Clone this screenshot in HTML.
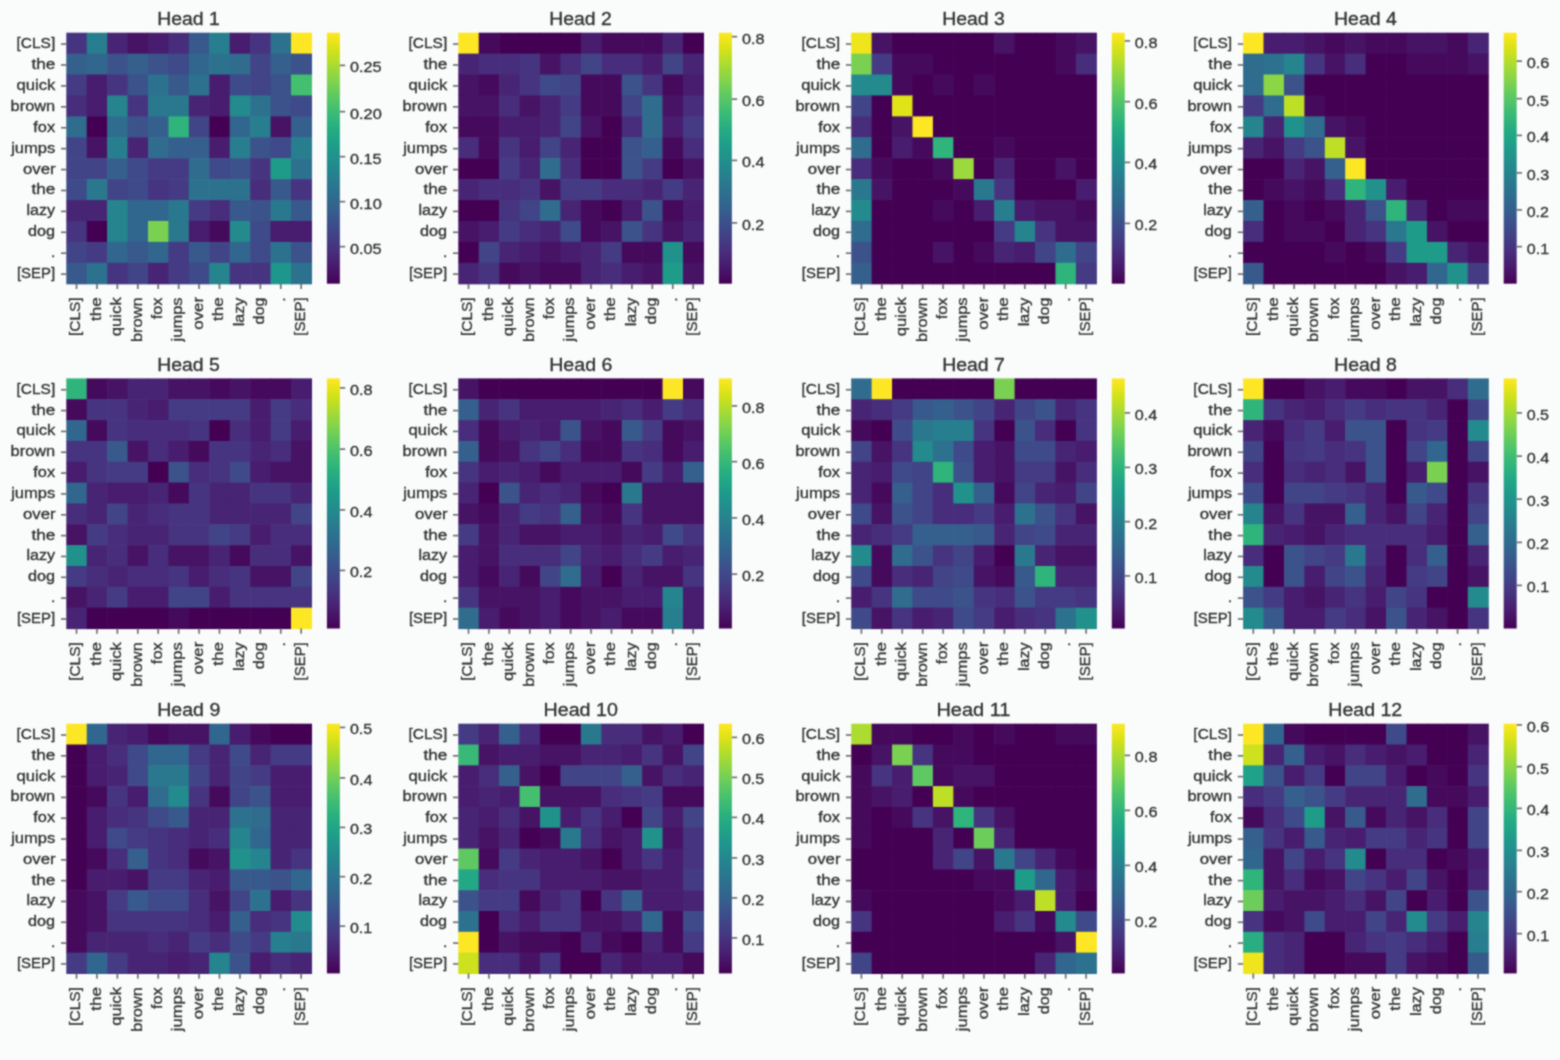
<!DOCTYPE html><html><head><meta charset="utf-8"><style>html,body{margin:0;padding:0;background:#fafbfb;width:1560px;height:1060px;overflow:hidden}svg{display:block}text{font-family:"Liberation Sans",sans-serif;fill:#303030;stroke:#303030;stroke-width:0.30px}</style></head><body>
<svg width="1560" height="1060" viewBox="0 0 1560 1060">
<defs><linearGradient id="vir" x1="0" y1="0" x2="0" y2="1"><stop offset="0.000" stop-color="#fde725"/><stop offset="0.031" stop-color="#ece51b"/><stop offset="0.062" stop-color="#d8e219"/><stop offset="0.094" stop-color="#c2df23"/><stop offset="0.125" stop-color="#addc30"/><stop offset="0.156" stop-color="#98d83e"/><stop offset="0.188" stop-color="#84d44b"/><stop offset="0.219" stop-color="#70cf57"/><stop offset="0.250" stop-color="#5ec962"/><stop offset="0.281" stop-color="#4ec36b"/><stop offset="0.312" stop-color="#3fbc73"/><stop offset="0.344" stop-color="#32b67a"/><stop offset="0.375" stop-color="#28ae80"/><stop offset="0.406" stop-color="#22a785"/><stop offset="0.438" stop-color="#1fa088"/><stop offset="0.469" stop-color="#1f988b"/><stop offset="0.500" stop-color="#21918c"/><stop offset="0.531" stop-color="#23898e"/><stop offset="0.562" stop-color="#26828e"/><stop offset="0.594" stop-color="#297a8e"/><stop offset="0.625" stop-color="#2c728e"/><stop offset="0.656" stop-color="#2f6b8e"/><stop offset="0.688" stop-color="#33638d"/><stop offset="0.719" stop-color="#375b8d"/><stop offset="0.750" stop-color="#3b528b"/><stop offset="0.781" stop-color="#3e4989"/><stop offset="0.812" stop-color="#424086"/><stop offset="0.844" stop-color="#453781"/><stop offset="0.875" stop-color="#472d7b"/><stop offset="0.906" stop-color="#482374"/><stop offset="0.938" stop-color="#48186a"/><stop offset="0.969" stop-color="#470d60"/><stop offset="1.000" stop-color="#440154"/></linearGradient><filter id="bl" x="-1%" y="-1%" width="102%" height="102%" color-interpolation-filters="sRGB"><feConvolveMatrix order="3" kernelMatrix="1 2 1 2 6 2 1 2 1" edgeMode="duplicate"/></filter></defs><g filter="url(#bl)"><rect x="0" y="0" width="1560" height="1060" fill="#fafbfb"/>
<g><rect x="66.30" y="32.70" width="21.03" height="21.52" fill="#463480"/><rect x="86.72" y="32.70" width="21.03" height="21.52" fill="#277e8e"/><rect x="107.15" y="32.70" width="21.03" height="21.52" fill="#482475"/><rect x="127.58" y="32.70" width="21.03" height="21.52" fill="#471365"/><rect x="148.00" y="32.70" width="21.03" height="21.52" fill="#481c6e"/><rect x="168.43" y="32.70" width="21.03" height="21.52" fill="#472d7b"/><rect x="188.85" y="32.70" width="21.03" height="21.52" fill="#38598c"/><rect x="209.27" y="32.70" width="21.03" height="21.52" fill="#277e8e"/><rect x="229.70" y="32.70" width="21.03" height="21.52" fill="#481c6e"/><rect x="250.12" y="32.70" width="21.03" height="21.52" fill="#463480"/><rect x="270.55" y="32.70" width="21.03" height="21.52" fill="#2c728e"/><rect x="290.98" y="32.70" width="21.03" height="21.52" fill="#fde725"/><rect x="66.30" y="53.62" width="21.03" height="21.52" fill="#355f8d"/><rect x="86.72" y="53.62" width="21.03" height="21.52" fill="#31668e"/><rect x="107.15" y="53.62" width="21.03" height="21.52" fill="#3b528b"/><rect x="127.58" y="53.62" width="21.03" height="21.52" fill="#355f8d"/><rect x="148.00" y="53.62" width="21.03" height="21.52" fill="#3b528b"/><rect x="168.43" y="53.62" width="21.03" height="21.52" fill="#3e4a89"/><rect x="188.85" y="53.62" width="21.03" height="21.52" fill="#31668e"/><rect x="209.27" y="53.62" width="21.03" height="21.52" fill="#2c728e"/><rect x="229.70" y="53.62" width="21.03" height="21.52" fill="#2f6c8e"/><rect x="250.12" y="53.62" width="21.03" height="21.52" fill="#414487"/><rect x="270.55" y="53.62" width="21.03" height="21.52" fill="#355f8d"/><rect x="290.98" y="53.62" width="21.03" height="21.52" fill="#3b528b"/><rect x="66.30" y="74.53" width="21.03" height="21.52" fill="#443b84"/><rect x="86.72" y="74.53" width="21.03" height="21.52" fill="#481c6e"/><rect x="107.15" y="74.53" width="21.03" height="21.52" fill="#463480"/><rect x="127.58" y="74.53" width="21.03" height="21.52" fill="#3b528b"/><rect x="148.00" y="74.53" width="21.03" height="21.52" fill="#2c728e"/><rect x="168.43" y="74.53" width="21.03" height="21.52" fill="#38598c"/><rect x="188.85" y="74.53" width="21.03" height="21.52" fill="#2c728e"/><rect x="209.27" y="74.53" width="21.03" height="21.52" fill="#481c6e"/><rect x="229.70" y="74.53" width="21.03" height="21.52" fill="#3e4a89"/><rect x="250.12" y="74.53" width="21.03" height="21.52" fill="#414487"/><rect x="270.55" y="74.53" width="21.03" height="21.52" fill="#3b528b"/><rect x="290.98" y="74.53" width="21.03" height="21.52" fill="#44bf70"/><rect x="66.30" y="95.45" width="21.03" height="21.52" fill="#472d7b"/><rect x="86.72" y="95.45" width="21.03" height="21.52" fill="#481c6e"/><rect x="107.15" y="95.45" width="21.03" height="21.52" fill="#25848e"/><rect x="127.58" y="95.45" width="21.03" height="21.52" fill="#463480"/><rect x="148.00" y="95.45" width="21.03" height="21.52" fill="#2a788e"/><rect x="168.43" y="95.45" width="21.03" height="21.52" fill="#2a788e"/><rect x="188.85" y="95.45" width="21.03" height="21.52" fill="#482475"/><rect x="209.27" y="95.45" width="21.03" height="21.52" fill="#481c6e"/><rect x="229.70" y="95.45" width="21.03" height="21.52" fill="#238a8d"/><rect x="250.12" y="95.45" width="21.03" height="21.52" fill="#2c728e"/><rect x="270.55" y="95.45" width="21.03" height="21.52" fill="#3b528b"/><rect x="290.98" y="95.45" width="21.03" height="21.52" fill="#3e4a89"/><rect x="66.30" y="116.37" width="21.03" height="21.52" fill="#2f6c8e"/><rect x="86.72" y="116.37" width="21.03" height="21.52" fill="#440154"/><rect x="107.15" y="116.37" width="21.03" height="21.52" fill="#2f6c8e"/><rect x="127.58" y="116.37" width="21.03" height="21.52" fill="#3b528b"/><rect x="148.00" y="116.37" width="21.03" height="21.52" fill="#355f8d"/><rect x="168.43" y="116.37" width="21.03" height="21.52" fill="#2fb47c"/><rect x="188.85" y="116.37" width="21.03" height="21.52" fill="#414487"/><rect x="209.27" y="116.37" width="21.03" height="21.52" fill="#440154"/><rect x="229.70" y="116.37" width="21.03" height="21.52" fill="#31668e"/><rect x="250.12" y="116.37" width="21.03" height="21.52" fill="#277e8e"/><rect x="270.55" y="116.37" width="21.03" height="21.52" fill="#471365"/><rect x="290.98" y="116.37" width="21.03" height="21.52" fill="#355f8d"/><rect x="66.30" y="137.28" width="21.03" height="21.52" fill="#414487"/><rect x="86.72" y="137.28" width="21.03" height="21.52" fill="#471365"/><rect x="107.15" y="137.28" width="21.03" height="21.52" fill="#277e8e"/><rect x="127.58" y="137.28" width="21.03" height="21.52" fill="#482475"/><rect x="148.00" y="137.28" width="21.03" height="21.52" fill="#2f6c8e"/><rect x="168.43" y="137.28" width="21.03" height="21.52" fill="#355f8d"/><rect x="188.85" y="137.28" width="21.03" height="21.52" fill="#355f8d"/><rect x="209.27" y="137.28" width="21.03" height="21.52" fill="#481c6e"/><rect x="229.70" y="137.28" width="21.03" height="21.52" fill="#277e8e"/><rect x="250.12" y="137.28" width="21.03" height="21.52" fill="#3b528b"/><rect x="270.55" y="137.28" width="21.03" height="21.52" fill="#3e4a89"/><rect x="290.98" y="137.28" width="21.03" height="21.52" fill="#277e8e"/><rect x="66.30" y="158.20" width="21.03" height="21.52" fill="#414487"/><rect x="86.72" y="158.20" width="21.03" height="21.52" fill="#414487"/><rect x="107.15" y="158.20" width="21.03" height="21.52" fill="#355f8d"/><rect x="127.58" y="158.20" width="21.03" height="21.52" fill="#3e4a89"/><rect x="148.00" y="158.20" width="21.03" height="21.52" fill="#443b84"/><rect x="168.43" y="158.20" width="21.03" height="21.52" fill="#443b84"/><rect x="188.85" y="158.20" width="21.03" height="21.52" fill="#2f6c8e"/><rect x="209.27" y="158.20" width="21.03" height="21.52" fill="#3e4a89"/><rect x="229.70" y="158.20" width="21.03" height="21.52" fill="#3b528b"/><rect x="250.12" y="158.20" width="21.03" height="21.52" fill="#463480"/><rect x="270.55" y="158.20" width="21.03" height="21.52" fill="#1e9c89"/><rect x="290.98" y="158.20" width="21.03" height="21.52" fill="#2c728e"/><rect x="66.30" y="179.12" width="21.03" height="21.52" fill="#3e4a89"/><rect x="86.72" y="179.12" width="21.03" height="21.52" fill="#2a788e"/><rect x="107.15" y="179.12" width="21.03" height="21.52" fill="#414487"/><rect x="127.58" y="179.12" width="21.03" height="21.52" fill="#3e4a89"/><rect x="148.00" y="179.12" width="21.03" height="21.52" fill="#463480"/><rect x="168.43" y="179.12" width="21.03" height="21.52" fill="#443b84"/><rect x="188.85" y="179.12" width="21.03" height="21.52" fill="#2c728e"/><rect x="209.27" y="179.12" width="21.03" height="21.52" fill="#2c728e"/><rect x="229.70" y="179.12" width="21.03" height="21.52" fill="#2c728e"/><rect x="250.12" y="179.12" width="21.03" height="21.52" fill="#472d7b"/><rect x="270.55" y="179.12" width="21.03" height="21.52" fill="#38598c"/><rect x="290.98" y="179.12" width="21.03" height="21.52" fill="#463480"/><rect x="66.30" y="200.03" width="21.03" height="21.52" fill="#482475"/><rect x="86.72" y="200.03" width="21.03" height="21.52" fill="#482475"/><rect x="107.15" y="200.03" width="21.03" height="21.52" fill="#25848e"/><rect x="127.58" y="200.03" width="21.03" height="21.52" fill="#31668e"/><rect x="148.00" y="200.03" width="21.03" height="21.52" fill="#31668e"/><rect x="168.43" y="200.03" width="21.03" height="21.52" fill="#2a788e"/><rect x="188.85" y="200.03" width="21.03" height="21.52" fill="#443b84"/><rect x="209.27" y="200.03" width="21.03" height="21.52" fill="#472d7b"/><rect x="229.70" y="200.03" width="21.03" height="21.52" fill="#38598c"/><rect x="250.12" y="200.03" width="21.03" height="21.52" fill="#3b528b"/><rect x="270.55" y="200.03" width="21.03" height="21.52" fill="#2a788e"/><rect x="290.98" y="200.03" width="21.03" height="21.52" fill="#38598c"/><rect x="66.30" y="220.95" width="21.03" height="21.52" fill="#463480"/><rect x="86.72" y="220.95" width="21.03" height="21.52" fill="#440154"/><rect x="107.15" y="220.95" width="21.03" height="21.52" fill="#25848e"/><rect x="127.58" y="220.95" width="21.03" height="21.52" fill="#31668e"/><rect x="148.00" y="220.95" width="21.03" height="21.52" fill="#7ad151"/><rect x="168.43" y="220.95" width="21.03" height="21.52" fill="#2a788e"/><rect x="188.85" y="220.95" width="21.03" height="21.52" fill="#481c6e"/><rect x="209.27" y="220.95" width="21.03" height="21.52" fill="#460a5d"/><rect x="229.70" y="220.95" width="21.03" height="21.52" fill="#238a8d"/><rect x="250.12" y="220.95" width="21.03" height="21.52" fill="#3e4a89"/><rect x="270.55" y="220.95" width="21.03" height="21.52" fill="#481c6e"/><rect x="290.98" y="220.95" width="21.03" height="21.52" fill="#481c6e"/><rect x="66.30" y="241.87" width="21.03" height="21.52" fill="#414487"/><rect x="86.72" y="241.87" width="21.03" height="21.52" fill="#443b84"/><rect x="107.15" y="241.87" width="21.03" height="21.52" fill="#31668e"/><rect x="127.58" y="241.87" width="21.03" height="21.52" fill="#38598c"/><rect x="148.00" y="241.87" width="21.03" height="21.52" fill="#31668e"/><rect x="168.43" y="241.87" width="21.03" height="21.52" fill="#443b84"/><rect x="188.85" y="241.87" width="21.03" height="21.52" fill="#38598c"/><rect x="209.27" y="241.87" width="21.03" height="21.52" fill="#414487"/><rect x="229.70" y="241.87" width="21.03" height="21.52" fill="#31668e"/><rect x="250.12" y="241.87" width="21.03" height="21.52" fill="#3e4a89"/><rect x="270.55" y="241.87" width="21.03" height="21.52" fill="#2c728e"/><rect x="290.98" y="241.87" width="21.03" height="21.52" fill="#3b528b"/><rect x="66.30" y="262.78" width="21.03" height="21.52" fill="#38598c"/><rect x="86.72" y="262.78" width="21.03" height="21.52" fill="#2c728e"/><rect x="107.15" y="262.78" width="21.03" height="21.52" fill="#463480"/><rect x="127.58" y="262.78" width="21.03" height="21.52" fill="#414487"/><rect x="148.00" y="262.78" width="21.03" height="21.52" fill="#482475"/><rect x="168.43" y="262.78" width="21.03" height="21.52" fill="#443b84"/><rect x="188.85" y="262.78" width="21.03" height="21.52" fill="#3e4a89"/><rect x="209.27" y="262.78" width="21.03" height="21.52" fill="#25848e"/><rect x="229.70" y="262.78" width="21.03" height="21.52" fill="#463480"/><rect x="250.12" y="262.78" width="21.03" height="21.52" fill="#463480"/><rect x="270.55" y="262.78" width="21.03" height="21.52" fill="#1f968b"/><rect x="290.98" y="262.78" width="21.03" height="21.52" fill="#2c728e"/><text transform="translate(157.24 25.00) scale(1.0551 1)" font-size="18.42">Head 1</text><line x1="61.00" y1="44.06" x2="66.30" y2="44.06" stroke="#6a6a6a" stroke-width="1.60"/><text transform="translate(16.56 48.06) scale(1.0236 1)" font-size="15.11">[CLS]</text><line x1="61.00" y1="64.98" x2="66.30" y2="64.98" stroke="#6a6a6a" stroke-width="1.60"/><text transform="translate(31.57 68.98) scale(1.1336 1)" font-size="15.11">the</text><line x1="61.00" y1="85.89" x2="66.30" y2="85.89" stroke="#6a6a6a" stroke-width="1.60"/><text transform="translate(16.45 89.89) scale(1.1024 1)" font-size="15.11">quick</text><line x1="61.00" y1="106.81" x2="66.30" y2="106.81" stroke="#6a6a6a" stroke-width="1.60"/><text transform="translate(10.60 110.81) scale(1.0843 1)" font-size="15.11">brown</text><line x1="61.00" y1="127.73" x2="66.30" y2="127.73" stroke="#6a6a6a" stroke-width="1.60"/><text transform="translate(33.24 131.73) scale(1.0841 1)" font-size="15.11">fox</text><line x1="61.00" y1="148.64" x2="66.30" y2="148.64" stroke="#6a6a6a" stroke-width="1.60"/><text transform="translate(11.13 152.64) scale(1.0954 1)" font-size="15.11">jumps</text><line x1="61.00" y1="169.56" x2="66.30" y2="169.56" stroke="#6a6a6a" stroke-width="1.60"/><text transform="translate(22.94 173.56) scale(1.1137 1)" font-size="15.11">over</text><line x1="61.00" y1="190.47" x2="66.30" y2="190.47" stroke="#6a6a6a" stroke-width="1.60"/><text transform="translate(31.57 194.47) scale(1.1336 1)" font-size="15.11">the</text><line x1="61.00" y1="211.39" x2="66.30" y2="211.39" stroke="#6a6a6a" stroke-width="1.60"/><text transform="translate(26.38 215.39) scale(1.0647 1)" font-size="15.11">lazy</text><line x1="61.00" y1="232.31" x2="66.30" y2="232.31" stroke="#6a6a6a" stroke-width="1.60"/><text transform="translate(28.05 236.31) scale(1.0734 1)" font-size="15.11">dog</text><line x1="61.00" y1="253.22" x2="66.30" y2="253.22" stroke="#6a6a6a" stroke-width="1.60"/><text transform="translate(50.88 257.23) scale(1.0454 1)" font-size="15.11">.</text><line x1="61.00" y1="274.14" x2="66.30" y2="274.14" stroke="#6a6a6a" stroke-width="1.60"/><text transform="translate(16.90 278.14) scale(0.9918 1)" font-size="15.11">[SEP]</text><line x1="76.51" y1="283.70" x2="76.51" y2="289.00" stroke="#6a6a6a" stroke-width="1.60"/><text transform="translate(80.36 336.04) rotate(-90) scale(1.0236 1)" font-size="15.11">[CLS]</text><line x1="96.94" y1="283.70" x2="96.94" y2="289.00" stroke="#6a6a6a" stroke-width="1.60"/><text transform="translate(100.79 321.03) rotate(-90) scale(1.1336 1)" font-size="15.11">the</text><line x1="117.36" y1="283.70" x2="117.36" y2="289.00" stroke="#6a6a6a" stroke-width="1.60"/><text transform="translate(121.21 336.15) rotate(-90) scale(1.1024 1)" font-size="15.11">quick</text><line x1="137.79" y1="283.70" x2="137.79" y2="289.00" stroke="#6a6a6a" stroke-width="1.60"/><text transform="translate(141.64 342.00) rotate(-90) scale(1.0843 1)" font-size="15.11">brown</text><line x1="158.21" y1="283.70" x2="158.21" y2="289.00" stroke="#6a6a6a" stroke-width="1.60"/><text transform="translate(162.06 319.36) rotate(-90) scale(1.0841 1)" font-size="15.11">fox</text><line x1="178.64" y1="283.70" x2="178.64" y2="289.00" stroke="#6a6a6a" stroke-width="1.60"/><text transform="translate(182.49 341.47) rotate(-90) scale(1.0954 1)" font-size="15.11">jumps</text><line x1="199.06" y1="283.70" x2="199.06" y2="289.00" stroke="#6a6a6a" stroke-width="1.60"/><text transform="translate(202.91 329.66) rotate(-90) scale(1.1137 1)" font-size="15.11">over</text><line x1="219.49" y1="283.70" x2="219.49" y2="289.00" stroke="#6a6a6a" stroke-width="1.60"/><text transform="translate(223.34 321.03) rotate(-90) scale(1.1336 1)" font-size="15.11">the</text><line x1="239.91" y1="283.70" x2="239.91" y2="289.00" stroke="#6a6a6a" stroke-width="1.60"/><text transform="translate(243.76 326.22) rotate(-90) scale(1.0647 1)" font-size="15.11">lazy</text><line x1="260.34" y1="283.70" x2="260.34" y2="289.00" stroke="#6a6a6a" stroke-width="1.60"/><text transform="translate(264.19 324.55) rotate(-90) scale(1.0734 1)" font-size="15.11">dog</text><line x1="280.76" y1="283.70" x2="280.76" y2="289.00" stroke="#6a6a6a" stroke-width="1.60"/><text transform="translate(284.61 301.72) rotate(-90) scale(1.0454 1)" font-size="15.11">.</text><line x1="301.19" y1="283.70" x2="301.19" y2="289.00" stroke="#6a6a6a" stroke-width="1.60"/><text transform="translate(305.04 335.70) rotate(-90) scale(0.9918 1)" font-size="15.11">[SEP]</text><rect x="326.90" y="32.70" width="13.00" height="251.00" fill="url(#vir)"/><line x1="339.90" y1="65.40" x2="345.20" y2="65.40" stroke="#6a6a6a" stroke-width="1.60"/><text transform="translate(349.93 72.30) scale(1.0486 1)" font-size="15.48">0.25</text><line x1="339.90" y1="111.65" x2="345.20" y2="111.65" stroke="#6a6a6a" stroke-width="1.60"/><text transform="translate(349.92 118.55) scale(1.0576 1)" font-size="15.48">0.20</text><line x1="339.90" y1="156.65" x2="345.20" y2="156.65" stroke="#6a6a6a" stroke-width="1.60"/><text transform="translate(349.93 163.55) scale(1.0486 1)" font-size="15.48">0.15</text><line x1="339.90" y1="201.65" x2="345.20" y2="201.65" stroke="#6a6a6a" stroke-width="1.60"/><text transform="translate(349.92 208.55) scale(1.0576 1)" font-size="15.48">0.10</text><line x1="339.90" y1="246.65" x2="345.20" y2="246.65" stroke="#6a6a6a" stroke-width="1.60"/><text transform="translate(349.93 253.55) scale(1.0486 1)" font-size="15.48">0.05</text></g>
<g><rect x="458.30" y="32.70" width="21.03" height="21.52" fill="#fde725"/><rect x="478.73" y="32.70" width="21.03" height="21.52" fill="#460a5d"/><rect x="499.15" y="32.70" width="21.03" height="21.52" fill="#440154"/><rect x="519.58" y="32.70" width="21.03" height="21.52" fill="#440154"/><rect x="540.00" y="32.70" width="21.03" height="21.52" fill="#440154"/><rect x="560.42" y="32.70" width="21.03" height="21.52" fill="#440154"/><rect x="580.85" y="32.70" width="21.03" height="21.52" fill="#481c6e"/><rect x="601.27" y="32.70" width="21.03" height="21.52" fill="#460a5d"/><rect x="621.70" y="32.70" width="21.03" height="21.52" fill="#460a5d"/><rect x="642.12" y="32.70" width="21.03" height="21.52" fill="#460a5d"/><rect x="662.55" y="32.70" width="21.03" height="21.52" fill="#482475"/><rect x="682.98" y="32.70" width="21.03" height="21.52" fill="#440154"/><rect x="458.30" y="53.62" width="21.03" height="21.52" fill="#482475"/><rect x="478.73" y="53.62" width="21.03" height="21.52" fill="#472d7b"/><rect x="499.15" y="53.62" width="21.03" height="21.52" fill="#472d7b"/><rect x="519.58" y="53.62" width="21.03" height="21.52" fill="#463480"/><rect x="540.00" y="53.62" width="21.03" height="21.52" fill="#471365"/><rect x="560.42" y="53.62" width="21.03" height="21.52" fill="#472d7b"/><rect x="580.85" y="53.62" width="21.03" height="21.52" fill="#414487"/><rect x="601.27" y="53.62" width="21.03" height="21.52" fill="#472d7b"/><rect x="621.70" y="53.62" width="21.03" height="21.52" fill="#472d7b"/><rect x="642.12" y="53.62" width="21.03" height="21.52" fill="#481c6e"/><rect x="662.55" y="53.62" width="21.03" height="21.52" fill="#414487"/><rect x="682.98" y="53.62" width="21.03" height="21.52" fill="#482475"/><rect x="458.30" y="74.53" width="21.03" height="21.52" fill="#471365"/><rect x="478.73" y="74.53" width="21.03" height="21.52" fill="#460a5d"/><rect x="499.15" y="74.53" width="21.03" height="21.52" fill="#482475"/><rect x="519.58" y="74.53" width="21.03" height="21.52" fill="#463480"/><rect x="540.00" y="74.53" width="21.03" height="21.52" fill="#3e4a89"/><rect x="560.42" y="74.53" width="21.03" height="21.52" fill="#414487"/><rect x="580.85" y="74.53" width="21.03" height="21.52" fill="#460a5d"/><rect x="601.27" y="74.53" width="21.03" height="21.52" fill="#460a5d"/><rect x="621.70" y="74.53" width="21.03" height="21.52" fill="#3b528b"/><rect x="642.12" y="74.53" width="21.03" height="21.52" fill="#463480"/><rect x="662.55" y="74.53" width="21.03" height="21.52" fill="#460a5d"/><rect x="682.98" y="74.53" width="21.03" height="21.52" fill="#481c6e"/><rect x="458.30" y="95.45" width="21.03" height="21.52" fill="#471365"/><rect x="478.73" y="95.45" width="21.03" height="21.52" fill="#471365"/><rect x="499.15" y="95.45" width="21.03" height="21.52" fill="#472d7b"/><rect x="519.58" y="95.45" width="21.03" height="21.52" fill="#471365"/><rect x="540.00" y="95.45" width="21.03" height="21.52" fill="#482475"/><rect x="560.42" y="95.45" width="21.03" height="21.52" fill="#443b84"/><rect x="580.85" y="95.45" width="21.03" height="21.52" fill="#460a5d"/><rect x="601.27" y="95.45" width="21.03" height="21.52" fill="#460a5d"/><rect x="621.70" y="95.45" width="21.03" height="21.52" fill="#414487"/><rect x="642.12" y="95.45" width="21.03" height="21.52" fill="#2f6c8e"/><rect x="662.55" y="95.45" width="21.03" height="21.52" fill="#471365"/><rect x="682.98" y="95.45" width="21.03" height="21.52" fill="#472d7b"/><rect x="458.30" y="116.37" width="21.03" height="21.52" fill="#460a5d"/><rect x="478.73" y="116.37" width="21.03" height="21.52" fill="#460a5d"/><rect x="499.15" y="116.37" width="21.03" height="21.52" fill="#481c6e"/><rect x="519.58" y="116.37" width="21.03" height="21.52" fill="#481c6e"/><rect x="540.00" y="116.37" width="21.03" height="21.52" fill="#482475"/><rect x="560.42" y="116.37" width="21.03" height="21.52" fill="#414487"/><rect x="580.85" y="116.37" width="21.03" height="21.52" fill="#471365"/><rect x="601.27" y="116.37" width="21.03" height="21.52" fill="#440154"/><rect x="621.70" y="116.37" width="21.03" height="21.52" fill="#472d7b"/><rect x="642.12" y="116.37" width="21.03" height="21.52" fill="#2f6c8e"/><rect x="662.55" y="116.37" width="21.03" height="21.52" fill="#481c6e"/><rect x="682.98" y="116.37" width="21.03" height="21.52" fill="#443b84"/><rect x="458.30" y="137.28" width="21.03" height="21.52" fill="#472d7b"/><rect x="478.73" y="137.28" width="21.03" height="21.52" fill="#460a5d"/><rect x="499.15" y="137.28" width="21.03" height="21.52" fill="#463480"/><rect x="519.58" y="137.28" width="21.03" height="21.52" fill="#481c6e"/><rect x="540.00" y="137.28" width="21.03" height="21.52" fill="#414487"/><rect x="560.42" y="137.28" width="21.03" height="21.52" fill="#482475"/><rect x="580.85" y="137.28" width="21.03" height="21.52" fill="#440154"/><rect x="601.27" y="137.28" width="21.03" height="21.52" fill="#440154"/><rect x="621.70" y="137.28" width="21.03" height="21.52" fill="#3b528b"/><rect x="642.12" y="137.28" width="21.03" height="21.52" fill="#355f8d"/><rect x="662.55" y="137.28" width="21.03" height="21.52" fill="#460a5d"/><rect x="682.98" y="137.28" width="21.03" height="21.52" fill="#472d7b"/><rect x="458.30" y="158.20" width="21.03" height="21.52" fill="#440154"/><rect x="478.73" y="158.20" width="21.03" height="21.52" fill="#440154"/><rect x="499.15" y="158.20" width="21.03" height="21.52" fill="#443b84"/><rect x="519.58" y="158.20" width="21.03" height="21.52" fill="#482475"/><rect x="540.00" y="158.20" width="21.03" height="21.52" fill="#2f6c8e"/><rect x="560.42" y="158.20" width="21.03" height="21.52" fill="#472d7b"/><rect x="580.85" y="158.20" width="21.03" height="21.52" fill="#440154"/><rect x="601.27" y="158.20" width="21.03" height="21.52" fill="#440154"/><rect x="621.70" y="158.20" width="21.03" height="21.52" fill="#3b528b"/><rect x="642.12" y="158.20" width="21.03" height="21.52" fill="#443b84"/><rect x="662.55" y="158.20" width="21.03" height="21.52" fill="#440154"/><rect x="682.98" y="158.20" width="21.03" height="21.52" fill="#471365"/><rect x="458.30" y="179.12" width="21.03" height="21.52" fill="#482475"/><rect x="478.73" y="179.12" width="21.03" height="21.52" fill="#472d7b"/><rect x="499.15" y="179.12" width="21.03" height="21.52" fill="#472d7b"/><rect x="519.58" y="179.12" width="21.03" height="21.52" fill="#463480"/><rect x="540.00" y="179.12" width="21.03" height="21.52" fill="#471365"/><rect x="560.42" y="179.12" width="21.03" height="21.52" fill="#443b84"/><rect x="580.85" y="179.12" width="21.03" height="21.52" fill="#443b84"/><rect x="601.27" y="179.12" width="21.03" height="21.52" fill="#472d7b"/><rect x="621.70" y="179.12" width="21.03" height="21.52" fill="#472d7b"/><rect x="642.12" y="179.12" width="21.03" height="21.52" fill="#482475"/><rect x="662.55" y="179.12" width="21.03" height="21.52" fill="#443b84"/><rect x="682.98" y="179.12" width="21.03" height="21.52" fill="#482475"/><rect x="458.30" y="200.03" width="21.03" height="21.52" fill="#440154"/><rect x="478.73" y="200.03" width="21.03" height="21.52" fill="#440154"/><rect x="499.15" y="200.03" width="21.03" height="21.52" fill="#463480"/><rect x="519.58" y="200.03" width="21.03" height="21.52" fill="#414487"/><rect x="540.00" y="200.03" width="21.03" height="21.52" fill="#2f6c8e"/><rect x="560.42" y="200.03" width="21.03" height="21.52" fill="#482475"/><rect x="580.85" y="200.03" width="21.03" height="21.52" fill="#460a5d"/><rect x="601.27" y="200.03" width="21.03" height="21.52" fill="#440154"/><rect x="621.70" y="200.03" width="21.03" height="21.52" fill="#481c6e"/><rect x="642.12" y="200.03" width="21.03" height="21.52" fill="#3b528b"/><rect x="662.55" y="200.03" width="21.03" height="21.52" fill="#460a5d"/><rect x="682.98" y="200.03" width="21.03" height="21.52" fill="#481c6e"/><rect x="458.30" y="220.95" width="21.03" height="21.52" fill="#471365"/><rect x="478.73" y="220.95" width="21.03" height="21.52" fill="#481c6e"/><rect x="499.15" y="220.95" width="21.03" height="21.52" fill="#443b84"/><rect x="519.58" y="220.95" width="21.03" height="21.52" fill="#472d7b"/><rect x="540.00" y="220.95" width="21.03" height="21.52" fill="#482475"/><rect x="560.42" y="220.95" width="21.03" height="21.52" fill="#3e4a89"/><rect x="580.85" y="220.95" width="21.03" height="21.52" fill="#460a5d"/><rect x="601.27" y="220.95" width="21.03" height="21.52" fill="#471365"/><rect x="621.70" y="220.95" width="21.03" height="21.52" fill="#3b528b"/><rect x="642.12" y="220.95" width="21.03" height="21.52" fill="#463480"/><rect x="662.55" y="220.95" width="21.03" height="21.52" fill="#471365"/><rect x="682.98" y="220.95" width="21.03" height="21.52" fill="#482475"/><rect x="458.30" y="241.87" width="21.03" height="21.52" fill="#440154"/><rect x="478.73" y="241.87" width="21.03" height="21.52" fill="#414487"/><rect x="499.15" y="241.87" width="21.03" height="21.52" fill="#482475"/><rect x="519.58" y="241.87" width="21.03" height="21.52" fill="#481c6e"/><rect x="540.00" y="241.87" width="21.03" height="21.52" fill="#471365"/><rect x="560.42" y="241.87" width="21.03" height="21.52" fill="#481c6e"/><rect x="580.85" y="241.87" width="21.03" height="21.52" fill="#482475"/><rect x="601.27" y="241.87" width="21.03" height="21.52" fill="#443b84"/><rect x="621.70" y="241.87" width="21.03" height="21.52" fill="#460a5d"/><rect x="642.12" y="241.87" width="21.03" height="21.52" fill="#460a5d"/><rect x="662.55" y="241.87" width="21.03" height="21.52" fill="#21918c"/><rect x="682.98" y="241.87" width="21.03" height="21.52" fill="#460a5d"/><rect x="458.30" y="262.78" width="21.03" height="21.52" fill="#482475"/><rect x="478.73" y="262.78" width="21.03" height="21.52" fill="#463480"/><rect x="499.15" y="262.78" width="21.03" height="21.52" fill="#460a5d"/><rect x="519.58" y="262.78" width="21.03" height="21.52" fill="#471365"/><rect x="540.00" y="262.78" width="21.03" height="21.52" fill="#460a5d"/><rect x="560.42" y="262.78" width="21.03" height="21.52" fill="#460a5d"/><rect x="580.85" y="262.78" width="21.03" height="21.52" fill="#482475"/><rect x="601.27" y="262.78" width="21.03" height="21.52" fill="#472d7b"/><rect x="621.70" y="262.78" width="21.03" height="21.52" fill="#481c6e"/><rect x="642.12" y="262.78" width="21.03" height="21.52" fill="#471365"/><rect x="662.55" y="262.78" width="21.03" height="21.52" fill="#1e9c89"/><rect x="682.98" y="262.78" width="21.03" height="21.52" fill="#471365"/><text transform="translate(549.24 25.00) scale(1.0531 1)" font-size="18.42">Head 2</text><line x1="453.00" y1="44.06" x2="458.30" y2="44.06" stroke="#6a6a6a" stroke-width="1.60"/><text transform="translate(408.56 48.06) scale(1.0236 1)" font-size="15.11">[CLS]</text><line x1="453.00" y1="64.98" x2="458.30" y2="64.98" stroke="#6a6a6a" stroke-width="1.60"/><text transform="translate(423.57 68.98) scale(1.1336 1)" font-size="15.11">the</text><line x1="453.00" y1="85.89" x2="458.30" y2="85.89" stroke="#6a6a6a" stroke-width="1.60"/><text transform="translate(408.45 89.89) scale(1.1024 1)" font-size="15.11">quick</text><line x1="453.00" y1="106.81" x2="458.30" y2="106.81" stroke="#6a6a6a" stroke-width="1.60"/><text transform="translate(402.60 110.81) scale(1.0843 1)" font-size="15.11">brown</text><line x1="453.00" y1="127.73" x2="458.30" y2="127.73" stroke="#6a6a6a" stroke-width="1.60"/><text transform="translate(425.24 131.73) scale(1.0841 1)" font-size="15.11">fox</text><line x1="453.00" y1="148.64" x2="458.30" y2="148.64" stroke="#6a6a6a" stroke-width="1.60"/><text transform="translate(403.13 152.64) scale(1.0954 1)" font-size="15.11">jumps</text><line x1="453.00" y1="169.56" x2="458.30" y2="169.56" stroke="#6a6a6a" stroke-width="1.60"/><text transform="translate(414.94 173.56) scale(1.1137 1)" font-size="15.11">over</text><line x1="453.00" y1="190.47" x2="458.30" y2="190.47" stroke="#6a6a6a" stroke-width="1.60"/><text transform="translate(423.57 194.47) scale(1.1336 1)" font-size="15.11">the</text><line x1="453.00" y1="211.39" x2="458.30" y2="211.39" stroke="#6a6a6a" stroke-width="1.60"/><text transform="translate(418.38 215.39) scale(1.0647 1)" font-size="15.11">lazy</text><line x1="453.00" y1="232.31" x2="458.30" y2="232.31" stroke="#6a6a6a" stroke-width="1.60"/><text transform="translate(420.05 236.31) scale(1.0734 1)" font-size="15.11">dog</text><line x1="453.00" y1="253.22" x2="458.30" y2="253.22" stroke="#6a6a6a" stroke-width="1.60"/><text transform="translate(442.88 257.23) scale(1.0454 1)" font-size="15.11">.</text><line x1="453.00" y1="274.14" x2="458.30" y2="274.14" stroke="#6a6a6a" stroke-width="1.60"/><text transform="translate(408.90 278.14) scale(0.9918 1)" font-size="15.11">[SEP]</text><line x1="468.51" y1="283.70" x2="468.51" y2="289.00" stroke="#6a6a6a" stroke-width="1.60"/><text transform="translate(472.36 336.04) rotate(-90) scale(1.0236 1)" font-size="15.11">[CLS]</text><line x1="488.94" y1="283.70" x2="488.94" y2="289.00" stroke="#6a6a6a" stroke-width="1.60"/><text transform="translate(492.79 321.03) rotate(-90) scale(1.1336 1)" font-size="15.11">the</text><line x1="509.36" y1="283.70" x2="509.36" y2="289.00" stroke="#6a6a6a" stroke-width="1.60"/><text transform="translate(513.21 336.15) rotate(-90) scale(1.1024 1)" font-size="15.11">quick</text><line x1="529.79" y1="283.70" x2="529.79" y2="289.00" stroke="#6a6a6a" stroke-width="1.60"/><text transform="translate(533.64 342.00) rotate(-90) scale(1.0843 1)" font-size="15.11">brown</text><line x1="550.21" y1="283.70" x2="550.21" y2="289.00" stroke="#6a6a6a" stroke-width="1.60"/><text transform="translate(554.06 319.36) rotate(-90) scale(1.0841 1)" font-size="15.11">fox</text><line x1="570.64" y1="283.70" x2="570.64" y2="289.00" stroke="#6a6a6a" stroke-width="1.60"/><text transform="translate(574.49 341.47) rotate(-90) scale(1.0954 1)" font-size="15.11">jumps</text><line x1="591.06" y1="283.70" x2="591.06" y2="289.00" stroke="#6a6a6a" stroke-width="1.60"/><text transform="translate(594.91 329.66) rotate(-90) scale(1.1137 1)" font-size="15.11">over</text><line x1="611.49" y1="283.70" x2="611.49" y2="289.00" stroke="#6a6a6a" stroke-width="1.60"/><text transform="translate(615.34 321.03) rotate(-90) scale(1.1336 1)" font-size="15.11">the</text><line x1="631.91" y1="283.70" x2="631.91" y2="289.00" stroke="#6a6a6a" stroke-width="1.60"/><text transform="translate(635.76 326.22) rotate(-90) scale(1.0647 1)" font-size="15.11">lazy</text><line x1="652.34" y1="283.70" x2="652.34" y2="289.00" stroke="#6a6a6a" stroke-width="1.60"/><text transform="translate(656.19 324.55) rotate(-90) scale(1.0734 1)" font-size="15.11">dog</text><line x1="672.76" y1="283.70" x2="672.76" y2="289.00" stroke="#6a6a6a" stroke-width="1.60"/><text transform="translate(676.61 301.72) rotate(-90) scale(1.0454 1)" font-size="15.11">.</text><line x1="693.19" y1="283.70" x2="693.19" y2="289.00" stroke="#6a6a6a" stroke-width="1.60"/><text transform="translate(697.04 335.70) rotate(-90) scale(0.9918 1)" font-size="15.11">[SEP]</text><rect x="718.90" y="32.70" width="13.00" height="251.00" fill="url(#vir)"/><line x1="731.90" y1="36.65" x2="737.20" y2="36.65" stroke="#6a6a6a" stroke-width="1.60"/><text transform="translate(741.93 43.55) scale(1.0505 1)" font-size="15.48">0.8</text><line x1="731.90" y1="99.15" x2="737.20" y2="99.15" stroke="#6a6a6a" stroke-width="1.60"/><text transform="translate(741.93 106.05) scale(1.0548 1)" font-size="15.48">0.6</text><line x1="731.90" y1="160.40" x2="737.20" y2="160.40" stroke="#6a6a6a" stroke-width="1.60"/><text transform="translate(741.93 167.30) scale(1.0480 1)" font-size="15.48">0.4</text><line x1="731.90" y1="222.90" x2="737.20" y2="222.90" stroke="#6a6a6a" stroke-width="1.60"/><text transform="translate(741.94 229.80) scale(1.0329 1)" font-size="15.48">0.2</text></g>
<g><rect x="851.20" y="32.70" width="21.03" height="21.52" fill="#efe51c"/><rect x="871.62" y="32.70" width="21.03" height="21.52" fill="#471365"/><rect x="892.05" y="32.70" width="21.03" height="21.52" fill="#440154"/><rect x="912.48" y="32.70" width="21.03" height="21.52" fill="#440154"/><rect x="932.90" y="32.70" width="21.03" height="21.52" fill="#440154"/><rect x="953.33" y="32.70" width="21.03" height="21.52" fill="#440154"/><rect x="973.75" y="32.70" width="21.03" height="21.52" fill="#440154"/><rect x="994.18" y="32.70" width="21.03" height="21.52" fill="#471365"/><rect x="1014.60" y="32.70" width="21.03" height="21.52" fill="#440154"/><rect x="1035.03" y="32.70" width="21.03" height="21.52" fill="#440154"/><rect x="1055.45" y="32.70" width="21.03" height="21.52" fill="#460a5d"/><rect x="1075.88" y="32.70" width="21.03" height="21.52" fill="#471365"/><rect x="851.20" y="53.62" width="21.03" height="21.52" fill="#7ad151"/><rect x="871.62" y="53.62" width="21.03" height="21.52" fill="#443b84"/><rect x="892.05" y="53.62" width="21.03" height="21.52" fill="#460a5d"/><rect x="912.48" y="53.62" width="21.03" height="21.52" fill="#460a5d"/><rect x="932.90" y="53.62" width="21.03" height="21.52" fill="#440154"/><rect x="953.33" y="53.62" width="21.03" height="21.52" fill="#440154"/><rect x="973.75" y="53.62" width="21.03" height="21.52" fill="#440154"/><rect x="994.18" y="53.62" width="21.03" height="21.52" fill="#440154"/><rect x="1014.60" y="53.62" width="21.03" height="21.52" fill="#440154"/><rect x="1035.03" y="53.62" width="21.03" height="21.52" fill="#440154"/><rect x="1055.45" y="53.62" width="21.03" height="21.52" fill="#460a5d"/><rect x="1075.88" y="53.62" width="21.03" height="21.52" fill="#472d7b"/><rect x="851.20" y="74.53" width="21.03" height="21.52" fill="#238a8d"/><rect x="871.62" y="74.53" width="21.03" height="21.52" fill="#238a8d"/><rect x="892.05" y="74.53" width="21.03" height="21.52" fill="#460a5d"/><rect x="912.48" y="74.53" width="21.03" height="21.52" fill="#440154"/><rect x="932.90" y="74.53" width="21.03" height="21.52" fill="#460a5d"/><rect x="953.33" y="74.53" width="21.03" height="21.52" fill="#440154"/><rect x="973.75" y="74.53" width="21.03" height="21.52" fill="#460a5d"/><rect x="994.18" y="74.53" width="21.03" height="21.52" fill="#440154"/><rect x="1014.60" y="74.53" width="21.03" height="21.52" fill="#440154"/><rect x="1035.03" y="74.53" width="21.03" height="21.52" fill="#440154"/><rect x="1055.45" y="74.53" width="21.03" height="21.52" fill="#440154"/><rect x="1075.88" y="74.53" width="21.03" height="21.52" fill="#440154"/><rect x="851.20" y="95.45" width="21.03" height="21.52" fill="#414487"/><rect x="871.62" y="95.45" width="21.03" height="21.52" fill="#440154"/><rect x="892.05" y="95.45" width="21.03" height="21.52" fill="#dfe318"/><rect x="912.48" y="95.45" width="21.03" height="21.52" fill="#440154"/><rect x="932.90" y="95.45" width="21.03" height="21.52" fill="#440154"/><rect x="953.33" y="95.45" width="21.03" height="21.52" fill="#440154"/><rect x="973.75" y="95.45" width="21.03" height="21.52" fill="#440154"/><rect x="994.18" y="95.45" width="21.03" height="21.52" fill="#440154"/><rect x="1014.60" y="95.45" width="21.03" height="21.52" fill="#440154"/><rect x="1035.03" y="95.45" width="21.03" height="21.52" fill="#440154"/><rect x="1055.45" y="95.45" width="21.03" height="21.52" fill="#440154"/><rect x="1075.88" y="95.45" width="21.03" height="21.52" fill="#440154"/><rect x="851.20" y="116.37" width="21.03" height="21.52" fill="#472d7b"/><rect x="871.62" y="116.37" width="21.03" height="21.52" fill="#440154"/><rect x="892.05" y="116.37" width="21.03" height="21.52" fill="#471365"/><rect x="912.48" y="116.37" width="21.03" height="21.52" fill="#fde725"/><rect x="932.90" y="116.37" width="21.03" height="21.52" fill="#440154"/><rect x="953.33" y="116.37" width="21.03" height="21.52" fill="#440154"/><rect x="973.75" y="116.37" width="21.03" height="21.52" fill="#440154"/><rect x="994.18" y="116.37" width="21.03" height="21.52" fill="#440154"/><rect x="1014.60" y="116.37" width="21.03" height="21.52" fill="#440154"/><rect x="1035.03" y="116.37" width="21.03" height="21.52" fill="#440154"/><rect x="1055.45" y="116.37" width="21.03" height="21.52" fill="#440154"/><rect x="1075.88" y="116.37" width="21.03" height="21.52" fill="#440154"/><rect x="851.20" y="137.28" width="21.03" height="21.52" fill="#2f6c8e"/><rect x="871.62" y="137.28" width="21.03" height="21.52" fill="#440154"/><rect x="892.05" y="137.28" width="21.03" height="21.52" fill="#481c6e"/><rect x="912.48" y="137.28" width="21.03" height="21.52" fill="#460a5d"/><rect x="932.90" y="137.28" width="21.03" height="21.52" fill="#2fb47c"/><rect x="953.33" y="137.28" width="21.03" height="21.52" fill="#440154"/><rect x="973.75" y="137.28" width="21.03" height="21.52" fill="#440154"/><rect x="994.18" y="137.28" width="21.03" height="21.52" fill="#460a5d"/><rect x="1014.60" y="137.28" width="21.03" height="21.52" fill="#440154"/><rect x="1035.03" y="137.28" width="21.03" height="21.52" fill="#440154"/><rect x="1055.45" y="137.28" width="21.03" height="21.52" fill="#440154"/><rect x="1075.88" y="137.28" width="21.03" height="21.52" fill="#440154"/><rect x="851.20" y="158.20" width="21.03" height="21.52" fill="#472d7b"/><rect x="871.62" y="158.20" width="21.03" height="21.52" fill="#460a5d"/><rect x="892.05" y="158.20" width="21.03" height="21.52" fill="#440154"/><rect x="912.48" y="158.20" width="21.03" height="21.52" fill="#440154"/><rect x="932.90" y="158.20" width="21.03" height="21.52" fill="#460a5d"/><rect x="953.33" y="158.20" width="21.03" height="21.52" fill="#9bd93c"/><rect x="973.75" y="158.20" width="21.03" height="21.52" fill="#440154"/><rect x="994.18" y="158.20" width="21.03" height="21.52" fill="#482475"/><rect x="1014.60" y="158.20" width="21.03" height="21.52" fill="#440154"/><rect x="1035.03" y="158.20" width="21.03" height="21.52" fill="#440154"/><rect x="1055.45" y="158.20" width="21.03" height="21.52" fill="#471365"/><rect x="1075.88" y="158.20" width="21.03" height="21.52" fill="#440154"/><rect x="851.20" y="179.12" width="21.03" height="21.52" fill="#2a788e"/><rect x="871.62" y="179.12" width="21.03" height="21.52" fill="#471365"/><rect x="892.05" y="179.12" width="21.03" height="21.52" fill="#440154"/><rect x="912.48" y="179.12" width="21.03" height="21.52" fill="#440154"/><rect x="932.90" y="179.12" width="21.03" height="21.52" fill="#440154"/><rect x="953.33" y="179.12" width="21.03" height="21.52" fill="#460a5d"/><rect x="973.75" y="179.12" width="21.03" height="21.52" fill="#2a788e"/><rect x="994.18" y="179.12" width="21.03" height="21.52" fill="#463480"/><rect x="1014.60" y="179.12" width="21.03" height="21.52" fill="#440154"/><rect x="1035.03" y="179.12" width="21.03" height="21.52" fill="#440154"/><rect x="1055.45" y="179.12" width="21.03" height="21.52" fill="#440154"/><rect x="1075.88" y="179.12" width="21.03" height="21.52" fill="#481c6e"/><rect x="851.20" y="200.03" width="21.03" height="21.52" fill="#238a8d"/><rect x="871.62" y="200.03" width="21.03" height="21.52" fill="#440154"/><rect x="892.05" y="200.03" width="21.03" height="21.52" fill="#440154"/><rect x="912.48" y="200.03" width="21.03" height="21.52" fill="#440154"/><rect x="932.90" y="200.03" width="21.03" height="21.52" fill="#460a5d"/><rect x="953.33" y="200.03" width="21.03" height="21.52" fill="#440154"/><rect x="973.75" y="200.03" width="21.03" height="21.52" fill="#481c6e"/><rect x="994.18" y="200.03" width="21.03" height="21.52" fill="#277e8e"/><rect x="1014.60" y="200.03" width="21.03" height="21.52" fill="#481c6e"/><rect x="1035.03" y="200.03" width="21.03" height="21.52" fill="#471365"/><rect x="1055.45" y="200.03" width="21.03" height="21.52" fill="#471365"/><rect x="1075.88" y="200.03" width="21.03" height="21.52" fill="#460a5d"/><rect x="851.20" y="220.95" width="21.03" height="21.52" fill="#2f6c8e"/><rect x="871.62" y="220.95" width="21.03" height="21.52" fill="#440154"/><rect x="892.05" y="220.95" width="21.03" height="21.52" fill="#440154"/><rect x="912.48" y="220.95" width="21.03" height="21.52" fill="#440154"/><rect x="932.90" y="220.95" width="21.03" height="21.52" fill="#440154"/><rect x="953.33" y="220.95" width="21.03" height="21.52" fill="#440154"/><rect x="973.75" y="220.95" width="21.03" height="21.52" fill="#440154"/><rect x="994.18" y="220.95" width="21.03" height="21.52" fill="#443b84"/><rect x="1014.60" y="220.95" width="21.03" height="21.52" fill="#25848e"/><rect x="1035.03" y="220.95" width="21.03" height="21.52" fill="#463480"/><rect x="1055.45" y="220.95" width="21.03" height="21.52" fill="#471365"/><rect x="1075.88" y="220.95" width="21.03" height="21.52" fill="#471365"/><rect x="851.20" y="241.87" width="21.03" height="21.52" fill="#3b528b"/><rect x="871.62" y="241.87" width="21.03" height="21.52" fill="#440154"/><rect x="892.05" y="241.87" width="21.03" height="21.52" fill="#440154"/><rect x="912.48" y="241.87" width="21.03" height="21.52" fill="#440154"/><rect x="932.90" y="241.87" width="21.03" height="21.52" fill="#471365"/><rect x="953.33" y="241.87" width="21.03" height="21.52" fill="#440154"/><rect x="973.75" y="241.87" width="21.03" height="21.52" fill="#460a5d"/><rect x="994.18" y="241.87" width="21.03" height="21.52" fill="#482475"/><rect x="1014.60" y="241.87" width="21.03" height="21.52" fill="#481c6e"/><rect x="1035.03" y="241.87" width="21.03" height="21.52" fill="#414487"/><rect x="1055.45" y="241.87" width="21.03" height="21.52" fill="#2f6c8e"/><rect x="1075.88" y="241.87" width="21.03" height="21.52" fill="#414487"/><rect x="851.20" y="262.78" width="21.03" height="21.52" fill="#355f8d"/><rect x="871.62" y="262.78" width="21.03" height="21.52" fill="#440154"/><rect x="892.05" y="262.78" width="21.03" height="21.52" fill="#440154"/><rect x="912.48" y="262.78" width="21.03" height="21.52" fill="#440154"/><rect x="932.90" y="262.78" width="21.03" height="21.52" fill="#440154"/><rect x="953.33" y="262.78" width="21.03" height="21.52" fill="#440154"/><rect x="973.75" y="262.78" width="21.03" height="21.52" fill="#440154"/><rect x="994.18" y="262.78" width="21.03" height="21.52" fill="#440154"/><rect x="1014.60" y="262.78" width="21.03" height="21.52" fill="#440154"/><rect x="1035.03" y="262.78" width="21.03" height="21.52" fill="#440154"/><rect x="1055.45" y="262.78" width="21.03" height="21.52" fill="#2fb47c"/><rect x="1075.88" y="262.78" width="21.03" height="21.52" fill="#443b84"/><text transform="translate(942.13 25.00) scale(1.0572 1)" font-size="18.42">Head 3</text><line x1="845.90" y1="44.06" x2="851.20" y2="44.06" stroke="#6a6a6a" stroke-width="1.60"/><text transform="translate(801.46 48.06) scale(1.0236 1)" font-size="15.11">[CLS]</text><line x1="845.90" y1="64.98" x2="851.20" y2="64.98" stroke="#6a6a6a" stroke-width="1.60"/><text transform="translate(816.47 68.98) scale(1.1336 1)" font-size="15.11">the</text><line x1="845.90" y1="85.89" x2="851.20" y2="85.89" stroke="#6a6a6a" stroke-width="1.60"/><text transform="translate(801.35 89.89) scale(1.1024 1)" font-size="15.11">quick</text><line x1="845.90" y1="106.81" x2="851.20" y2="106.81" stroke="#6a6a6a" stroke-width="1.60"/><text transform="translate(795.50 110.81) scale(1.0843 1)" font-size="15.11">brown</text><line x1="845.90" y1="127.73" x2="851.20" y2="127.73" stroke="#6a6a6a" stroke-width="1.60"/><text transform="translate(818.14 131.73) scale(1.0841 1)" font-size="15.11">fox</text><line x1="845.90" y1="148.64" x2="851.20" y2="148.64" stroke="#6a6a6a" stroke-width="1.60"/><text transform="translate(796.03 152.64) scale(1.0954 1)" font-size="15.11">jumps</text><line x1="845.90" y1="169.56" x2="851.20" y2="169.56" stroke="#6a6a6a" stroke-width="1.60"/><text transform="translate(807.84 173.56) scale(1.1137 1)" font-size="15.11">over</text><line x1="845.90" y1="190.47" x2="851.20" y2="190.47" stroke="#6a6a6a" stroke-width="1.60"/><text transform="translate(816.47 194.47) scale(1.1336 1)" font-size="15.11">the</text><line x1="845.90" y1="211.39" x2="851.20" y2="211.39" stroke="#6a6a6a" stroke-width="1.60"/><text transform="translate(811.28 215.39) scale(1.0647 1)" font-size="15.11">lazy</text><line x1="845.90" y1="232.31" x2="851.20" y2="232.31" stroke="#6a6a6a" stroke-width="1.60"/><text transform="translate(812.95 236.31) scale(1.0734 1)" font-size="15.11">dog</text><line x1="845.90" y1="253.22" x2="851.20" y2="253.22" stroke="#6a6a6a" stroke-width="1.60"/><text transform="translate(835.78 257.23) scale(1.0454 1)" font-size="15.11">.</text><line x1="845.90" y1="274.14" x2="851.20" y2="274.14" stroke="#6a6a6a" stroke-width="1.60"/><text transform="translate(801.80 278.14) scale(0.9918 1)" font-size="15.11">[SEP]</text><line x1="861.41" y1="283.70" x2="861.41" y2="289.00" stroke="#6a6a6a" stroke-width="1.60"/><text transform="translate(865.26 336.04) rotate(-90) scale(1.0236 1)" font-size="15.11">[CLS]</text><line x1="881.84" y1="283.70" x2="881.84" y2="289.00" stroke="#6a6a6a" stroke-width="1.60"/><text transform="translate(885.69 321.03) rotate(-90) scale(1.1336 1)" font-size="15.11">the</text><line x1="902.26" y1="283.70" x2="902.26" y2="289.00" stroke="#6a6a6a" stroke-width="1.60"/><text transform="translate(906.11 336.15) rotate(-90) scale(1.1024 1)" font-size="15.11">quick</text><line x1="922.69" y1="283.70" x2="922.69" y2="289.00" stroke="#6a6a6a" stroke-width="1.60"/><text transform="translate(926.54 342.00) rotate(-90) scale(1.0843 1)" font-size="15.11">brown</text><line x1="943.11" y1="283.70" x2="943.11" y2="289.00" stroke="#6a6a6a" stroke-width="1.60"/><text transform="translate(946.96 319.36) rotate(-90) scale(1.0841 1)" font-size="15.11">fox</text><line x1="963.54" y1="283.70" x2="963.54" y2="289.00" stroke="#6a6a6a" stroke-width="1.60"/><text transform="translate(967.39 341.47) rotate(-90) scale(1.0954 1)" font-size="15.11">jumps</text><line x1="983.96" y1="283.70" x2="983.96" y2="289.00" stroke="#6a6a6a" stroke-width="1.60"/><text transform="translate(987.81 329.66) rotate(-90) scale(1.1137 1)" font-size="15.11">over</text><line x1="1004.39" y1="283.70" x2="1004.39" y2="289.00" stroke="#6a6a6a" stroke-width="1.60"/><text transform="translate(1008.24 321.03) rotate(-90) scale(1.1336 1)" font-size="15.11">the</text><line x1="1024.81" y1="283.70" x2="1024.81" y2="289.00" stroke="#6a6a6a" stroke-width="1.60"/><text transform="translate(1028.66 326.22) rotate(-90) scale(1.0647 1)" font-size="15.11">lazy</text><line x1="1045.24" y1="283.70" x2="1045.24" y2="289.00" stroke="#6a6a6a" stroke-width="1.60"/><text transform="translate(1049.09 324.55) rotate(-90) scale(1.0734 1)" font-size="15.11">dog</text><line x1="1065.66" y1="283.70" x2="1065.66" y2="289.00" stroke="#6a6a6a" stroke-width="1.60"/><text transform="translate(1069.51 301.72) rotate(-90) scale(1.0454 1)" font-size="15.11">.</text><line x1="1086.09" y1="283.70" x2="1086.09" y2="289.00" stroke="#6a6a6a" stroke-width="1.60"/><text transform="translate(1089.94 335.70) rotate(-90) scale(0.9918 1)" font-size="15.11">[SEP]</text><rect x="1111.80" y="32.70" width="13.00" height="251.00" fill="url(#vir)"/><line x1="1124.80" y1="40.90" x2="1130.10" y2="40.90" stroke="#6a6a6a" stroke-width="1.60"/><text transform="translate(1134.83 47.80) scale(1.0505 1)" font-size="15.48">0.8</text><line x1="1124.80" y1="101.65" x2="1130.10" y2="101.65" stroke="#6a6a6a" stroke-width="1.60"/><text transform="translate(1134.83 108.55) scale(1.0548 1)" font-size="15.48">0.6</text><line x1="1124.80" y1="162.40" x2="1130.10" y2="162.40" stroke="#6a6a6a" stroke-width="1.60"/><text transform="translate(1134.83 169.30) scale(1.0480 1)" font-size="15.48">0.4</text><line x1="1124.80" y1="223.40" x2="1130.10" y2="223.40" stroke="#6a6a6a" stroke-width="1.60"/><text transform="translate(1134.84 230.30) scale(1.0329 1)" font-size="15.48">0.2</text></g>
<g><rect x="1243.10" y="32.70" width="21.03" height="21.52" fill="#fde725"/><rect x="1263.52" y="32.70" width="21.03" height="21.52" fill="#481c6e"/><rect x="1283.95" y="32.70" width="21.03" height="21.52" fill="#481c6e"/><rect x="1304.38" y="32.70" width="21.03" height="21.52" fill="#471365"/><rect x="1324.80" y="32.70" width="21.03" height="21.52" fill="#460a5d"/><rect x="1345.22" y="32.70" width="21.03" height="21.52" fill="#471365"/><rect x="1365.65" y="32.70" width="21.03" height="21.52" fill="#460a5d"/><rect x="1386.07" y="32.70" width="21.03" height="21.52" fill="#460a5d"/><rect x="1406.50" y="32.70" width="21.03" height="21.52" fill="#471365"/><rect x="1426.92" y="32.70" width="21.03" height="21.52" fill="#471365"/><rect x="1447.35" y="32.70" width="21.03" height="21.52" fill="#460a5d"/><rect x="1467.77" y="32.70" width="21.03" height="21.52" fill="#482475"/><rect x="1243.10" y="53.62" width="21.03" height="21.52" fill="#2f6c8e"/><rect x="1263.52" y="53.62" width="21.03" height="21.52" fill="#2c728e"/><rect x="1283.95" y="53.62" width="21.03" height="21.52" fill="#25848e"/><rect x="1304.38" y="53.62" width="21.03" height="21.52" fill="#463480"/><rect x="1324.80" y="53.62" width="21.03" height="21.52" fill="#471365"/><rect x="1345.22" y="53.62" width="21.03" height="21.52" fill="#472d7b"/><rect x="1365.65" y="53.62" width="21.03" height="21.52" fill="#440154"/><rect x="1386.07" y="53.62" width="21.03" height="21.52" fill="#440154"/><rect x="1406.50" y="53.62" width="21.03" height="21.52" fill="#460a5d"/><rect x="1426.92" y="53.62" width="21.03" height="21.52" fill="#460a5d"/><rect x="1447.35" y="53.62" width="21.03" height="21.52" fill="#460a5d"/><rect x="1467.77" y="53.62" width="21.03" height="21.52" fill="#471365"/><rect x="1243.10" y="74.53" width="21.03" height="21.52" fill="#2f6c8e"/><rect x="1263.52" y="74.53" width="21.03" height="21.52" fill="#8bd646"/><rect x="1283.95" y="74.53" width="21.03" height="21.52" fill="#3b528b"/><rect x="1304.38" y="74.53" width="21.03" height="21.52" fill="#440154"/><rect x="1324.80" y="74.53" width="21.03" height="21.52" fill="#440154"/><rect x="1345.22" y="74.53" width="21.03" height="21.52" fill="#440154"/><rect x="1365.65" y="74.53" width="21.03" height="21.52" fill="#440154"/><rect x="1386.07" y="74.53" width="21.03" height="21.52" fill="#440154"/><rect x="1406.50" y="74.53" width="21.03" height="21.52" fill="#440154"/><rect x="1426.92" y="74.53" width="21.03" height="21.52" fill="#440154"/><rect x="1447.35" y="74.53" width="21.03" height="21.52" fill="#440154"/><rect x="1467.77" y="74.53" width="21.03" height="21.52" fill="#440154"/><rect x="1243.10" y="95.45" width="21.03" height="21.52" fill="#443b84"/><rect x="1263.52" y="95.45" width="21.03" height="21.52" fill="#2f6c8e"/><rect x="1283.95" y="95.45" width="21.03" height="21.52" fill="#bddf26"/><rect x="1304.38" y="95.45" width="21.03" height="21.52" fill="#460a5d"/><rect x="1324.80" y="95.45" width="21.03" height="21.52" fill="#440154"/><rect x="1345.22" y="95.45" width="21.03" height="21.52" fill="#440154"/><rect x="1365.65" y="95.45" width="21.03" height="21.52" fill="#440154"/><rect x="1386.07" y="95.45" width="21.03" height="21.52" fill="#440154"/><rect x="1406.50" y="95.45" width="21.03" height="21.52" fill="#440154"/><rect x="1426.92" y="95.45" width="21.03" height="21.52" fill="#440154"/><rect x="1447.35" y="95.45" width="21.03" height="21.52" fill="#440154"/><rect x="1467.77" y="95.45" width="21.03" height="21.52" fill="#440154"/><rect x="1243.10" y="116.37" width="21.03" height="21.52" fill="#25848e"/><rect x="1263.52" y="116.37" width="21.03" height="21.52" fill="#482475"/><rect x="1283.95" y="116.37" width="21.03" height="21.52" fill="#21918c"/><rect x="1304.38" y="116.37" width="21.03" height="21.52" fill="#2f6c8e"/><rect x="1324.80" y="116.37" width="21.03" height="21.52" fill="#471365"/><rect x="1345.22" y="116.37" width="21.03" height="21.52" fill="#460a5d"/><rect x="1365.65" y="116.37" width="21.03" height="21.52" fill="#440154"/><rect x="1386.07" y="116.37" width="21.03" height="21.52" fill="#440154"/><rect x="1406.50" y="116.37" width="21.03" height="21.52" fill="#440154"/><rect x="1426.92" y="116.37" width="21.03" height="21.52" fill="#440154"/><rect x="1447.35" y="116.37" width="21.03" height="21.52" fill="#440154"/><rect x="1467.77" y="116.37" width="21.03" height="21.52" fill="#440154"/><rect x="1243.10" y="137.28" width="21.03" height="21.52" fill="#482475"/><rect x="1263.52" y="137.28" width="21.03" height="21.52" fill="#471365"/><rect x="1283.95" y="137.28" width="21.03" height="21.52" fill="#443b84"/><rect x="1304.38" y="137.28" width="21.03" height="21.52" fill="#3b528b"/><rect x="1324.80" y="137.28" width="21.03" height="21.52" fill="#bddf26"/><rect x="1345.22" y="137.28" width="21.03" height="21.52" fill="#471365"/><rect x="1365.65" y="137.28" width="21.03" height="21.52" fill="#440154"/><rect x="1386.07" y="137.28" width="21.03" height="21.52" fill="#440154"/><rect x="1406.50" y="137.28" width="21.03" height="21.52" fill="#440154"/><rect x="1426.92" y="137.28" width="21.03" height="21.52" fill="#440154"/><rect x="1447.35" y="137.28" width="21.03" height="21.52" fill="#440154"/><rect x="1467.77" y="137.28" width="21.03" height="21.52" fill="#440154"/><rect x="1243.10" y="158.20" width="21.03" height="21.52" fill="#440154"/><rect x="1263.52" y="158.20" width="21.03" height="21.52" fill="#440154"/><rect x="1283.95" y="158.20" width="21.03" height="21.52" fill="#482475"/><rect x="1304.38" y="158.20" width="21.03" height="21.52" fill="#471365"/><rect x="1324.80" y="158.20" width="21.03" height="21.52" fill="#355f8d"/><rect x="1345.22" y="158.20" width="21.03" height="21.52" fill="#fde725"/><rect x="1365.65" y="158.20" width="21.03" height="21.52" fill="#440154"/><rect x="1386.07" y="158.20" width="21.03" height="21.52" fill="#440154"/><rect x="1406.50" y="158.20" width="21.03" height="21.52" fill="#440154"/><rect x="1426.92" y="158.20" width="21.03" height="21.52" fill="#440154"/><rect x="1447.35" y="158.20" width="21.03" height="21.52" fill="#440154"/><rect x="1467.77" y="158.20" width="21.03" height="21.52" fill="#440154"/><rect x="1243.10" y="179.12" width="21.03" height="21.52" fill="#440154"/><rect x="1263.52" y="179.12" width="21.03" height="21.52" fill="#460a5d"/><rect x="1283.95" y="179.12" width="21.03" height="21.52" fill="#471365"/><rect x="1304.38" y="179.12" width="21.03" height="21.52" fill="#460a5d"/><rect x="1324.80" y="179.12" width="21.03" height="21.52" fill="#472d7b"/><rect x="1345.22" y="179.12" width="21.03" height="21.52" fill="#2fb47c"/><rect x="1365.65" y="179.12" width="21.03" height="21.52" fill="#21918c"/><rect x="1386.07" y="179.12" width="21.03" height="21.52" fill="#481c6e"/><rect x="1406.50" y="179.12" width="21.03" height="21.52" fill="#440154"/><rect x="1426.92" y="179.12" width="21.03" height="21.52" fill="#440154"/><rect x="1447.35" y="179.12" width="21.03" height="21.52" fill="#440154"/><rect x="1467.77" y="179.12" width="21.03" height="21.52" fill="#440154"/><rect x="1243.10" y="200.03" width="21.03" height="21.52" fill="#355f8d"/><rect x="1263.52" y="200.03" width="21.03" height="21.52" fill="#440154"/><rect x="1283.95" y="200.03" width="21.03" height="21.52" fill="#460a5d"/><rect x="1304.38" y="200.03" width="21.03" height="21.52" fill="#440154"/><rect x="1324.80" y="200.03" width="21.03" height="21.52" fill="#460a5d"/><rect x="1345.22" y="200.03" width="21.03" height="21.52" fill="#482475"/><rect x="1365.65" y="200.03" width="21.03" height="21.52" fill="#3b528b"/><rect x="1386.07" y="200.03" width="21.03" height="21.52" fill="#2fb47c"/><rect x="1406.50" y="200.03" width="21.03" height="21.52" fill="#482475"/><rect x="1426.92" y="200.03" width="21.03" height="21.52" fill="#440154"/><rect x="1447.35" y="200.03" width="21.03" height="21.52" fill="#460a5d"/><rect x="1467.77" y="200.03" width="21.03" height="21.52" fill="#460a5d"/><rect x="1243.10" y="220.95" width="21.03" height="21.52" fill="#472d7b"/><rect x="1263.52" y="220.95" width="21.03" height="21.52" fill="#440154"/><rect x="1283.95" y="220.95" width="21.03" height="21.52" fill="#460a5d"/><rect x="1304.38" y="220.95" width="21.03" height="21.52" fill="#460a5d"/><rect x="1324.80" y="220.95" width="21.03" height="21.52" fill="#440154"/><rect x="1345.22" y="220.95" width="21.03" height="21.52" fill="#482475"/><rect x="1365.65" y="220.95" width="21.03" height="21.52" fill="#463480"/><rect x="1386.07" y="220.95" width="21.03" height="21.52" fill="#2a788e"/><rect x="1406.50" y="220.95" width="21.03" height="21.52" fill="#1e9c89"/><rect x="1426.92" y="220.95" width="21.03" height="21.52" fill="#471365"/><rect x="1447.35" y="220.95" width="21.03" height="21.52" fill="#440154"/><rect x="1467.77" y="220.95" width="21.03" height="21.52" fill="#440154"/><rect x="1243.10" y="241.87" width="21.03" height="21.52" fill="#440154"/><rect x="1263.52" y="241.87" width="21.03" height="21.52" fill="#440154"/><rect x="1283.95" y="241.87" width="21.03" height="21.52" fill="#440154"/><rect x="1304.38" y="241.87" width="21.03" height="21.52" fill="#440154"/><rect x="1324.80" y="241.87" width="21.03" height="21.52" fill="#460a5d"/><rect x="1345.22" y="241.87" width="21.03" height="21.52" fill="#440154"/><rect x="1365.65" y="241.87" width="21.03" height="21.52" fill="#460a5d"/><rect x="1386.07" y="241.87" width="21.03" height="21.52" fill="#443b84"/><rect x="1406.50" y="241.87" width="21.03" height="21.52" fill="#1e9c89"/><rect x="1426.92" y="241.87" width="21.03" height="21.52" fill="#1e9c89"/><rect x="1447.35" y="241.87" width="21.03" height="21.52" fill="#482475"/><rect x="1467.77" y="241.87" width="21.03" height="21.52" fill="#471365"/><rect x="1243.10" y="262.78" width="21.03" height="21.52" fill="#38598c"/><rect x="1263.52" y="262.78" width="21.03" height="21.52" fill="#440154"/><rect x="1283.95" y="262.78" width="21.03" height="21.52" fill="#440154"/><rect x="1304.38" y="262.78" width="21.03" height="21.52" fill="#440154"/><rect x="1324.80" y="262.78" width="21.03" height="21.52" fill="#440154"/><rect x="1345.22" y="262.78" width="21.03" height="21.52" fill="#440154"/><rect x="1365.65" y="262.78" width="21.03" height="21.52" fill="#440154"/><rect x="1386.07" y="262.78" width="21.03" height="21.52" fill="#471365"/><rect x="1406.50" y="262.78" width="21.03" height="21.52" fill="#481c6e"/><rect x="1426.92" y="262.78" width="21.03" height="21.52" fill="#31668e"/><rect x="1447.35" y="262.78" width="21.03" height="21.52" fill="#21918c"/><rect x="1467.77" y="262.78" width="21.03" height="21.52" fill="#443b84"/><text transform="translate(1334.03 25.00) scale(1.0597 1)" font-size="18.42">Head 4</text><line x1="1237.80" y1="44.06" x2="1243.10" y2="44.06" stroke="#6a6a6a" stroke-width="1.60"/><text transform="translate(1193.36 48.06) scale(1.0236 1)" font-size="15.11">[CLS]</text><line x1="1237.80" y1="64.98" x2="1243.10" y2="64.98" stroke="#6a6a6a" stroke-width="1.60"/><text transform="translate(1208.37 68.98) scale(1.1336 1)" font-size="15.11">the</text><line x1="1237.80" y1="85.89" x2="1243.10" y2="85.89" stroke="#6a6a6a" stroke-width="1.60"/><text transform="translate(1193.25 89.89) scale(1.1024 1)" font-size="15.11">quick</text><line x1="1237.80" y1="106.81" x2="1243.10" y2="106.81" stroke="#6a6a6a" stroke-width="1.60"/><text transform="translate(1187.40 110.81) scale(1.0843 1)" font-size="15.11">brown</text><line x1="1237.80" y1="127.73" x2="1243.10" y2="127.73" stroke="#6a6a6a" stroke-width="1.60"/><text transform="translate(1210.04 131.73) scale(1.0841 1)" font-size="15.11">fox</text><line x1="1237.80" y1="148.64" x2="1243.10" y2="148.64" stroke="#6a6a6a" stroke-width="1.60"/><text transform="translate(1187.93 152.64) scale(1.0954 1)" font-size="15.11">jumps</text><line x1="1237.80" y1="169.56" x2="1243.10" y2="169.56" stroke="#6a6a6a" stroke-width="1.60"/><text transform="translate(1199.74 173.56) scale(1.1137 1)" font-size="15.11">over</text><line x1="1237.80" y1="190.47" x2="1243.10" y2="190.47" stroke="#6a6a6a" stroke-width="1.60"/><text transform="translate(1208.37 194.47) scale(1.1336 1)" font-size="15.11">the</text><line x1="1237.80" y1="211.39" x2="1243.10" y2="211.39" stroke="#6a6a6a" stroke-width="1.60"/><text transform="translate(1203.18 215.39) scale(1.0647 1)" font-size="15.11">lazy</text><line x1="1237.80" y1="232.31" x2="1243.10" y2="232.31" stroke="#6a6a6a" stroke-width="1.60"/><text transform="translate(1204.85 236.31) scale(1.0734 1)" font-size="15.11">dog</text><line x1="1237.80" y1="253.22" x2="1243.10" y2="253.22" stroke="#6a6a6a" stroke-width="1.60"/><text transform="translate(1227.68 257.23) scale(1.0454 1)" font-size="15.11">.</text><line x1="1237.80" y1="274.14" x2="1243.10" y2="274.14" stroke="#6a6a6a" stroke-width="1.60"/><text transform="translate(1193.70 278.14) scale(0.9918 1)" font-size="15.11">[SEP]</text><line x1="1253.31" y1="283.70" x2="1253.31" y2="289.00" stroke="#6a6a6a" stroke-width="1.60"/><text transform="translate(1257.16 336.04) rotate(-90) scale(1.0236 1)" font-size="15.11">[CLS]</text><line x1="1273.74" y1="283.70" x2="1273.74" y2="289.00" stroke="#6a6a6a" stroke-width="1.60"/><text transform="translate(1277.59 321.03) rotate(-90) scale(1.1336 1)" font-size="15.11">the</text><line x1="1294.16" y1="283.70" x2="1294.16" y2="289.00" stroke="#6a6a6a" stroke-width="1.60"/><text transform="translate(1298.01 336.15) rotate(-90) scale(1.1024 1)" font-size="15.11">quick</text><line x1="1314.59" y1="283.70" x2="1314.59" y2="289.00" stroke="#6a6a6a" stroke-width="1.60"/><text transform="translate(1318.44 342.00) rotate(-90) scale(1.0843 1)" font-size="15.11">brown</text><line x1="1335.01" y1="283.70" x2="1335.01" y2="289.00" stroke="#6a6a6a" stroke-width="1.60"/><text transform="translate(1338.86 319.36) rotate(-90) scale(1.0841 1)" font-size="15.11">fox</text><line x1="1355.44" y1="283.70" x2="1355.44" y2="289.00" stroke="#6a6a6a" stroke-width="1.60"/><text transform="translate(1359.29 341.47) rotate(-90) scale(1.0954 1)" font-size="15.11">jumps</text><line x1="1375.86" y1="283.70" x2="1375.86" y2="289.00" stroke="#6a6a6a" stroke-width="1.60"/><text transform="translate(1379.71 329.66) rotate(-90) scale(1.1137 1)" font-size="15.11">over</text><line x1="1396.29" y1="283.70" x2="1396.29" y2="289.00" stroke="#6a6a6a" stroke-width="1.60"/><text transform="translate(1400.14 321.03) rotate(-90) scale(1.1336 1)" font-size="15.11">the</text><line x1="1416.71" y1="283.70" x2="1416.71" y2="289.00" stroke="#6a6a6a" stroke-width="1.60"/><text transform="translate(1420.56 326.22) rotate(-90) scale(1.0647 1)" font-size="15.11">lazy</text><line x1="1437.14" y1="283.70" x2="1437.14" y2="289.00" stroke="#6a6a6a" stroke-width="1.60"/><text transform="translate(1440.99 324.55) rotate(-90) scale(1.0734 1)" font-size="15.11">dog</text><line x1="1457.56" y1="283.70" x2="1457.56" y2="289.00" stroke="#6a6a6a" stroke-width="1.60"/><text transform="translate(1461.41 301.72) rotate(-90) scale(1.0454 1)" font-size="15.11">.</text><line x1="1477.99" y1="283.70" x2="1477.99" y2="289.00" stroke="#6a6a6a" stroke-width="1.60"/><text transform="translate(1481.84 335.70) rotate(-90) scale(0.9918 1)" font-size="15.11">[SEP]</text><rect x="1503.70" y="32.70" width="13.00" height="251.00" fill="url(#vir)"/><line x1="1516.70" y1="61.15" x2="1522.00" y2="61.15" stroke="#6a6a6a" stroke-width="1.60"/><text transform="translate(1526.73 68.05) scale(1.0548 1)" font-size="15.48">0.6</text><line x1="1516.70" y1="98.65" x2="1522.00" y2="98.65" stroke="#6a6a6a" stroke-width="1.60"/><text transform="translate(1526.74 105.55) scale(1.0356 1)" font-size="15.48">0.5</text><line x1="1516.70" y1="135.40" x2="1522.00" y2="135.40" stroke="#6a6a6a" stroke-width="1.60"/><text transform="translate(1526.73 142.30) scale(1.0480 1)" font-size="15.48">0.4</text><line x1="1516.70" y1="172.90" x2="1522.00" y2="172.90" stroke="#6a6a6a" stroke-width="1.60"/><text transform="translate(1526.73 179.80) scale(1.0424 1)" font-size="15.48">0.3</text><line x1="1516.70" y1="209.90" x2="1522.00" y2="209.90" stroke="#6a6a6a" stroke-width="1.60"/><text transform="translate(1526.74 216.80) scale(1.0329 1)" font-size="15.48">0.2</text><line x1="1516.70" y1="246.65" x2="1522.00" y2="246.65" stroke="#6a6a6a" stroke-width="1.60"/><text transform="translate(1526.74 253.55) scale(1.0374 1)" font-size="15.48">0.1</text></g>
<g><rect x="66.30" y="378.40" width="21.03" height="21.44" fill="#2fb47c"/><rect x="86.72" y="378.40" width="21.03" height="21.44" fill="#460a5d"/><rect x="107.15" y="378.40" width="21.03" height="21.44" fill="#471365"/><rect x="127.58" y="378.40" width="21.03" height="21.44" fill="#482475"/><rect x="148.00" y="378.40" width="21.03" height="21.44" fill="#482475"/><rect x="168.43" y="378.40" width="21.03" height="21.44" fill="#471365"/><rect x="188.85" y="378.40" width="21.03" height="21.44" fill="#471365"/><rect x="209.27" y="378.40" width="21.03" height="21.44" fill="#460a5d"/><rect x="229.70" y="378.40" width="21.03" height="21.44" fill="#471365"/><rect x="250.12" y="378.40" width="21.03" height="21.44" fill="#460a5d"/><rect x="270.55" y="378.40" width="21.03" height="21.44" fill="#460a5d"/><rect x="290.98" y="378.40" width="21.03" height="21.44" fill="#481c6e"/><rect x="66.30" y="399.24" width="21.03" height="21.44" fill="#460a5d"/><rect x="86.72" y="399.24" width="21.03" height="21.44" fill="#463480"/><rect x="107.15" y="399.24" width="21.03" height="21.44" fill="#463480"/><rect x="127.58" y="399.24" width="21.03" height="21.44" fill="#482475"/><rect x="148.00" y="399.24" width="21.03" height="21.44" fill="#481c6e"/><rect x="168.43" y="399.24" width="21.03" height="21.44" fill="#443b84"/><rect x="188.85" y="399.24" width="21.03" height="21.44" fill="#443b84"/><rect x="209.27" y="399.24" width="21.03" height="21.44" fill="#443b84"/><rect x="229.70" y="399.24" width="21.03" height="21.44" fill="#443b84"/><rect x="250.12" y="399.24" width="21.03" height="21.44" fill="#481c6e"/><rect x="270.55" y="399.24" width="21.03" height="21.44" fill="#443b84"/><rect x="290.98" y="399.24" width="21.03" height="21.44" fill="#472d7b"/><rect x="66.30" y="420.08" width="21.03" height="21.44" fill="#31668e"/><rect x="86.72" y="420.08" width="21.03" height="21.44" fill="#460a5d"/><rect x="107.15" y="420.08" width="21.03" height="21.44" fill="#463480"/><rect x="127.58" y="420.08" width="21.03" height="21.44" fill="#472d7b"/><rect x="148.00" y="420.08" width="21.03" height="21.44" fill="#472d7b"/><rect x="168.43" y="420.08" width="21.03" height="21.44" fill="#472d7b"/><rect x="188.85" y="420.08" width="21.03" height="21.44" fill="#463480"/><rect x="209.27" y="420.08" width="21.03" height="21.44" fill="#440154"/><rect x="229.70" y="420.08" width="21.03" height="21.44" fill="#472d7b"/><rect x="250.12" y="420.08" width="21.03" height="21.44" fill="#481c6e"/><rect x="270.55" y="420.08" width="21.03" height="21.44" fill="#443b84"/><rect x="290.98" y="420.08" width="21.03" height="21.44" fill="#481c6e"/><rect x="66.30" y="440.92" width="21.03" height="21.44" fill="#463480"/><rect x="86.72" y="440.92" width="21.03" height="21.44" fill="#463480"/><rect x="107.15" y="440.92" width="21.03" height="21.44" fill="#38598c"/><rect x="127.58" y="440.92" width="21.03" height="21.44" fill="#471365"/><rect x="148.00" y="440.92" width="21.03" height="21.44" fill="#472d7b"/><rect x="168.43" y="440.92" width="21.03" height="21.44" fill="#481c6e"/><rect x="188.85" y="440.92" width="21.03" height="21.44" fill="#460a5d"/><rect x="209.27" y="440.92" width="21.03" height="21.44" fill="#463480"/><rect x="229.70" y="440.92" width="21.03" height="21.44" fill="#463480"/><rect x="250.12" y="440.92" width="21.03" height="21.44" fill="#482475"/><rect x="270.55" y="440.92" width="21.03" height="21.44" fill="#472d7b"/><rect x="290.98" y="440.92" width="21.03" height="21.44" fill="#471365"/><rect x="66.30" y="461.77" width="21.03" height="21.44" fill="#481c6e"/><rect x="86.72" y="461.77" width="21.03" height="21.44" fill="#463480"/><rect x="107.15" y="461.77" width="21.03" height="21.44" fill="#443b84"/><rect x="127.58" y="461.77" width="21.03" height="21.44" fill="#443b84"/><rect x="148.00" y="461.77" width="21.03" height="21.44" fill="#440154"/><rect x="168.43" y="461.77" width="21.03" height="21.44" fill="#3b528b"/><rect x="188.85" y="461.77" width="21.03" height="21.44" fill="#472d7b"/><rect x="209.27" y="461.77" width="21.03" height="21.44" fill="#463480"/><rect x="229.70" y="461.77" width="21.03" height="21.44" fill="#3e4a89"/><rect x="250.12" y="461.77" width="21.03" height="21.44" fill="#481c6e"/><rect x="270.55" y="461.77" width="21.03" height="21.44" fill="#471365"/><rect x="290.98" y="461.77" width="21.03" height="21.44" fill="#471365"/><rect x="66.30" y="482.61" width="21.03" height="21.44" fill="#31668e"/><rect x="86.72" y="482.61" width="21.03" height="21.44" fill="#482475"/><rect x="107.15" y="482.61" width="21.03" height="21.44" fill="#481c6e"/><rect x="127.58" y="482.61" width="21.03" height="21.44" fill="#481c6e"/><rect x="148.00" y="482.61" width="21.03" height="21.44" fill="#482475"/><rect x="168.43" y="482.61" width="21.03" height="21.44" fill="#460a5d"/><rect x="188.85" y="482.61" width="21.03" height="21.44" fill="#463480"/><rect x="209.27" y="482.61" width="21.03" height="21.44" fill="#482475"/><rect x="229.70" y="482.61" width="21.03" height="21.44" fill="#482475"/><rect x="250.12" y="482.61" width="21.03" height="21.44" fill="#463480"/><rect x="270.55" y="482.61" width="21.03" height="21.44" fill="#463480"/><rect x="290.98" y="482.61" width="21.03" height="21.44" fill="#482475"/><rect x="66.30" y="503.45" width="21.03" height="21.44" fill="#472d7b"/><rect x="86.72" y="503.45" width="21.03" height="21.44" fill="#482475"/><rect x="107.15" y="503.45" width="21.03" height="21.44" fill="#414487"/><rect x="127.58" y="503.45" width="21.03" height="21.44" fill="#482475"/><rect x="148.00" y="503.45" width="21.03" height="21.44" fill="#472d7b"/><rect x="168.43" y="503.45" width="21.03" height="21.44" fill="#463480"/><rect x="188.85" y="503.45" width="21.03" height="21.44" fill="#463480"/><rect x="209.27" y="503.45" width="21.03" height="21.44" fill="#482475"/><rect x="229.70" y="503.45" width="21.03" height="21.44" fill="#482475"/><rect x="250.12" y="503.45" width="21.03" height="21.44" fill="#482475"/><rect x="270.55" y="503.45" width="21.03" height="21.44" fill="#482475"/><rect x="290.98" y="503.45" width="21.03" height="21.44" fill="#414487"/><rect x="66.30" y="524.29" width="21.03" height="21.44" fill="#471365"/><rect x="86.72" y="524.29" width="21.03" height="21.44" fill="#443b84"/><rect x="107.15" y="524.29" width="21.03" height="21.44" fill="#472d7b"/><rect x="127.58" y="524.29" width="21.03" height="21.44" fill="#482475"/><rect x="148.00" y="524.29" width="21.03" height="21.44" fill="#482475"/><rect x="168.43" y="524.29" width="21.03" height="21.44" fill="#463480"/><rect x="188.85" y="524.29" width="21.03" height="21.44" fill="#463480"/><rect x="209.27" y="524.29" width="21.03" height="21.44" fill="#414487"/><rect x="229.70" y="524.29" width="21.03" height="21.44" fill="#443b84"/><rect x="250.12" y="524.29" width="21.03" height="21.44" fill="#481c6e"/><rect x="270.55" y="524.29" width="21.03" height="21.44" fill="#472d7b"/><rect x="290.98" y="524.29" width="21.03" height="21.44" fill="#472d7b"/><rect x="66.30" y="545.13" width="21.03" height="21.44" fill="#21918c"/><rect x="86.72" y="545.13" width="21.03" height="21.44" fill="#482475"/><rect x="107.15" y="545.13" width="21.03" height="21.44" fill="#472d7b"/><rect x="127.58" y="545.13" width="21.03" height="21.44" fill="#471365"/><rect x="148.00" y="545.13" width="21.03" height="21.44" fill="#472d7b"/><rect x="168.43" y="545.13" width="21.03" height="21.44" fill="#471365"/><rect x="188.85" y="545.13" width="21.03" height="21.44" fill="#471365"/><rect x="209.27" y="545.13" width="21.03" height="21.44" fill="#482475"/><rect x="229.70" y="545.13" width="21.03" height="21.44" fill="#460a5d"/><rect x="250.12" y="545.13" width="21.03" height="21.44" fill="#472d7b"/><rect x="270.55" y="545.13" width="21.03" height="21.44" fill="#472d7b"/><rect x="290.98" y="545.13" width="21.03" height="21.44" fill="#471365"/><rect x="66.30" y="565.97" width="21.03" height="21.44" fill="#443b84"/><rect x="86.72" y="565.97" width="21.03" height="21.44" fill="#472d7b"/><rect x="107.15" y="565.97" width="21.03" height="21.44" fill="#482475"/><rect x="127.58" y="565.97" width="21.03" height="21.44" fill="#472d7b"/><rect x="148.00" y="565.97" width="21.03" height="21.44" fill="#472d7b"/><rect x="168.43" y="565.97" width="21.03" height="21.44" fill="#463480"/><rect x="188.85" y="565.97" width="21.03" height="21.44" fill="#481c6e"/><rect x="209.27" y="565.97" width="21.03" height="21.44" fill="#472d7b"/><rect x="229.70" y="565.97" width="21.03" height="21.44" fill="#463480"/><rect x="250.12" y="565.97" width="21.03" height="21.44" fill="#471365"/><rect x="270.55" y="565.97" width="21.03" height="21.44" fill="#471365"/><rect x="290.98" y="565.97" width="21.03" height="21.44" fill="#414487"/><rect x="66.30" y="586.82" width="21.03" height="21.44" fill="#471365"/><rect x="86.72" y="586.82" width="21.03" height="21.44" fill="#482475"/><rect x="107.15" y="586.82" width="21.03" height="21.44" fill="#443b84"/><rect x="127.58" y="586.82" width="21.03" height="21.44" fill="#481c6e"/><rect x="148.00" y="586.82" width="21.03" height="21.44" fill="#481c6e"/><rect x="168.43" y="586.82" width="21.03" height="21.44" fill="#414487"/><rect x="188.85" y="586.82" width="21.03" height="21.44" fill="#414487"/><rect x="209.27" y="586.82" width="21.03" height="21.44" fill="#481c6e"/><rect x="229.70" y="586.82" width="21.03" height="21.44" fill="#463480"/><rect x="250.12" y="586.82" width="21.03" height="21.44" fill="#463480"/><rect x="270.55" y="586.82" width="21.03" height="21.44" fill="#463480"/><rect x="290.98" y="586.82" width="21.03" height="21.44" fill="#463480"/><rect x="66.30" y="607.66" width="21.03" height="21.44" fill="#482475"/><rect x="86.72" y="607.66" width="21.03" height="21.44" fill="#440154"/><rect x="107.15" y="607.66" width="21.03" height="21.44" fill="#440154"/><rect x="127.58" y="607.66" width="21.03" height="21.44" fill="#440154"/><rect x="148.00" y="607.66" width="21.03" height="21.44" fill="#440154"/><rect x="168.43" y="607.66" width="21.03" height="21.44" fill="#460a5d"/><rect x="188.85" y="607.66" width="21.03" height="21.44" fill="#440154"/><rect x="209.27" y="607.66" width="21.03" height="21.44" fill="#440154"/><rect x="229.70" y="607.66" width="21.03" height="21.44" fill="#440154"/><rect x="250.12" y="607.66" width="21.03" height="21.44" fill="#440154"/><rect x="270.55" y="607.66" width="21.03" height="21.44" fill="#440154"/><rect x="290.98" y="607.66" width="21.03" height="21.44" fill="#fde725"/><text transform="translate(157.24 370.70) scale(1.0543 1)" font-size="18.42">Head 5</text><line x1="61.00" y1="389.72" x2="66.30" y2="389.72" stroke="#6a6a6a" stroke-width="1.60"/><text transform="translate(16.56 393.72) scale(1.0236 1)" font-size="15.11">[CLS]</text><line x1="61.00" y1="410.56" x2="66.30" y2="410.56" stroke="#6a6a6a" stroke-width="1.60"/><text transform="translate(31.57 414.56) scale(1.1336 1)" font-size="15.11">the</text><line x1="61.00" y1="431.40" x2="66.30" y2="431.40" stroke="#6a6a6a" stroke-width="1.60"/><text transform="translate(16.45 435.40) scale(1.1024 1)" font-size="15.11">quick</text><line x1="61.00" y1="452.25" x2="66.30" y2="452.25" stroke="#6a6a6a" stroke-width="1.60"/><text transform="translate(10.60 456.25) scale(1.0843 1)" font-size="15.11">brown</text><line x1="61.00" y1="473.09" x2="66.30" y2="473.09" stroke="#6a6a6a" stroke-width="1.60"/><text transform="translate(33.24 477.09) scale(1.0841 1)" font-size="15.11">fox</text><line x1="61.00" y1="493.93" x2="66.30" y2="493.93" stroke="#6a6a6a" stroke-width="1.60"/><text transform="translate(11.13 497.93) scale(1.0954 1)" font-size="15.11">jumps</text><line x1="61.00" y1="514.77" x2="66.30" y2="514.77" stroke="#6a6a6a" stroke-width="1.60"/><text transform="translate(22.94 518.77) scale(1.1137 1)" font-size="15.11">over</text><line x1="61.00" y1="535.61" x2="66.30" y2="535.61" stroke="#6a6a6a" stroke-width="1.60"/><text transform="translate(31.57 539.61) scale(1.1336 1)" font-size="15.11">the</text><line x1="61.00" y1="556.45" x2="66.30" y2="556.45" stroke="#6a6a6a" stroke-width="1.60"/><text transform="translate(26.38 560.45) scale(1.0647 1)" font-size="15.11">lazy</text><line x1="61.00" y1="577.30" x2="66.30" y2="577.30" stroke="#6a6a6a" stroke-width="1.60"/><text transform="translate(28.05 581.30) scale(1.0734 1)" font-size="15.11">dog</text><line x1="61.00" y1="598.14" x2="66.30" y2="598.14" stroke="#6a6a6a" stroke-width="1.60"/><text transform="translate(50.88 602.14) scale(1.0454 1)" font-size="15.11">.</text><line x1="61.00" y1="618.98" x2="66.30" y2="618.98" stroke="#6a6a6a" stroke-width="1.60"/><text transform="translate(16.90 622.98) scale(0.9918 1)" font-size="15.11">[SEP]</text><line x1="76.51" y1="628.50" x2="76.51" y2="633.80" stroke="#6a6a6a" stroke-width="1.60"/><text transform="translate(80.36 680.84) rotate(-90) scale(1.0236 1)" font-size="15.11">[CLS]</text><line x1="96.94" y1="628.50" x2="96.94" y2="633.80" stroke="#6a6a6a" stroke-width="1.60"/><text transform="translate(100.79 665.83) rotate(-90) scale(1.1336 1)" font-size="15.11">the</text><line x1="117.36" y1="628.50" x2="117.36" y2="633.80" stroke="#6a6a6a" stroke-width="1.60"/><text transform="translate(121.21 680.95) rotate(-90) scale(1.1024 1)" font-size="15.11">quick</text><line x1="137.79" y1="628.50" x2="137.79" y2="633.80" stroke="#6a6a6a" stroke-width="1.60"/><text transform="translate(141.64 686.80) rotate(-90) scale(1.0843 1)" font-size="15.11">brown</text><line x1="158.21" y1="628.50" x2="158.21" y2="633.80" stroke="#6a6a6a" stroke-width="1.60"/><text transform="translate(162.06 664.16) rotate(-90) scale(1.0841 1)" font-size="15.11">fox</text><line x1="178.64" y1="628.50" x2="178.64" y2="633.80" stroke="#6a6a6a" stroke-width="1.60"/><text transform="translate(182.49 686.27) rotate(-90) scale(1.0954 1)" font-size="15.11">jumps</text><line x1="199.06" y1="628.50" x2="199.06" y2="633.80" stroke="#6a6a6a" stroke-width="1.60"/><text transform="translate(202.91 674.46) rotate(-90) scale(1.1137 1)" font-size="15.11">over</text><line x1="219.49" y1="628.50" x2="219.49" y2="633.80" stroke="#6a6a6a" stroke-width="1.60"/><text transform="translate(223.34 665.83) rotate(-90) scale(1.1336 1)" font-size="15.11">the</text><line x1="239.91" y1="628.50" x2="239.91" y2="633.80" stroke="#6a6a6a" stroke-width="1.60"/><text transform="translate(243.76 671.02) rotate(-90) scale(1.0647 1)" font-size="15.11">lazy</text><line x1="260.34" y1="628.50" x2="260.34" y2="633.80" stroke="#6a6a6a" stroke-width="1.60"/><text transform="translate(264.19 669.35) rotate(-90) scale(1.0734 1)" font-size="15.11">dog</text><line x1="280.76" y1="628.50" x2="280.76" y2="633.80" stroke="#6a6a6a" stroke-width="1.60"/><text transform="translate(284.61 646.52) rotate(-90) scale(1.0454 1)" font-size="15.11">.</text><line x1="301.19" y1="628.50" x2="301.19" y2="633.80" stroke="#6a6a6a" stroke-width="1.60"/><text transform="translate(305.04 680.50) rotate(-90) scale(0.9918 1)" font-size="15.11">[SEP]</text><rect x="326.90" y="378.40" width="13.00" height="250.10" fill="url(#vir)"/><line x1="339.90" y1="387.90" x2="345.20" y2="387.90" stroke="#6a6a6a" stroke-width="1.60"/><text transform="translate(349.93 394.80) scale(1.0505 1)" font-size="15.48">0.8</text><line x1="339.90" y1="449.15" x2="345.20" y2="449.15" stroke="#6a6a6a" stroke-width="1.60"/><text transform="translate(349.93 456.05) scale(1.0548 1)" font-size="15.48">0.6</text><line x1="339.90" y1="509.90" x2="345.20" y2="509.90" stroke="#6a6a6a" stroke-width="1.60"/><text transform="translate(349.93 516.80) scale(1.0480 1)" font-size="15.48">0.4</text><line x1="339.90" y1="570.40" x2="345.20" y2="570.40" stroke="#6a6a6a" stroke-width="1.60"/><text transform="translate(349.94 577.30) scale(1.0329 1)" font-size="15.48">0.2</text></g>
<g><rect x="458.30" y="378.40" width="21.03" height="21.44" fill="#471365"/><rect x="478.73" y="378.40" width="21.03" height="21.44" fill="#440154"/><rect x="499.15" y="378.40" width="21.03" height="21.44" fill="#440154"/><rect x="519.58" y="378.40" width="21.03" height="21.44" fill="#440154"/><rect x="540.00" y="378.40" width="21.03" height="21.44" fill="#440154"/><rect x="560.42" y="378.40" width="21.03" height="21.44" fill="#440154"/><rect x="580.85" y="378.40" width="21.03" height="21.44" fill="#440154"/><rect x="601.27" y="378.40" width="21.03" height="21.44" fill="#440154"/><rect x="621.70" y="378.40" width="21.03" height="21.44" fill="#440154"/><rect x="642.12" y="378.40" width="21.03" height="21.44" fill="#440154"/><rect x="662.55" y="378.40" width="21.03" height="21.44" fill="#fde725"/><rect x="682.98" y="378.40" width="21.03" height="21.44" fill="#460a5d"/><rect x="458.30" y="399.24" width="21.03" height="21.44" fill="#355f8d"/><rect x="478.73" y="399.24" width="21.03" height="21.44" fill="#482475"/><rect x="499.15" y="399.24" width="21.03" height="21.44" fill="#463480"/><rect x="519.58" y="399.24" width="21.03" height="21.44" fill="#481c6e"/><rect x="540.00" y="399.24" width="21.03" height="21.44" fill="#481c6e"/><rect x="560.42" y="399.24" width="21.03" height="21.44" fill="#481c6e"/><rect x="580.85" y="399.24" width="21.03" height="21.44" fill="#481c6e"/><rect x="601.27" y="399.24" width="21.03" height="21.44" fill="#482475"/><rect x="621.70" y="399.24" width="21.03" height="21.44" fill="#472d7b"/><rect x="642.12" y="399.24" width="21.03" height="21.44" fill="#481c6e"/><rect x="662.55" y="399.24" width="21.03" height="21.44" fill="#443b84"/><rect x="682.98" y="399.24" width="21.03" height="21.44" fill="#472d7b"/><rect x="458.30" y="420.08" width="21.03" height="21.44" fill="#472d7b"/><rect x="478.73" y="420.08" width="21.03" height="21.44" fill="#460a5d"/><rect x="499.15" y="420.08" width="21.03" height="21.44" fill="#481c6e"/><rect x="519.58" y="420.08" width="21.03" height="21.44" fill="#482475"/><rect x="540.00" y="420.08" width="21.03" height="21.44" fill="#481c6e"/><rect x="560.42" y="420.08" width="21.03" height="21.44" fill="#3b528b"/><rect x="580.85" y="420.08" width="21.03" height="21.44" fill="#471365"/><rect x="601.27" y="420.08" width="21.03" height="21.44" fill="#460a5d"/><rect x="621.70" y="420.08" width="21.03" height="21.44" fill="#38598c"/><rect x="642.12" y="420.08" width="21.03" height="21.44" fill="#443b84"/><rect x="662.55" y="420.08" width="21.03" height="21.44" fill="#460a5d"/><rect x="682.98" y="420.08" width="21.03" height="21.44" fill="#471365"/><rect x="458.30" y="440.92" width="21.03" height="21.44" fill="#355f8d"/><rect x="478.73" y="440.92" width="21.03" height="21.44" fill="#460a5d"/><rect x="499.15" y="440.92" width="21.03" height="21.44" fill="#471365"/><rect x="519.58" y="440.92" width="21.03" height="21.44" fill="#463480"/><rect x="540.00" y="440.92" width="21.03" height="21.44" fill="#414487"/><rect x="560.42" y="440.92" width="21.03" height="21.44" fill="#472d7b"/><rect x="580.85" y="440.92" width="21.03" height="21.44" fill="#460a5d"/><rect x="601.27" y="440.92" width="21.03" height="21.44" fill="#460a5d"/><rect x="621.70" y="440.92" width="21.03" height="21.44" fill="#463480"/><rect x="642.12" y="440.92" width="21.03" height="21.44" fill="#472d7b"/><rect x="662.55" y="440.92" width="21.03" height="21.44" fill="#460a5d"/><rect x="682.98" y="440.92" width="21.03" height="21.44" fill="#481c6e"/><rect x="458.30" y="461.77" width="21.03" height="21.44" fill="#463480"/><rect x="478.73" y="461.77" width="21.03" height="21.44" fill="#481c6e"/><rect x="499.15" y="461.77" width="21.03" height="21.44" fill="#482475"/><rect x="519.58" y="461.77" width="21.03" height="21.44" fill="#481c6e"/><rect x="540.00" y="461.77" width="21.03" height="21.44" fill="#460a5d"/><rect x="560.42" y="461.77" width="21.03" height="21.44" fill="#481c6e"/><rect x="580.85" y="461.77" width="21.03" height="21.44" fill="#481c6e"/><rect x="601.27" y="461.77" width="21.03" height="21.44" fill="#481c6e"/><rect x="621.70" y="461.77" width="21.03" height="21.44" fill="#460a5d"/><rect x="642.12" y="461.77" width="21.03" height="21.44" fill="#443b84"/><rect x="662.55" y="461.77" width="21.03" height="21.44" fill="#481c6e"/><rect x="682.98" y="461.77" width="21.03" height="21.44" fill="#355f8d"/><rect x="458.30" y="482.61" width="21.03" height="21.44" fill="#482475"/><rect x="478.73" y="482.61" width="21.03" height="21.44" fill="#440154"/><rect x="499.15" y="482.61" width="21.03" height="21.44" fill="#3b528b"/><rect x="519.58" y="482.61" width="21.03" height="21.44" fill="#482475"/><rect x="540.00" y="482.61" width="21.03" height="21.44" fill="#472d7b"/><rect x="560.42" y="482.61" width="21.03" height="21.44" fill="#482475"/><rect x="580.85" y="482.61" width="21.03" height="21.44" fill="#460a5d"/><rect x="601.27" y="482.61" width="21.03" height="21.44" fill="#440154"/><rect x="621.70" y="482.61" width="21.03" height="21.44" fill="#2a788e"/><rect x="642.12" y="482.61" width="21.03" height="21.44" fill="#471365"/><rect x="662.55" y="482.61" width="21.03" height="21.44" fill="#471365"/><rect x="682.98" y="482.61" width="21.03" height="21.44" fill="#471365"/><rect x="458.30" y="503.45" width="21.03" height="21.44" fill="#471365"/><rect x="478.73" y="503.45" width="21.03" height="21.44" fill="#460a5d"/><rect x="499.15" y="503.45" width="21.03" height="21.44" fill="#482475"/><rect x="519.58" y="503.45" width="21.03" height="21.44" fill="#443b84"/><rect x="540.00" y="503.45" width="21.03" height="21.44" fill="#463480"/><rect x="560.42" y="503.45" width="21.03" height="21.44" fill="#355f8d"/><rect x="580.85" y="503.45" width="21.03" height="21.44" fill="#471365"/><rect x="601.27" y="503.45" width="21.03" height="21.44" fill="#460a5d"/><rect x="621.70" y="503.45" width="21.03" height="21.44" fill="#463480"/><rect x="642.12" y="503.45" width="21.03" height="21.44" fill="#471365"/><rect x="662.55" y="503.45" width="21.03" height="21.44" fill="#471365"/><rect x="682.98" y="503.45" width="21.03" height="21.44" fill="#471365"/><rect x="458.30" y="524.29" width="21.03" height="21.44" fill="#443b84"/><rect x="478.73" y="524.29" width="21.03" height="21.44" fill="#471365"/><rect x="499.15" y="524.29" width="21.03" height="21.44" fill="#482475"/><rect x="519.58" y="524.29" width="21.03" height="21.44" fill="#471365"/><rect x="540.00" y="524.29" width="21.03" height="21.44" fill="#471365"/><rect x="560.42" y="524.29" width="21.03" height="21.44" fill="#481c6e"/><rect x="580.85" y="524.29" width="21.03" height="21.44" fill="#481c6e"/><rect x="601.27" y="524.29" width="21.03" height="21.44" fill="#471365"/><rect x="621.70" y="524.29" width="21.03" height="21.44" fill="#482475"/><rect x="642.12" y="524.29" width="21.03" height="21.44" fill="#481c6e"/><rect x="662.55" y="524.29" width="21.03" height="21.44" fill="#3e4a89"/><rect x="682.98" y="524.29" width="21.03" height="21.44" fill="#463480"/><rect x="458.30" y="545.13" width="21.03" height="21.44" fill="#481c6e"/><rect x="478.73" y="545.13" width="21.03" height="21.44" fill="#471365"/><rect x="499.15" y="545.13" width="21.03" height="21.44" fill="#472d7b"/><rect x="519.58" y="545.13" width="21.03" height="21.44" fill="#472d7b"/><rect x="540.00" y="545.13" width="21.03" height="21.44" fill="#472d7b"/><rect x="560.42" y="545.13" width="21.03" height="21.44" fill="#414487"/><rect x="580.85" y="545.13" width="21.03" height="21.44" fill="#482475"/><rect x="601.27" y="545.13" width="21.03" height="21.44" fill="#481c6e"/><rect x="621.70" y="545.13" width="21.03" height="21.44" fill="#472d7b"/><rect x="642.12" y="545.13" width="21.03" height="21.44" fill="#443b84"/><rect x="662.55" y="545.13" width="21.03" height="21.44" fill="#481c6e"/><rect x="682.98" y="545.13" width="21.03" height="21.44" fill="#482475"/><rect x="458.30" y="565.97" width="21.03" height="21.44" fill="#481c6e"/><rect x="478.73" y="565.97" width="21.03" height="21.44" fill="#460a5d"/><rect x="499.15" y="565.97" width="21.03" height="21.44" fill="#482475"/><rect x="519.58" y="565.97" width="21.03" height="21.44" fill="#460a5d"/><rect x="540.00" y="565.97" width="21.03" height="21.44" fill="#414487"/><rect x="560.42" y="565.97" width="21.03" height="21.44" fill="#2f6c8e"/><rect x="580.85" y="565.97" width="21.03" height="21.44" fill="#481c6e"/><rect x="601.27" y="565.97" width="21.03" height="21.44" fill="#440154"/><rect x="621.70" y="565.97" width="21.03" height="21.44" fill="#482475"/><rect x="642.12" y="565.97" width="21.03" height="21.44" fill="#471365"/><rect x="662.55" y="565.97" width="21.03" height="21.44" fill="#471365"/><rect x="682.98" y="565.97" width="21.03" height="21.44" fill="#463480"/><rect x="458.30" y="586.82" width="21.03" height="21.44" fill="#463480"/><rect x="478.73" y="586.82" width="21.03" height="21.44" fill="#471365"/><rect x="499.15" y="586.82" width="21.03" height="21.44" fill="#471365"/><rect x="519.58" y="586.82" width="21.03" height="21.44" fill="#471365"/><rect x="540.00" y="586.82" width="21.03" height="21.44" fill="#481c6e"/><rect x="560.42" y="586.82" width="21.03" height="21.44" fill="#460a5d"/><rect x="580.85" y="586.82" width="21.03" height="21.44" fill="#471365"/><rect x="601.27" y="586.82" width="21.03" height="21.44" fill="#471365"/><rect x="621.70" y="586.82" width="21.03" height="21.44" fill="#481c6e"/><rect x="642.12" y="586.82" width="21.03" height="21.44" fill="#481c6e"/><rect x="662.55" y="586.82" width="21.03" height="21.44" fill="#25848e"/><rect x="682.98" y="586.82" width="21.03" height="21.44" fill="#481c6e"/><rect x="458.30" y="607.66" width="21.03" height="21.44" fill="#2f6c8e"/><rect x="478.73" y="607.66" width="21.03" height="21.44" fill="#481c6e"/><rect x="499.15" y="607.66" width="21.03" height="21.44" fill="#460a5d"/><rect x="519.58" y="607.66" width="21.03" height="21.44" fill="#471365"/><rect x="540.00" y="607.66" width="21.03" height="21.44" fill="#481c6e"/><rect x="560.42" y="607.66" width="21.03" height="21.44" fill="#460a5d"/><rect x="580.85" y="607.66" width="21.03" height="21.44" fill="#471365"/><rect x="601.27" y="607.66" width="21.03" height="21.44" fill="#481c6e"/><rect x="621.70" y="607.66" width="21.03" height="21.44" fill="#460a5d"/><rect x="642.12" y="607.66" width="21.03" height="21.44" fill="#460a5d"/><rect x="662.55" y="607.66" width="21.03" height="21.44" fill="#277e8e"/><rect x="682.98" y="607.66" width="21.03" height="21.44" fill="#481c6e"/><text transform="translate(549.23 370.70) scale(1.0626 1)" font-size="18.42">Head 6</text><line x1="453.00" y1="389.72" x2="458.30" y2="389.72" stroke="#6a6a6a" stroke-width="1.60"/><text transform="translate(408.56 393.72) scale(1.0236 1)" font-size="15.11">[CLS]</text><line x1="453.00" y1="410.56" x2="458.30" y2="410.56" stroke="#6a6a6a" stroke-width="1.60"/><text transform="translate(423.57 414.56) scale(1.1336 1)" font-size="15.11">the</text><line x1="453.00" y1="431.40" x2="458.30" y2="431.40" stroke="#6a6a6a" stroke-width="1.60"/><text transform="translate(408.45 435.40) scale(1.1024 1)" font-size="15.11">quick</text><line x1="453.00" y1="452.25" x2="458.30" y2="452.25" stroke="#6a6a6a" stroke-width="1.60"/><text transform="translate(402.60 456.25) scale(1.0843 1)" font-size="15.11">brown</text><line x1="453.00" y1="473.09" x2="458.30" y2="473.09" stroke="#6a6a6a" stroke-width="1.60"/><text transform="translate(425.24 477.09) scale(1.0841 1)" font-size="15.11">fox</text><line x1="453.00" y1="493.93" x2="458.30" y2="493.93" stroke="#6a6a6a" stroke-width="1.60"/><text transform="translate(403.13 497.93) scale(1.0954 1)" font-size="15.11">jumps</text><line x1="453.00" y1="514.77" x2="458.30" y2="514.77" stroke="#6a6a6a" stroke-width="1.60"/><text transform="translate(414.94 518.77) scale(1.1137 1)" font-size="15.11">over</text><line x1="453.00" y1="535.61" x2="458.30" y2="535.61" stroke="#6a6a6a" stroke-width="1.60"/><text transform="translate(423.57 539.61) scale(1.1336 1)" font-size="15.11">the</text><line x1="453.00" y1="556.45" x2="458.30" y2="556.45" stroke="#6a6a6a" stroke-width="1.60"/><text transform="translate(418.38 560.45) scale(1.0647 1)" font-size="15.11">lazy</text><line x1="453.00" y1="577.30" x2="458.30" y2="577.30" stroke="#6a6a6a" stroke-width="1.60"/><text transform="translate(420.05 581.30) scale(1.0734 1)" font-size="15.11">dog</text><line x1="453.00" y1="598.14" x2="458.30" y2="598.14" stroke="#6a6a6a" stroke-width="1.60"/><text transform="translate(442.88 602.14) scale(1.0454 1)" font-size="15.11">.</text><line x1="453.00" y1="618.98" x2="458.30" y2="618.98" stroke="#6a6a6a" stroke-width="1.60"/><text transform="translate(408.90 622.98) scale(0.9918 1)" font-size="15.11">[SEP]</text><line x1="468.51" y1="628.50" x2="468.51" y2="633.80" stroke="#6a6a6a" stroke-width="1.60"/><text transform="translate(472.36 680.84) rotate(-90) scale(1.0236 1)" font-size="15.11">[CLS]</text><line x1="488.94" y1="628.50" x2="488.94" y2="633.80" stroke="#6a6a6a" stroke-width="1.60"/><text transform="translate(492.79 665.83) rotate(-90) scale(1.1336 1)" font-size="15.11">the</text><line x1="509.36" y1="628.50" x2="509.36" y2="633.80" stroke="#6a6a6a" stroke-width="1.60"/><text transform="translate(513.21 680.95) rotate(-90) scale(1.1024 1)" font-size="15.11">quick</text><line x1="529.79" y1="628.50" x2="529.79" y2="633.80" stroke="#6a6a6a" stroke-width="1.60"/><text transform="translate(533.64 686.80) rotate(-90) scale(1.0843 1)" font-size="15.11">brown</text><line x1="550.21" y1="628.50" x2="550.21" y2="633.80" stroke="#6a6a6a" stroke-width="1.60"/><text transform="translate(554.06 664.16) rotate(-90) scale(1.0841 1)" font-size="15.11">fox</text><line x1="570.64" y1="628.50" x2="570.64" y2="633.80" stroke="#6a6a6a" stroke-width="1.60"/><text transform="translate(574.49 686.27) rotate(-90) scale(1.0954 1)" font-size="15.11">jumps</text><line x1="591.06" y1="628.50" x2="591.06" y2="633.80" stroke="#6a6a6a" stroke-width="1.60"/><text transform="translate(594.91 674.46) rotate(-90) scale(1.1137 1)" font-size="15.11">over</text><line x1="611.49" y1="628.50" x2="611.49" y2="633.80" stroke="#6a6a6a" stroke-width="1.60"/><text transform="translate(615.34 665.83) rotate(-90) scale(1.1336 1)" font-size="15.11">the</text><line x1="631.91" y1="628.50" x2="631.91" y2="633.80" stroke="#6a6a6a" stroke-width="1.60"/><text transform="translate(635.76 671.02) rotate(-90) scale(1.0647 1)" font-size="15.11">lazy</text><line x1="652.34" y1="628.50" x2="652.34" y2="633.80" stroke="#6a6a6a" stroke-width="1.60"/><text transform="translate(656.19 669.35) rotate(-90) scale(1.0734 1)" font-size="15.11">dog</text><line x1="672.76" y1="628.50" x2="672.76" y2="633.80" stroke="#6a6a6a" stroke-width="1.60"/><text transform="translate(676.61 646.52) rotate(-90) scale(1.0454 1)" font-size="15.11">.</text><line x1="693.19" y1="628.50" x2="693.19" y2="633.80" stroke="#6a6a6a" stroke-width="1.60"/><text transform="translate(697.04 680.50) rotate(-90) scale(0.9918 1)" font-size="15.11">[SEP]</text><rect x="718.90" y="378.40" width="13.00" height="250.10" fill="url(#vir)"/><line x1="731.90" y1="405.90" x2="737.20" y2="405.90" stroke="#6a6a6a" stroke-width="1.60"/><text transform="translate(741.93 412.80) scale(1.0505 1)" font-size="15.48">0.8</text><line x1="731.90" y1="461.65" x2="737.20" y2="461.65" stroke="#6a6a6a" stroke-width="1.60"/><text transform="translate(741.93 468.55) scale(1.0548 1)" font-size="15.48">0.6</text><line x1="731.90" y1="517.90" x2="737.20" y2="517.90" stroke="#6a6a6a" stroke-width="1.60"/><text transform="translate(741.93 524.80) scale(1.0480 1)" font-size="15.48">0.4</text><line x1="731.90" y1="574.15" x2="737.20" y2="574.15" stroke="#6a6a6a" stroke-width="1.60"/><text transform="translate(741.94 581.05) scale(1.0329 1)" font-size="15.48">0.2</text></g>
<g><rect x="851.20" y="378.40" width="21.03" height="21.44" fill="#2f6c8e"/><rect x="871.62" y="378.40" width="21.03" height="21.44" fill="#fde725"/><rect x="892.05" y="378.40" width="21.03" height="21.44" fill="#440154"/><rect x="912.48" y="378.40" width="21.03" height="21.44" fill="#440154"/><rect x="932.90" y="378.40" width="21.03" height="21.44" fill="#440154"/><rect x="953.33" y="378.40" width="21.03" height="21.44" fill="#440154"/><rect x="973.75" y="378.40" width="21.03" height="21.44" fill="#440154"/><rect x="994.18" y="378.40" width="21.03" height="21.44" fill="#7ad151"/><rect x="1014.60" y="378.40" width="21.03" height="21.44" fill="#440154"/><rect x="1035.03" y="378.40" width="21.03" height="21.44" fill="#440154"/><rect x="1055.45" y="378.40" width="21.03" height="21.44" fill="#440154"/><rect x="1075.88" y="378.40" width="21.03" height="21.44" fill="#440154"/><rect x="851.20" y="399.24" width="21.03" height="21.44" fill="#482475"/><rect x="871.62" y="399.24" width="21.03" height="21.44" fill="#472d7b"/><rect x="892.05" y="399.24" width="21.03" height="21.44" fill="#443b84"/><rect x="912.48" y="399.24" width="21.03" height="21.44" fill="#38598c"/><rect x="932.90" y="399.24" width="21.03" height="21.44" fill="#355f8d"/><rect x="953.33" y="399.24" width="21.03" height="21.44" fill="#3b528b"/><rect x="973.75" y="399.24" width="21.03" height="21.44" fill="#414487"/><rect x="994.18" y="399.24" width="21.03" height="21.44" fill="#482475"/><rect x="1014.60" y="399.24" width="21.03" height="21.44" fill="#414487"/><rect x="1035.03" y="399.24" width="21.03" height="21.44" fill="#3b528b"/><rect x="1055.45" y="399.24" width="21.03" height="21.44" fill="#482475"/><rect x="1075.88" y="399.24" width="21.03" height="21.44" fill="#463480"/><rect x="851.20" y="420.08" width="21.03" height="21.44" fill="#460a5d"/><rect x="871.62" y="420.08" width="21.03" height="21.44" fill="#440154"/><rect x="892.05" y="420.08" width="21.03" height="21.44" fill="#3e4a89"/><rect x="912.48" y="420.08" width="21.03" height="21.44" fill="#2a788e"/><rect x="932.90" y="420.08" width="21.03" height="21.44" fill="#277e8e"/><rect x="953.33" y="420.08" width="21.03" height="21.44" fill="#277e8e"/><rect x="973.75" y="420.08" width="21.03" height="21.44" fill="#463480"/><rect x="994.18" y="420.08" width="21.03" height="21.44" fill="#440154"/><rect x="1014.60" y="420.08" width="21.03" height="21.44" fill="#3b528b"/><rect x="1035.03" y="420.08" width="21.03" height="21.44" fill="#472d7b"/><rect x="1055.45" y="420.08" width="21.03" height="21.44" fill="#440154"/><rect x="1075.88" y="420.08" width="21.03" height="21.44" fill="#463480"/><rect x="851.20" y="440.92" width="21.03" height="21.44" fill="#414487"/><rect x="871.62" y="440.92" width="21.03" height="21.44" fill="#471365"/><rect x="892.05" y="440.92" width="21.03" height="21.44" fill="#463480"/><rect x="912.48" y="440.92" width="21.03" height="21.44" fill="#238a8d"/><rect x="932.90" y="440.92" width="21.03" height="21.44" fill="#2c728e"/><rect x="953.33" y="440.92" width="21.03" height="21.44" fill="#3e4a89"/><rect x="973.75" y="440.92" width="21.03" height="21.44" fill="#481c6e"/><rect x="994.18" y="440.92" width="21.03" height="21.44" fill="#471365"/><rect x="1014.60" y="440.92" width="21.03" height="21.44" fill="#3e4a89"/><rect x="1035.03" y="440.92" width="21.03" height="21.44" fill="#3e4a89"/><rect x="1055.45" y="440.92" width="21.03" height="21.44" fill="#482475"/><rect x="1075.88" y="440.92" width="21.03" height="21.44" fill="#481c6e"/><rect x="851.20" y="461.77" width="21.03" height="21.44" fill="#482475"/><rect x="871.62" y="461.77" width="21.03" height="21.44" fill="#481c6e"/><rect x="892.05" y="461.77" width="21.03" height="21.44" fill="#3e4a89"/><rect x="912.48" y="461.77" width="21.03" height="21.44" fill="#414487"/><rect x="932.90" y="461.77" width="21.03" height="21.44" fill="#2fb47c"/><rect x="953.33" y="461.77" width="21.03" height="21.44" fill="#3b528b"/><rect x="973.75" y="461.77" width="21.03" height="21.44" fill="#481c6e"/><rect x="994.18" y="461.77" width="21.03" height="21.44" fill="#471365"/><rect x="1014.60" y="461.77" width="21.03" height="21.44" fill="#443b84"/><rect x="1035.03" y="461.77" width="21.03" height="21.44" fill="#443b84"/><rect x="1055.45" y="461.77" width="21.03" height="21.44" fill="#471365"/><rect x="1075.88" y="461.77" width="21.03" height="21.44" fill="#472d7b"/><rect x="851.20" y="482.61" width="21.03" height="21.44" fill="#482475"/><rect x="871.62" y="482.61" width="21.03" height="21.44" fill="#460a5d"/><rect x="892.05" y="482.61" width="21.03" height="21.44" fill="#355f8d"/><rect x="912.48" y="482.61" width="21.03" height="21.44" fill="#414487"/><rect x="932.90" y="482.61" width="21.03" height="21.44" fill="#472d7b"/><rect x="953.33" y="482.61" width="21.03" height="21.44" fill="#21918c"/><rect x="973.75" y="482.61" width="21.03" height="21.44" fill="#355f8d"/><rect x="994.18" y="482.61" width="21.03" height="21.44" fill="#460a5d"/><rect x="1014.60" y="482.61" width="21.03" height="21.44" fill="#414487"/><rect x="1035.03" y="482.61" width="21.03" height="21.44" fill="#482475"/><rect x="1055.45" y="482.61" width="21.03" height="21.44" fill="#481c6e"/><rect x="1075.88" y="482.61" width="21.03" height="21.44" fill="#414487"/><rect x="851.20" y="503.45" width="21.03" height="21.44" fill="#3e4a89"/><rect x="871.62" y="503.45" width="21.03" height="21.44" fill="#471365"/><rect x="892.05" y="503.45" width="21.03" height="21.44" fill="#3b528b"/><rect x="912.48" y="503.45" width="21.03" height="21.44" fill="#414487"/><rect x="932.90" y="503.45" width="21.03" height="21.44" fill="#472d7b"/><rect x="953.33" y="503.45" width="21.03" height="21.44" fill="#472d7b"/><rect x="973.75" y="503.45" width="21.03" height="21.44" fill="#443b84"/><rect x="994.18" y="503.45" width="21.03" height="21.44" fill="#481c6e"/><rect x="1014.60" y="503.45" width="21.03" height="21.44" fill="#2c728e"/><rect x="1035.03" y="503.45" width="21.03" height="21.44" fill="#3b528b"/><rect x="1055.45" y="503.45" width="21.03" height="21.44" fill="#463480"/><rect x="1075.88" y="503.45" width="21.03" height="21.44" fill="#471365"/><rect x="851.20" y="524.29" width="21.03" height="21.44" fill="#482475"/><rect x="871.62" y="524.29" width="21.03" height="21.44" fill="#472d7b"/><rect x="892.05" y="524.29" width="21.03" height="21.44" fill="#443b84"/><rect x="912.48" y="524.29" width="21.03" height="21.44" fill="#355f8d"/><rect x="932.90" y="524.29" width="21.03" height="21.44" fill="#355f8d"/><rect x="953.33" y="524.29" width="21.03" height="21.44" fill="#355f8d"/><rect x="973.75" y="524.29" width="21.03" height="21.44" fill="#38598c"/><rect x="994.18" y="524.29" width="21.03" height="21.44" fill="#482475"/><rect x="1014.60" y="524.29" width="21.03" height="21.44" fill="#414487"/><rect x="1035.03" y="524.29" width="21.03" height="21.44" fill="#3e4a89"/><rect x="1055.45" y="524.29" width="21.03" height="21.44" fill="#482475"/><rect x="1075.88" y="524.29" width="21.03" height="21.44" fill="#482475"/><rect x="851.20" y="545.13" width="21.03" height="21.44" fill="#238a8d"/><rect x="871.62" y="545.13" width="21.03" height="21.44" fill="#460a5d"/><rect x="892.05" y="545.13" width="21.03" height="21.44" fill="#2f6c8e"/><rect x="912.48" y="545.13" width="21.03" height="21.44" fill="#3b528b"/><rect x="932.90" y="545.13" width="21.03" height="21.44" fill="#463480"/><rect x="953.33" y="545.13" width="21.03" height="21.44" fill="#414487"/><rect x="973.75" y="545.13" width="21.03" height="21.44" fill="#481c6e"/><rect x="994.18" y="545.13" width="21.03" height="21.44" fill="#440154"/><rect x="1014.60" y="545.13" width="21.03" height="21.44" fill="#2a788e"/><rect x="1035.03" y="545.13" width="21.03" height="21.44" fill="#482475"/><rect x="1055.45" y="545.13" width="21.03" height="21.44" fill="#471365"/><rect x="1075.88" y="545.13" width="21.03" height="21.44" fill="#471365"/><rect x="851.20" y="565.97" width="21.03" height="21.44" fill="#3e4a89"/><rect x="871.62" y="565.97" width="21.03" height="21.44" fill="#460a5d"/><rect x="892.05" y="565.97" width="21.03" height="21.44" fill="#472d7b"/><rect x="912.48" y="565.97" width="21.03" height="21.44" fill="#482475"/><rect x="932.90" y="565.97" width="21.03" height="21.44" fill="#414487"/><rect x="953.33" y="565.97" width="21.03" height="21.44" fill="#3e4a89"/><rect x="973.75" y="565.97" width="21.03" height="21.44" fill="#471365"/><rect x="994.18" y="565.97" width="21.03" height="21.44" fill="#460a5d"/><rect x="1014.60" y="565.97" width="21.03" height="21.44" fill="#38598c"/><rect x="1035.03" y="565.97" width="21.03" height="21.44" fill="#2fb47c"/><rect x="1055.45" y="565.97" width="21.03" height="21.44" fill="#482475"/><rect x="1075.88" y="565.97" width="21.03" height="21.44" fill="#482475"/><rect x="851.20" y="586.82" width="21.03" height="21.44" fill="#481c6e"/><rect x="871.62" y="586.82" width="21.03" height="21.44" fill="#463480"/><rect x="892.05" y="586.82" width="21.03" height="21.44" fill="#2f6c8e"/><rect x="912.48" y="586.82" width="21.03" height="21.44" fill="#3e4a89"/><rect x="932.90" y="586.82" width="21.03" height="21.44" fill="#3e4a89"/><rect x="953.33" y="586.82" width="21.03" height="21.44" fill="#3b528b"/><rect x="973.75" y="586.82" width="21.03" height="21.44" fill="#463480"/><rect x="994.18" y="586.82" width="21.03" height="21.44" fill="#472d7b"/><rect x="1014.60" y="586.82" width="21.03" height="21.44" fill="#3b528b"/><rect x="1035.03" y="586.82" width="21.03" height="21.44" fill="#443b84"/><rect x="1055.45" y="586.82" width="21.03" height="21.44" fill="#443b84"/><rect x="1075.88" y="586.82" width="21.03" height="21.44" fill="#463480"/><rect x="851.20" y="607.66" width="21.03" height="21.44" fill="#3e4a89"/><rect x="871.62" y="607.66" width="21.03" height="21.44" fill="#471365"/><rect x="892.05" y="607.66" width="21.03" height="21.44" fill="#463480"/><rect x="912.48" y="607.66" width="21.03" height="21.44" fill="#481c6e"/><rect x="932.90" y="607.66" width="21.03" height="21.44" fill="#482475"/><rect x="953.33" y="607.66" width="21.03" height="21.44" fill="#3e4a89"/><rect x="973.75" y="607.66" width="21.03" height="21.44" fill="#443b84"/><rect x="994.18" y="607.66" width="21.03" height="21.44" fill="#481c6e"/><rect x="1014.60" y="607.66" width="21.03" height="21.44" fill="#472d7b"/><rect x="1035.03" y="607.66" width="21.03" height="21.44" fill="#463480"/><rect x="1055.45" y="607.66" width="21.03" height="21.44" fill="#2c728e"/><rect x="1075.88" y="607.66" width="21.03" height="21.44" fill="#21918c"/><text transform="translate(942.13 370.70) scale(1.0577 1)" font-size="18.42">Head 7</text><line x1="845.90" y1="389.72" x2="851.20" y2="389.72" stroke="#6a6a6a" stroke-width="1.60"/><text transform="translate(801.46 393.72) scale(1.0236 1)" font-size="15.11">[CLS]</text><line x1="845.90" y1="410.56" x2="851.20" y2="410.56" stroke="#6a6a6a" stroke-width="1.60"/><text transform="translate(816.47 414.56) scale(1.1336 1)" font-size="15.11">the</text><line x1="845.90" y1="431.40" x2="851.20" y2="431.40" stroke="#6a6a6a" stroke-width="1.60"/><text transform="translate(801.35 435.40) scale(1.1024 1)" font-size="15.11">quick</text><line x1="845.90" y1="452.25" x2="851.20" y2="452.25" stroke="#6a6a6a" stroke-width="1.60"/><text transform="translate(795.50 456.25) scale(1.0843 1)" font-size="15.11">brown</text><line x1="845.90" y1="473.09" x2="851.20" y2="473.09" stroke="#6a6a6a" stroke-width="1.60"/><text transform="translate(818.14 477.09) scale(1.0841 1)" font-size="15.11">fox</text><line x1="845.90" y1="493.93" x2="851.20" y2="493.93" stroke="#6a6a6a" stroke-width="1.60"/><text transform="translate(796.03 497.93) scale(1.0954 1)" font-size="15.11">jumps</text><line x1="845.90" y1="514.77" x2="851.20" y2="514.77" stroke="#6a6a6a" stroke-width="1.60"/><text transform="translate(807.84 518.77) scale(1.1137 1)" font-size="15.11">over</text><line x1="845.90" y1="535.61" x2="851.20" y2="535.61" stroke="#6a6a6a" stroke-width="1.60"/><text transform="translate(816.47 539.61) scale(1.1336 1)" font-size="15.11">the</text><line x1="845.90" y1="556.45" x2="851.20" y2="556.45" stroke="#6a6a6a" stroke-width="1.60"/><text transform="translate(811.28 560.45) scale(1.0647 1)" font-size="15.11">lazy</text><line x1="845.90" y1="577.30" x2="851.20" y2="577.30" stroke="#6a6a6a" stroke-width="1.60"/><text transform="translate(812.95 581.30) scale(1.0734 1)" font-size="15.11">dog</text><line x1="845.90" y1="598.14" x2="851.20" y2="598.14" stroke="#6a6a6a" stroke-width="1.60"/><text transform="translate(835.78 602.14) scale(1.0454 1)" font-size="15.11">.</text><line x1="845.90" y1="618.98" x2="851.20" y2="618.98" stroke="#6a6a6a" stroke-width="1.60"/><text transform="translate(801.80 622.98) scale(0.9918 1)" font-size="15.11">[SEP]</text><line x1="861.41" y1="628.50" x2="861.41" y2="633.80" stroke="#6a6a6a" stroke-width="1.60"/><text transform="translate(865.26 680.84) rotate(-90) scale(1.0236 1)" font-size="15.11">[CLS]</text><line x1="881.84" y1="628.50" x2="881.84" y2="633.80" stroke="#6a6a6a" stroke-width="1.60"/><text transform="translate(885.69 665.83) rotate(-90) scale(1.1336 1)" font-size="15.11">the</text><line x1="902.26" y1="628.50" x2="902.26" y2="633.80" stroke="#6a6a6a" stroke-width="1.60"/><text transform="translate(906.11 680.95) rotate(-90) scale(1.1024 1)" font-size="15.11">quick</text><line x1="922.69" y1="628.50" x2="922.69" y2="633.80" stroke="#6a6a6a" stroke-width="1.60"/><text transform="translate(926.54 686.80) rotate(-90) scale(1.0843 1)" font-size="15.11">brown</text><line x1="943.11" y1="628.50" x2="943.11" y2="633.80" stroke="#6a6a6a" stroke-width="1.60"/><text transform="translate(946.96 664.16) rotate(-90) scale(1.0841 1)" font-size="15.11">fox</text><line x1="963.54" y1="628.50" x2="963.54" y2="633.80" stroke="#6a6a6a" stroke-width="1.60"/><text transform="translate(967.39 686.27) rotate(-90) scale(1.0954 1)" font-size="15.11">jumps</text><line x1="983.96" y1="628.50" x2="983.96" y2="633.80" stroke="#6a6a6a" stroke-width="1.60"/><text transform="translate(987.81 674.46) rotate(-90) scale(1.1137 1)" font-size="15.11">over</text><line x1="1004.39" y1="628.50" x2="1004.39" y2="633.80" stroke="#6a6a6a" stroke-width="1.60"/><text transform="translate(1008.24 665.83) rotate(-90) scale(1.1336 1)" font-size="15.11">the</text><line x1="1024.81" y1="628.50" x2="1024.81" y2="633.80" stroke="#6a6a6a" stroke-width="1.60"/><text transform="translate(1028.66 671.02) rotate(-90) scale(1.0647 1)" font-size="15.11">lazy</text><line x1="1045.24" y1="628.50" x2="1045.24" y2="633.80" stroke="#6a6a6a" stroke-width="1.60"/><text transform="translate(1049.09 669.35) rotate(-90) scale(1.0734 1)" font-size="15.11">dog</text><line x1="1065.66" y1="628.50" x2="1065.66" y2="633.80" stroke="#6a6a6a" stroke-width="1.60"/><text transform="translate(1069.51 646.52) rotate(-90) scale(1.0454 1)" font-size="15.11">.</text><line x1="1086.09" y1="628.50" x2="1086.09" y2="633.80" stroke="#6a6a6a" stroke-width="1.60"/><text transform="translate(1089.94 680.50) rotate(-90) scale(0.9918 1)" font-size="15.11">[SEP]</text><rect x="1111.80" y="378.40" width="13.00" height="250.10" fill="url(#vir)"/><line x1="1124.80" y1="412.90" x2="1130.10" y2="412.90" stroke="#6a6a6a" stroke-width="1.60"/><text transform="translate(1134.83 419.80) scale(1.0480 1)" font-size="15.48">0.4</text><line x1="1124.80" y1="467.40" x2="1130.10" y2="467.40" stroke="#6a6a6a" stroke-width="1.60"/><text transform="translate(1134.83 474.30) scale(1.0424 1)" font-size="15.48">0.3</text><line x1="1124.80" y1="521.65" x2="1130.10" y2="521.65" stroke="#6a6a6a" stroke-width="1.60"/><text transform="translate(1134.84 528.55) scale(1.0329 1)" font-size="15.48">0.2</text><line x1="1124.80" y1="575.90" x2="1130.10" y2="575.90" stroke="#6a6a6a" stroke-width="1.60"/><text transform="translate(1134.84 582.80) scale(1.0374 1)" font-size="15.48">0.1</text></g>
<g><rect x="1243.10" y="378.40" width="21.03" height="21.44" fill="#fde725"/><rect x="1263.52" y="378.40" width="21.03" height="21.44" fill="#440154"/><rect x="1283.95" y="378.40" width="21.03" height="21.44" fill="#440154"/><rect x="1304.38" y="378.40" width="21.03" height="21.44" fill="#471365"/><rect x="1324.80" y="378.40" width="21.03" height="21.44" fill="#481c6e"/><rect x="1345.22" y="378.40" width="21.03" height="21.44" fill="#460a5d"/><rect x="1365.65" y="378.40" width="21.03" height="21.44" fill="#460a5d"/><rect x="1386.07" y="378.40" width="21.03" height="21.44" fill="#440154"/><rect x="1406.50" y="378.40" width="21.03" height="21.44" fill="#471365"/><rect x="1426.92" y="378.40" width="21.03" height="21.44" fill="#471365"/><rect x="1447.35" y="378.40" width="21.03" height="21.44" fill="#472d7b"/><rect x="1467.77" y="378.40" width="21.03" height="21.44" fill="#2f6c8e"/><rect x="1243.10" y="399.24" width="21.03" height="21.44" fill="#2fb47c"/><rect x="1263.52" y="399.24" width="21.03" height="21.44" fill="#463480"/><rect x="1283.95" y="399.24" width="21.03" height="21.44" fill="#482475"/><rect x="1304.38" y="399.24" width="21.03" height="21.44" fill="#481c6e"/><rect x="1324.80" y="399.24" width="21.03" height="21.44" fill="#472d7b"/><rect x="1345.22" y="399.24" width="21.03" height="21.44" fill="#443b84"/><rect x="1365.65" y="399.24" width="21.03" height="21.44" fill="#472d7b"/><rect x="1386.07" y="399.24" width="21.03" height="21.44" fill="#463480"/><rect x="1406.50" y="399.24" width="21.03" height="21.44" fill="#463480"/><rect x="1426.92" y="399.24" width="21.03" height="21.44" fill="#482475"/><rect x="1447.35" y="399.24" width="21.03" height="21.44" fill="#440154"/><rect x="1467.77" y="399.24" width="21.03" height="21.44" fill="#414487"/><rect x="1243.10" y="420.08" width="21.03" height="21.44" fill="#482475"/><rect x="1263.52" y="420.08" width="21.03" height="21.44" fill="#460a5d"/><rect x="1283.95" y="420.08" width="21.03" height="21.44" fill="#472d7b"/><rect x="1304.38" y="420.08" width="21.03" height="21.44" fill="#443b84"/><rect x="1324.80" y="420.08" width="21.03" height="21.44" fill="#481c6e"/><rect x="1345.22" y="420.08" width="21.03" height="21.44" fill="#3b528b"/><rect x="1365.65" y="420.08" width="21.03" height="21.44" fill="#3b528b"/><rect x="1386.07" y="420.08" width="21.03" height="21.44" fill="#440154"/><rect x="1406.50" y="420.08" width="21.03" height="21.44" fill="#463480"/><rect x="1426.92" y="420.08" width="21.03" height="21.44" fill="#443b84"/><rect x="1447.35" y="420.08" width="21.03" height="21.44" fill="#440154"/><rect x="1467.77" y="420.08" width="21.03" height="21.44" fill="#238a8d"/><rect x="1243.10" y="440.92" width="21.03" height="21.44" fill="#414487"/><rect x="1263.52" y="440.92" width="21.03" height="21.44" fill="#440154"/><rect x="1283.95" y="440.92" width="21.03" height="21.44" fill="#463480"/><rect x="1304.38" y="440.92" width="21.03" height="21.44" fill="#443b84"/><rect x="1324.80" y="440.92" width="21.03" height="21.44" fill="#472d7b"/><rect x="1345.22" y="440.92" width="21.03" height="21.44" fill="#463480"/><rect x="1365.65" y="440.92" width="21.03" height="21.44" fill="#3b528b"/><rect x="1386.07" y="440.92" width="21.03" height="21.44" fill="#440154"/><rect x="1406.50" y="440.92" width="21.03" height="21.44" fill="#414487"/><rect x="1426.92" y="440.92" width="21.03" height="21.44" fill="#31668e"/><rect x="1447.35" y="440.92" width="21.03" height="21.44" fill="#440154"/><rect x="1467.77" y="440.92" width="21.03" height="21.44" fill="#414487"/><rect x="1243.10" y="461.77" width="21.03" height="21.44" fill="#472d7b"/><rect x="1263.52" y="461.77" width="21.03" height="21.44" fill="#440154"/><rect x="1283.95" y="461.77" width="21.03" height="21.44" fill="#472d7b"/><rect x="1304.38" y="461.77" width="21.03" height="21.44" fill="#482475"/><rect x="1324.80" y="461.77" width="21.03" height="21.44" fill="#472d7b"/><rect x="1345.22" y="461.77" width="21.03" height="21.44" fill="#471365"/><rect x="1365.65" y="461.77" width="21.03" height="21.44" fill="#3b528b"/><rect x="1386.07" y="461.77" width="21.03" height="21.44" fill="#440154"/><rect x="1406.50" y="461.77" width="21.03" height="21.44" fill="#481c6e"/><rect x="1426.92" y="461.77" width="21.03" height="21.44" fill="#7ad151"/><rect x="1447.35" y="461.77" width="21.03" height="21.44" fill="#440154"/><rect x="1467.77" y="461.77" width="21.03" height="21.44" fill="#471365"/><rect x="1243.10" y="482.61" width="21.03" height="21.44" fill="#3e4a89"/><rect x="1263.52" y="482.61" width="21.03" height="21.44" fill="#440154"/><rect x="1283.95" y="482.61" width="21.03" height="21.44" fill="#414487"/><rect x="1304.38" y="482.61" width="21.03" height="21.44" fill="#414487"/><rect x="1324.80" y="482.61" width="21.03" height="21.44" fill="#443b84"/><rect x="1345.22" y="482.61" width="21.03" height="21.44" fill="#463480"/><rect x="1365.65" y="482.61" width="21.03" height="21.44" fill="#482475"/><rect x="1386.07" y="482.61" width="21.03" height="21.44" fill="#440154"/><rect x="1406.50" y="482.61" width="21.03" height="21.44" fill="#38598c"/><rect x="1426.92" y="482.61" width="21.03" height="21.44" fill="#3e4a89"/><rect x="1447.35" y="482.61" width="21.03" height="21.44" fill="#440154"/><rect x="1467.77" y="482.61" width="21.03" height="21.44" fill="#463480"/><rect x="1243.10" y="503.45" width="21.03" height="21.44" fill="#25848e"/><rect x="1263.52" y="503.45" width="21.03" height="21.44" fill="#471365"/><rect x="1283.95" y="503.45" width="21.03" height="21.44" fill="#463480"/><rect x="1304.38" y="503.45" width="21.03" height="21.44" fill="#471365"/><rect x="1324.80" y="503.45" width="21.03" height="21.44" fill="#471365"/><rect x="1345.22" y="503.45" width="21.03" height="21.44" fill="#355f8d"/><rect x="1365.65" y="503.45" width="21.03" height="21.44" fill="#482475"/><rect x="1386.07" y="503.45" width="21.03" height="21.44" fill="#471365"/><rect x="1406.50" y="503.45" width="21.03" height="21.44" fill="#414487"/><rect x="1426.92" y="503.45" width="21.03" height="21.44" fill="#482475"/><rect x="1447.35" y="503.45" width="21.03" height="21.44" fill="#440154"/><rect x="1467.77" y="503.45" width="21.03" height="21.44" fill="#414487"/><rect x="1243.10" y="524.29" width="21.03" height="21.44" fill="#2fb47c"/><rect x="1263.52" y="524.29" width="21.03" height="21.44" fill="#482475"/><rect x="1283.95" y="524.29" width="21.03" height="21.44" fill="#481c6e"/><rect x="1304.38" y="524.29" width="21.03" height="21.44" fill="#471365"/><rect x="1324.80" y="524.29" width="21.03" height="21.44" fill="#482475"/><rect x="1345.22" y="524.29" width="21.03" height="21.44" fill="#472d7b"/><rect x="1365.65" y="524.29" width="21.03" height="21.44" fill="#472d7b"/><rect x="1386.07" y="524.29" width="21.03" height="21.44" fill="#472d7b"/><rect x="1406.50" y="524.29" width="21.03" height="21.44" fill="#472d7b"/><rect x="1426.92" y="524.29" width="21.03" height="21.44" fill="#481c6e"/><rect x="1447.35" y="524.29" width="21.03" height="21.44" fill="#440154"/><rect x="1467.77" y="524.29" width="21.03" height="21.44" fill="#355f8d"/><rect x="1243.10" y="545.13" width="21.03" height="21.44" fill="#472d7b"/><rect x="1263.52" y="545.13" width="21.03" height="21.44" fill="#440154"/><rect x="1283.95" y="545.13" width="21.03" height="21.44" fill="#3b528b"/><rect x="1304.38" y="545.13" width="21.03" height="21.44" fill="#414487"/><rect x="1324.80" y="545.13" width="21.03" height="21.44" fill="#443b84"/><rect x="1345.22" y="545.13" width="21.03" height="21.44" fill="#2a788e"/><rect x="1365.65" y="545.13" width="21.03" height="21.44" fill="#472d7b"/><rect x="1386.07" y="545.13" width="21.03" height="21.44" fill="#440154"/><rect x="1406.50" y="545.13" width="21.03" height="21.44" fill="#472d7b"/><rect x="1426.92" y="545.13" width="21.03" height="21.44" fill="#355f8d"/><rect x="1447.35" y="545.13" width="21.03" height="21.44" fill="#440154"/><rect x="1467.77" y="545.13" width="21.03" height="21.44" fill="#482475"/><rect x="1243.10" y="565.97" width="21.03" height="21.44" fill="#238a8d"/><rect x="1263.52" y="565.97" width="21.03" height="21.44" fill="#440154"/><rect x="1283.95" y="565.97" width="21.03" height="21.44" fill="#3b528b"/><rect x="1304.38" y="565.97" width="21.03" height="21.44" fill="#481c6e"/><rect x="1324.80" y="565.97" width="21.03" height="21.44" fill="#414487"/><rect x="1345.22" y="565.97" width="21.03" height="21.44" fill="#3b528b"/><rect x="1365.65" y="565.97" width="21.03" height="21.44" fill="#482475"/><rect x="1386.07" y="565.97" width="21.03" height="21.44" fill="#440154"/><rect x="1406.50" y="565.97" width="21.03" height="21.44" fill="#443b84"/><rect x="1426.92" y="565.97" width="21.03" height="21.44" fill="#414487"/><rect x="1447.35" y="565.97" width="21.03" height="21.44" fill="#440154"/><rect x="1467.77" y="565.97" width="21.03" height="21.44" fill="#471365"/><rect x="1243.10" y="586.82" width="21.03" height="21.44" fill="#3b528b"/><rect x="1263.52" y="586.82" width="21.03" height="21.44" fill="#443b84"/><rect x="1283.95" y="586.82" width="21.03" height="21.44" fill="#481c6e"/><rect x="1304.38" y="586.82" width="21.03" height="21.44" fill="#471365"/><rect x="1324.80" y="586.82" width="21.03" height="21.44" fill="#482475"/><rect x="1345.22" y="586.82" width="21.03" height="21.44" fill="#463480"/><rect x="1365.65" y="586.82" width="21.03" height="21.44" fill="#481c6e"/><rect x="1386.07" y="586.82" width="21.03" height="21.44" fill="#414487"/><rect x="1406.50" y="586.82" width="21.03" height="21.44" fill="#463480"/><rect x="1426.92" y="586.82" width="21.03" height="21.44" fill="#440154"/><rect x="1447.35" y="586.82" width="21.03" height="21.44" fill="#440154"/><rect x="1467.77" y="586.82" width="21.03" height="21.44" fill="#238a8d"/><rect x="1243.10" y="607.66" width="21.03" height="21.44" fill="#238a8d"/><rect x="1263.52" y="607.66" width="21.03" height="21.44" fill="#38598c"/><rect x="1283.95" y="607.66" width="21.03" height="21.44" fill="#481c6e"/><rect x="1304.38" y="607.66" width="21.03" height="21.44" fill="#481c6e"/><rect x="1324.80" y="607.66" width="21.03" height="21.44" fill="#443b84"/><rect x="1345.22" y="607.66" width="21.03" height="21.44" fill="#472d7b"/><rect x="1365.65" y="607.66" width="21.03" height="21.44" fill="#471365"/><rect x="1386.07" y="607.66" width="21.03" height="21.44" fill="#3b528b"/><rect x="1406.50" y="607.66" width="21.03" height="21.44" fill="#482475"/><rect x="1426.92" y="607.66" width="21.03" height="21.44" fill="#471365"/><rect x="1447.35" y="607.66" width="21.03" height="21.44" fill="#440154"/><rect x="1467.77" y="607.66" width="21.03" height="21.44" fill="#463480"/><text transform="translate(1334.03 370.70) scale(1.0607 1)" font-size="18.42">Head 8</text><line x1="1237.80" y1="389.72" x2="1243.10" y2="389.72" stroke="#6a6a6a" stroke-width="1.60"/><text transform="translate(1193.36 393.72) scale(1.0236 1)" font-size="15.11">[CLS]</text><line x1="1237.80" y1="410.56" x2="1243.10" y2="410.56" stroke="#6a6a6a" stroke-width="1.60"/><text transform="translate(1208.37 414.56) scale(1.1336 1)" font-size="15.11">the</text><line x1="1237.80" y1="431.40" x2="1243.10" y2="431.40" stroke="#6a6a6a" stroke-width="1.60"/><text transform="translate(1193.25 435.40) scale(1.1024 1)" font-size="15.11">quick</text><line x1="1237.80" y1="452.25" x2="1243.10" y2="452.25" stroke="#6a6a6a" stroke-width="1.60"/><text transform="translate(1187.40 456.25) scale(1.0843 1)" font-size="15.11">brown</text><line x1="1237.80" y1="473.09" x2="1243.10" y2="473.09" stroke="#6a6a6a" stroke-width="1.60"/><text transform="translate(1210.04 477.09) scale(1.0841 1)" font-size="15.11">fox</text><line x1="1237.80" y1="493.93" x2="1243.10" y2="493.93" stroke="#6a6a6a" stroke-width="1.60"/><text transform="translate(1187.93 497.93) scale(1.0954 1)" font-size="15.11">jumps</text><line x1="1237.80" y1="514.77" x2="1243.10" y2="514.77" stroke="#6a6a6a" stroke-width="1.60"/><text transform="translate(1199.74 518.77) scale(1.1137 1)" font-size="15.11">over</text><line x1="1237.80" y1="535.61" x2="1243.10" y2="535.61" stroke="#6a6a6a" stroke-width="1.60"/><text transform="translate(1208.37 539.61) scale(1.1336 1)" font-size="15.11">the</text><line x1="1237.80" y1="556.45" x2="1243.10" y2="556.45" stroke="#6a6a6a" stroke-width="1.60"/><text transform="translate(1203.18 560.45) scale(1.0647 1)" font-size="15.11">lazy</text><line x1="1237.80" y1="577.30" x2="1243.10" y2="577.30" stroke="#6a6a6a" stroke-width="1.60"/><text transform="translate(1204.85 581.30) scale(1.0734 1)" font-size="15.11">dog</text><line x1="1237.80" y1="598.14" x2="1243.10" y2="598.14" stroke="#6a6a6a" stroke-width="1.60"/><text transform="translate(1227.68 602.14) scale(1.0454 1)" font-size="15.11">.</text><line x1="1237.80" y1="618.98" x2="1243.10" y2="618.98" stroke="#6a6a6a" stroke-width="1.60"/><text transform="translate(1193.70 622.98) scale(0.9918 1)" font-size="15.11">[SEP]</text><line x1="1253.31" y1="628.50" x2="1253.31" y2="633.80" stroke="#6a6a6a" stroke-width="1.60"/><text transform="translate(1257.16 680.84) rotate(-90) scale(1.0236 1)" font-size="15.11">[CLS]</text><line x1="1273.74" y1="628.50" x2="1273.74" y2="633.80" stroke="#6a6a6a" stroke-width="1.60"/><text transform="translate(1277.59 665.83) rotate(-90) scale(1.1336 1)" font-size="15.11">the</text><line x1="1294.16" y1="628.50" x2="1294.16" y2="633.80" stroke="#6a6a6a" stroke-width="1.60"/><text transform="translate(1298.01 680.95) rotate(-90) scale(1.1024 1)" font-size="15.11">quick</text><line x1="1314.59" y1="628.50" x2="1314.59" y2="633.80" stroke="#6a6a6a" stroke-width="1.60"/><text transform="translate(1318.44 686.80) rotate(-90) scale(1.0843 1)" font-size="15.11">brown</text><line x1="1335.01" y1="628.50" x2="1335.01" y2="633.80" stroke="#6a6a6a" stroke-width="1.60"/><text transform="translate(1338.86 664.16) rotate(-90) scale(1.0841 1)" font-size="15.11">fox</text><line x1="1355.44" y1="628.50" x2="1355.44" y2="633.80" stroke="#6a6a6a" stroke-width="1.60"/><text transform="translate(1359.29 686.27) rotate(-90) scale(1.0954 1)" font-size="15.11">jumps</text><line x1="1375.86" y1="628.50" x2="1375.86" y2="633.80" stroke="#6a6a6a" stroke-width="1.60"/><text transform="translate(1379.71 674.46) rotate(-90) scale(1.1137 1)" font-size="15.11">over</text><line x1="1396.29" y1="628.50" x2="1396.29" y2="633.80" stroke="#6a6a6a" stroke-width="1.60"/><text transform="translate(1400.14 665.83) rotate(-90) scale(1.1336 1)" font-size="15.11">the</text><line x1="1416.71" y1="628.50" x2="1416.71" y2="633.80" stroke="#6a6a6a" stroke-width="1.60"/><text transform="translate(1420.56 671.02) rotate(-90) scale(1.0647 1)" font-size="15.11">lazy</text><line x1="1437.14" y1="628.50" x2="1437.14" y2="633.80" stroke="#6a6a6a" stroke-width="1.60"/><text transform="translate(1440.99 669.35) rotate(-90) scale(1.0734 1)" font-size="15.11">dog</text><line x1="1457.56" y1="628.50" x2="1457.56" y2="633.80" stroke="#6a6a6a" stroke-width="1.60"/><text transform="translate(1461.41 646.52) rotate(-90) scale(1.0454 1)" font-size="15.11">.</text><line x1="1477.99" y1="628.50" x2="1477.99" y2="633.80" stroke="#6a6a6a" stroke-width="1.60"/><text transform="translate(1481.84 680.50) rotate(-90) scale(0.9918 1)" font-size="15.11">[SEP]</text><rect x="1503.70" y="378.40" width="13.00" height="250.10" fill="url(#vir)"/><line x1="1516.70" y1="412.90" x2="1522.00" y2="412.90" stroke="#6a6a6a" stroke-width="1.60"/><text transform="translate(1526.74 419.80) scale(1.0356 1)" font-size="15.48">0.5</text><line x1="1516.70" y1="456.15" x2="1522.00" y2="456.15" stroke="#6a6a6a" stroke-width="1.60"/><text transform="translate(1526.73 463.05) scale(1.0480 1)" font-size="15.48">0.4</text><line x1="1516.70" y1="499.15" x2="1522.00" y2="499.15" stroke="#6a6a6a" stroke-width="1.60"/><text transform="translate(1526.73 506.05) scale(1.0424 1)" font-size="15.48">0.3</text><line x1="1516.70" y1="542.40" x2="1522.00" y2="542.40" stroke="#6a6a6a" stroke-width="1.60"/><text transform="translate(1526.74 549.30) scale(1.0329 1)" font-size="15.48">0.2</text><line x1="1516.70" y1="585.40" x2="1522.00" y2="585.40" stroke="#6a6a6a" stroke-width="1.60"/><text transform="translate(1526.74 592.30) scale(1.0374 1)" font-size="15.48">0.1</text></g>
<g><rect x="66.30" y="723.70" width="21.03" height="21.41" fill="#fde725"/><rect x="86.72" y="723.70" width="21.03" height="21.41" fill="#31668e"/><rect x="107.15" y="723.70" width="21.03" height="21.41" fill="#482475"/><rect x="127.58" y="723.70" width="21.03" height="21.41" fill="#481c6e"/><rect x="148.00" y="723.70" width="21.03" height="21.41" fill="#460a5d"/><rect x="168.43" y="723.70" width="21.03" height="21.41" fill="#471365"/><rect x="188.85" y="723.70" width="21.03" height="21.41" fill="#471365"/><rect x="209.27" y="723.70" width="21.03" height="21.41" fill="#31668e"/><rect x="229.70" y="723.70" width="21.03" height="21.41" fill="#481c6e"/><rect x="250.12" y="723.70" width="21.03" height="21.41" fill="#460a5d"/><rect x="270.55" y="723.70" width="21.03" height="21.41" fill="#440154"/><rect x="290.98" y="723.70" width="21.03" height="21.41" fill="#440154"/><rect x="66.30" y="744.51" width="21.03" height="21.41" fill="#440154"/><rect x="86.72" y="744.51" width="21.03" height="21.41" fill="#481c6e"/><rect x="107.15" y="744.51" width="21.03" height="21.41" fill="#472d7b"/><rect x="127.58" y="744.51" width="21.03" height="21.41" fill="#3e4a89"/><rect x="148.00" y="744.51" width="21.03" height="21.41" fill="#31668e"/><rect x="168.43" y="744.51" width="21.03" height="21.41" fill="#31668e"/><rect x="188.85" y="744.51" width="21.03" height="21.41" fill="#443b84"/><rect x="209.27" y="744.51" width="21.03" height="21.41" fill="#482475"/><rect x="229.70" y="744.51" width="21.03" height="21.41" fill="#3e4a89"/><rect x="250.12" y="744.51" width="21.03" height="21.41" fill="#482475"/><rect x="270.55" y="744.51" width="21.03" height="21.41" fill="#443b84"/><rect x="290.98" y="744.51" width="21.03" height="21.41" fill="#443b84"/><rect x="66.30" y="765.32" width="21.03" height="21.41" fill="#440154"/><rect x="86.72" y="765.32" width="21.03" height="21.41" fill="#481c6e"/><rect x="107.15" y="765.32" width="21.03" height="21.41" fill="#482475"/><rect x="127.58" y="765.32" width="21.03" height="21.41" fill="#3e4a89"/><rect x="148.00" y="765.32" width="21.03" height="21.41" fill="#2a788e"/><rect x="168.43" y="765.32" width="21.03" height="21.41" fill="#2a788e"/><rect x="188.85" y="765.32" width="21.03" height="21.41" fill="#414487"/><rect x="209.27" y="765.32" width="21.03" height="21.41" fill="#482475"/><rect x="229.70" y="765.32" width="21.03" height="21.41" fill="#414487"/><rect x="250.12" y="765.32" width="21.03" height="21.41" fill="#443b84"/><rect x="270.55" y="765.32" width="21.03" height="21.41" fill="#481c6e"/><rect x="290.98" y="765.32" width="21.03" height="21.41" fill="#481c6e"/><rect x="66.30" y="786.12" width="21.03" height="21.41" fill="#440154"/><rect x="86.72" y="786.12" width="21.03" height="21.41" fill="#460a5d"/><rect x="107.15" y="786.12" width="21.03" height="21.41" fill="#463480"/><rect x="127.58" y="786.12" width="21.03" height="21.41" fill="#481c6e"/><rect x="148.00" y="786.12" width="21.03" height="21.41" fill="#2f6c8e"/><rect x="168.43" y="786.12" width="21.03" height="21.41" fill="#238a8d"/><rect x="188.85" y="786.12" width="21.03" height="21.41" fill="#463480"/><rect x="209.27" y="786.12" width="21.03" height="21.41" fill="#460a5d"/><rect x="229.70" y="786.12" width="21.03" height="21.41" fill="#414487"/><rect x="250.12" y="786.12" width="21.03" height="21.41" fill="#3b528b"/><rect x="270.55" y="786.12" width="21.03" height="21.41" fill="#481c6e"/><rect x="290.98" y="786.12" width="21.03" height="21.41" fill="#481c6e"/><rect x="66.30" y="806.93" width="21.03" height="21.41" fill="#440154"/><rect x="86.72" y="806.93" width="21.03" height="21.41" fill="#481c6e"/><rect x="107.15" y="806.93" width="21.03" height="21.41" fill="#472d7b"/><rect x="127.58" y="806.93" width="21.03" height="21.41" fill="#463480"/><rect x="148.00" y="806.93" width="21.03" height="21.41" fill="#3e4a89"/><rect x="168.43" y="806.93" width="21.03" height="21.41" fill="#38598c"/><rect x="188.85" y="806.93" width="21.03" height="21.41" fill="#482475"/><rect x="209.27" y="806.93" width="21.03" height="21.41" fill="#482475"/><rect x="229.70" y="806.93" width="21.03" height="21.41" fill="#2c728e"/><rect x="250.12" y="806.93" width="21.03" height="21.41" fill="#2f6c8e"/><rect x="270.55" y="806.93" width="21.03" height="21.41" fill="#482475"/><rect x="290.98" y="806.93" width="21.03" height="21.41" fill="#482475"/><rect x="66.30" y="827.74" width="21.03" height="21.41" fill="#440154"/><rect x="86.72" y="827.74" width="21.03" height="21.41" fill="#481c6e"/><rect x="107.15" y="827.74" width="21.03" height="21.41" fill="#3e4a89"/><rect x="127.58" y="827.74" width="21.03" height="21.41" fill="#443b84"/><rect x="148.00" y="827.74" width="21.03" height="21.41" fill="#463480"/><rect x="168.43" y="827.74" width="21.03" height="21.41" fill="#472d7b"/><rect x="188.85" y="827.74" width="21.03" height="21.41" fill="#482475"/><rect x="209.27" y="827.74" width="21.03" height="21.41" fill="#472d7b"/><rect x="229.70" y="827.74" width="21.03" height="21.41" fill="#25848e"/><rect x="250.12" y="827.74" width="21.03" height="21.41" fill="#31668e"/><rect x="270.55" y="827.74" width="21.03" height="21.41" fill="#482475"/><rect x="290.98" y="827.74" width="21.03" height="21.41" fill="#482475"/><rect x="66.30" y="848.55" width="21.03" height="21.41" fill="#440154"/><rect x="86.72" y="848.55" width="21.03" height="21.41" fill="#460a5d"/><rect x="107.15" y="848.55" width="21.03" height="21.41" fill="#472d7b"/><rect x="127.58" y="848.55" width="21.03" height="21.41" fill="#355f8d"/><rect x="148.00" y="848.55" width="21.03" height="21.41" fill="#463480"/><rect x="168.43" y="848.55" width="21.03" height="21.41" fill="#472d7b"/><rect x="188.85" y="848.55" width="21.03" height="21.41" fill="#460a5d"/><rect x="209.27" y="848.55" width="21.03" height="21.41" fill="#471365"/><rect x="229.70" y="848.55" width="21.03" height="21.41" fill="#21918c"/><rect x="250.12" y="848.55" width="21.03" height="21.41" fill="#25848e"/><rect x="270.55" y="848.55" width="21.03" height="21.41" fill="#482475"/><rect x="290.98" y="848.55" width="21.03" height="21.41" fill="#463480"/><rect x="66.30" y="869.36" width="21.03" height="21.41" fill="#440154"/><rect x="86.72" y="869.36" width="21.03" height="21.41" fill="#481c6e"/><rect x="107.15" y="869.36" width="21.03" height="21.41" fill="#481c6e"/><rect x="127.58" y="869.36" width="21.03" height="21.41" fill="#471365"/><rect x="148.00" y="869.36" width="21.03" height="21.41" fill="#443b84"/><rect x="168.43" y="869.36" width="21.03" height="21.41" fill="#443b84"/><rect x="188.85" y="869.36" width="21.03" height="21.41" fill="#482475"/><rect x="209.27" y="869.36" width="21.03" height="21.41" fill="#481c6e"/><rect x="229.70" y="869.36" width="21.03" height="21.41" fill="#38598c"/><rect x="250.12" y="869.36" width="21.03" height="21.41" fill="#38598c"/><rect x="270.55" y="869.36" width="21.03" height="21.41" fill="#3b528b"/><rect x="290.98" y="869.36" width="21.03" height="21.41" fill="#31668e"/><rect x="66.30" y="890.17" width="21.03" height="21.41" fill="#460a5d"/><rect x="86.72" y="890.17" width="21.03" height="21.41" fill="#471365"/><rect x="107.15" y="890.17" width="21.03" height="21.41" fill="#443b84"/><rect x="127.58" y="890.17" width="21.03" height="21.41" fill="#38598c"/><rect x="148.00" y="890.17" width="21.03" height="21.41" fill="#3e4a89"/><rect x="168.43" y="890.17" width="21.03" height="21.41" fill="#3e4a89"/><rect x="188.85" y="890.17" width="21.03" height="21.41" fill="#472d7b"/><rect x="209.27" y="890.17" width="21.03" height="21.41" fill="#471365"/><rect x="229.70" y="890.17" width="21.03" height="21.41" fill="#414487"/><rect x="250.12" y="890.17" width="21.03" height="21.41" fill="#2c728e"/><rect x="270.55" y="890.17" width="21.03" height="21.41" fill="#481c6e"/><rect x="290.98" y="890.17" width="21.03" height="21.41" fill="#463480"/><rect x="66.30" y="910.98" width="21.03" height="21.41" fill="#460a5d"/><rect x="86.72" y="910.98" width="21.03" height="21.41" fill="#471365"/><rect x="107.15" y="910.98" width="21.03" height="21.41" fill="#463480"/><rect x="127.58" y="910.98" width="21.03" height="21.41" fill="#463480"/><rect x="148.00" y="910.98" width="21.03" height="21.41" fill="#463480"/><rect x="168.43" y="910.98" width="21.03" height="21.41" fill="#463480"/><rect x="188.85" y="910.98" width="21.03" height="21.41" fill="#472d7b"/><rect x="209.27" y="910.98" width="21.03" height="21.41" fill="#481c6e"/><rect x="229.70" y="910.98" width="21.03" height="21.41" fill="#355f8d"/><rect x="250.12" y="910.98" width="21.03" height="21.41" fill="#472d7b"/><rect x="270.55" y="910.98" width="21.03" height="21.41" fill="#463480"/><rect x="290.98" y="910.98" width="21.03" height="21.41" fill="#238a8d"/><rect x="66.30" y="931.78" width="21.03" height="21.41" fill="#460a5d"/><rect x="86.72" y="931.78" width="21.03" height="21.41" fill="#482475"/><rect x="107.15" y="931.78" width="21.03" height="21.41" fill="#482475"/><rect x="127.58" y="931.78" width="21.03" height="21.41" fill="#482475"/><rect x="148.00" y="931.78" width="21.03" height="21.41" fill="#472d7b"/><rect x="168.43" y="931.78" width="21.03" height="21.41" fill="#482475"/><rect x="188.85" y="931.78" width="21.03" height="21.41" fill="#443b84"/><rect x="209.27" y="931.78" width="21.03" height="21.41" fill="#472d7b"/><rect x="229.70" y="931.78" width="21.03" height="21.41" fill="#3e4a89"/><rect x="250.12" y="931.78" width="21.03" height="21.41" fill="#443b84"/><rect x="270.55" y="931.78" width="21.03" height="21.41" fill="#277e8e"/><rect x="290.98" y="931.78" width="21.03" height="21.41" fill="#2a788e"/><rect x="66.30" y="952.59" width="21.03" height="21.41" fill="#443b84"/><rect x="86.72" y="952.59" width="21.03" height="21.41" fill="#31668e"/><rect x="107.15" y="952.59" width="21.03" height="21.41" fill="#443b84"/><rect x="127.58" y="952.59" width="21.03" height="21.41" fill="#482475"/><rect x="148.00" y="952.59" width="21.03" height="21.41" fill="#482475"/><rect x="168.43" y="952.59" width="21.03" height="21.41" fill="#481c6e"/><rect x="188.85" y="952.59" width="21.03" height="21.41" fill="#482475"/><rect x="209.27" y="952.59" width="21.03" height="21.41" fill="#25848e"/><rect x="229.70" y="952.59" width="21.03" height="21.41" fill="#3b528b"/><rect x="250.12" y="952.59" width="21.03" height="21.41" fill="#481c6e"/><rect x="270.55" y="952.59" width="21.03" height="21.41" fill="#472d7b"/><rect x="290.98" y="952.59" width="21.03" height="21.41" fill="#482475"/><text transform="translate(157.23 716.00) scale(1.0615 1)" font-size="18.42">Head 9</text><line x1="61.00" y1="735.00" x2="66.30" y2="735.00" stroke="#6a6a6a" stroke-width="1.60"/><text transform="translate(16.56 739.00) scale(1.0236 1)" font-size="15.11">[CLS]</text><line x1="61.00" y1="755.81" x2="66.30" y2="755.81" stroke="#6a6a6a" stroke-width="1.60"/><text transform="translate(31.57 759.81) scale(1.1336 1)" font-size="15.11">the</text><line x1="61.00" y1="776.62" x2="66.30" y2="776.62" stroke="#6a6a6a" stroke-width="1.60"/><text transform="translate(16.45 780.62) scale(1.1024 1)" font-size="15.11">quick</text><line x1="61.00" y1="797.43" x2="66.30" y2="797.43" stroke="#6a6a6a" stroke-width="1.60"/><text transform="translate(10.60 801.43) scale(1.0843 1)" font-size="15.11">brown</text><line x1="61.00" y1="818.24" x2="66.30" y2="818.24" stroke="#6a6a6a" stroke-width="1.60"/><text transform="translate(33.24 822.24) scale(1.0841 1)" font-size="15.11">fox</text><line x1="61.00" y1="839.05" x2="66.30" y2="839.05" stroke="#6a6a6a" stroke-width="1.60"/><text transform="translate(11.13 843.05) scale(1.0954 1)" font-size="15.11">jumps</text><line x1="61.00" y1="859.85" x2="66.30" y2="859.85" stroke="#6a6a6a" stroke-width="1.60"/><text transform="translate(22.94 863.85) scale(1.1137 1)" font-size="15.11">over</text><line x1="61.00" y1="880.66" x2="66.30" y2="880.66" stroke="#6a6a6a" stroke-width="1.60"/><text transform="translate(31.57 884.66) scale(1.1336 1)" font-size="15.11">the</text><line x1="61.00" y1="901.47" x2="66.30" y2="901.47" stroke="#6a6a6a" stroke-width="1.60"/><text transform="translate(26.38 905.47) scale(1.0647 1)" font-size="15.11">lazy</text><line x1="61.00" y1="922.28" x2="66.30" y2="922.28" stroke="#6a6a6a" stroke-width="1.60"/><text transform="translate(28.05 926.28) scale(1.0734 1)" font-size="15.11">dog</text><line x1="61.00" y1="943.09" x2="66.30" y2="943.09" stroke="#6a6a6a" stroke-width="1.60"/><text transform="translate(50.88 947.09) scale(1.0454 1)" font-size="15.11">.</text><line x1="61.00" y1="963.90" x2="66.30" y2="963.90" stroke="#6a6a6a" stroke-width="1.60"/><text transform="translate(16.90 967.90) scale(0.9918 1)" font-size="15.11">[SEP]</text><line x1="76.51" y1="973.40" x2="76.51" y2="978.70" stroke="#6a6a6a" stroke-width="1.60"/><text transform="translate(80.36 1025.74) rotate(-90) scale(1.0236 1)" font-size="15.11">[CLS]</text><line x1="96.94" y1="973.40" x2="96.94" y2="978.70" stroke="#6a6a6a" stroke-width="1.60"/><text transform="translate(100.79 1010.73) rotate(-90) scale(1.1336 1)" font-size="15.11">the</text><line x1="117.36" y1="973.40" x2="117.36" y2="978.70" stroke="#6a6a6a" stroke-width="1.60"/><text transform="translate(121.21 1025.85) rotate(-90) scale(1.1024 1)" font-size="15.11">quick</text><line x1="137.79" y1="973.40" x2="137.79" y2="978.70" stroke="#6a6a6a" stroke-width="1.60"/><text transform="translate(141.64 1031.70) rotate(-90) scale(1.0843 1)" font-size="15.11">brown</text><line x1="158.21" y1="973.40" x2="158.21" y2="978.70" stroke="#6a6a6a" stroke-width="1.60"/><text transform="translate(162.06 1009.06) rotate(-90) scale(1.0841 1)" font-size="15.11">fox</text><line x1="178.64" y1="973.40" x2="178.64" y2="978.70" stroke="#6a6a6a" stroke-width="1.60"/><text transform="translate(182.49 1031.17) rotate(-90) scale(1.0954 1)" font-size="15.11">jumps</text><line x1="199.06" y1="973.40" x2="199.06" y2="978.70" stroke="#6a6a6a" stroke-width="1.60"/><text transform="translate(202.91 1019.36) rotate(-90) scale(1.1137 1)" font-size="15.11">over</text><line x1="219.49" y1="973.40" x2="219.49" y2="978.70" stroke="#6a6a6a" stroke-width="1.60"/><text transform="translate(223.34 1010.73) rotate(-90) scale(1.1336 1)" font-size="15.11">the</text><line x1="239.91" y1="973.40" x2="239.91" y2="978.70" stroke="#6a6a6a" stroke-width="1.60"/><text transform="translate(243.76 1015.92) rotate(-90) scale(1.0647 1)" font-size="15.11">lazy</text><line x1="260.34" y1="973.40" x2="260.34" y2="978.70" stroke="#6a6a6a" stroke-width="1.60"/><text transform="translate(264.19 1014.25) rotate(-90) scale(1.0734 1)" font-size="15.11">dog</text><line x1="280.76" y1="973.40" x2="280.76" y2="978.70" stroke="#6a6a6a" stroke-width="1.60"/><text transform="translate(284.61 991.42) rotate(-90) scale(1.0454 1)" font-size="15.11">.</text><line x1="301.19" y1="973.40" x2="301.19" y2="978.70" stroke="#6a6a6a" stroke-width="1.60"/><text transform="translate(305.04 1025.40) rotate(-90) scale(0.9918 1)" font-size="15.11">[SEP]</text><rect x="326.90" y="723.70" width="13.00" height="249.70" fill="url(#vir)"/><line x1="339.90" y1="727.40" x2="345.20" y2="727.40" stroke="#6a6a6a" stroke-width="1.60"/><text transform="translate(349.94 734.30) scale(1.0356 1)" font-size="15.48">0.5</text><line x1="339.90" y1="777.90" x2="345.20" y2="777.90" stroke="#6a6a6a" stroke-width="1.60"/><text transform="translate(349.93 784.80) scale(1.0480 1)" font-size="15.48">0.4</text><line x1="339.90" y1="827.40" x2="345.20" y2="827.40" stroke="#6a6a6a" stroke-width="1.60"/><text transform="translate(349.93 834.30) scale(1.0424 1)" font-size="15.48">0.3</text><line x1="339.90" y1="876.65" x2="345.20" y2="876.65" stroke="#6a6a6a" stroke-width="1.60"/><text transform="translate(349.94 883.55) scale(1.0329 1)" font-size="15.48">0.2</text><line x1="339.90" y1="926.15" x2="345.20" y2="926.15" stroke="#6a6a6a" stroke-width="1.60"/><text transform="translate(349.94 933.05) scale(1.0374 1)" font-size="15.48">0.1</text></g>
<g><rect x="458.30" y="723.70" width="21.03" height="21.41" fill="#443b84"/><rect x="478.73" y="723.70" width="21.03" height="21.41" fill="#482475"/><rect x="499.15" y="723.70" width="21.03" height="21.41" fill="#355f8d"/><rect x="519.58" y="723.70" width="21.03" height="21.41" fill="#472d7b"/><rect x="540.00" y="723.70" width="21.03" height="21.41" fill="#440154"/><rect x="560.42" y="723.70" width="21.03" height="21.41" fill="#440154"/><rect x="580.85" y="723.70" width="21.03" height="21.41" fill="#2a788e"/><rect x="601.27" y="723.70" width="21.03" height="21.41" fill="#472d7b"/><rect x="621.70" y="723.70" width="21.03" height="21.41" fill="#472d7b"/><rect x="642.12" y="723.70" width="21.03" height="21.41" fill="#471365"/><rect x="662.55" y="723.70" width="21.03" height="21.41" fill="#481c6e"/><rect x="682.98" y="723.70" width="21.03" height="21.41" fill="#440154"/><rect x="458.30" y="744.51" width="21.03" height="21.41" fill="#38b977"/><rect x="478.73" y="744.51" width="21.03" height="21.41" fill="#471365"/><rect x="499.15" y="744.51" width="21.03" height="21.41" fill="#481c6e"/><rect x="519.58" y="744.51" width="21.03" height="21.41" fill="#481c6e"/><rect x="540.00" y="744.51" width="21.03" height="21.41" fill="#471365"/><rect x="560.42" y="744.51" width="21.03" height="21.41" fill="#471365"/><rect x="580.85" y="744.51" width="21.03" height="21.41" fill="#482475"/><rect x="601.27" y="744.51" width="21.03" height="21.41" fill="#482475"/><rect x="621.70" y="744.51" width="21.03" height="21.41" fill="#481c6e"/><rect x="642.12" y="744.51" width="21.03" height="21.41" fill="#463480"/><rect x="662.55" y="744.51" width="21.03" height="21.41" fill="#471365"/><rect x="682.98" y="744.51" width="21.03" height="21.41" fill="#414487"/><rect x="458.30" y="765.32" width="21.03" height="21.41" fill="#481c6e"/><rect x="478.73" y="765.32" width="21.03" height="21.41" fill="#472d7b"/><rect x="499.15" y="765.32" width="21.03" height="21.41" fill="#355f8d"/><rect x="519.58" y="765.32" width="21.03" height="21.41" fill="#471365"/><rect x="540.00" y="765.32" width="21.03" height="21.41" fill="#440154"/><rect x="560.42" y="765.32" width="21.03" height="21.41" fill="#414487"/><rect x="580.85" y="765.32" width="21.03" height="21.41" fill="#414487"/><rect x="601.27" y="765.32" width="21.03" height="21.41" fill="#414487"/><rect x="621.70" y="765.32" width="21.03" height="21.41" fill="#355f8d"/><rect x="642.12" y="765.32" width="21.03" height="21.41" fill="#471365"/><rect x="662.55" y="765.32" width="21.03" height="21.41" fill="#472d7b"/><rect x="682.98" y="765.32" width="21.03" height="21.41" fill="#482475"/><rect x="458.30" y="786.12" width="21.03" height="21.41" fill="#481c6e"/><rect x="478.73" y="786.12" width="21.03" height="21.41" fill="#482475"/><rect x="499.15" y="786.12" width="21.03" height="21.41" fill="#481c6e"/><rect x="519.58" y="786.12" width="21.03" height="21.41" fill="#44bf70"/><rect x="540.00" y="786.12" width="21.03" height="21.41" fill="#471365"/><rect x="560.42" y="786.12" width="21.03" height="21.41" fill="#471365"/><rect x="580.85" y="786.12" width="21.03" height="21.41" fill="#471365"/><rect x="601.27" y="786.12" width="21.03" height="21.41" fill="#472d7b"/><rect x="621.70" y="786.12" width="21.03" height="21.41" fill="#463480"/><rect x="642.12" y="786.12" width="21.03" height="21.41" fill="#443b84"/><rect x="662.55" y="786.12" width="21.03" height="21.41" fill="#460a5d"/><rect x="682.98" y="786.12" width="21.03" height="21.41" fill="#460a5d"/><rect x="458.30" y="806.93" width="21.03" height="21.41" fill="#482475"/><rect x="478.73" y="806.93" width="21.03" height="21.41" fill="#481c6e"/><rect x="499.15" y="806.93" width="21.03" height="21.41" fill="#472d7b"/><rect x="519.58" y="806.93" width="21.03" height="21.41" fill="#471365"/><rect x="540.00" y="806.93" width="21.03" height="21.41" fill="#21918c"/><rect x="560.42" y="806.93" width="21.03" height="21.41" fill="#481c6e"/><rect x="580.85" y="806.93" width="21.03" height="21.41" fill="#463480"/><rect x="601.27" y="806.93" width="21.03" height="21.41" fill="#481c6e"/><rect x="621.70" y="806.93" width="21.03" height="21.41" fill="#440154"/><rect x="642.12" y="806.93" width="21.03" height="21.41" fill="#414487"/><rect x="662.55" y="806.93" width="21.03" height="21.41" fill="#481c6e"/><rect x="682.98" y="806.93" width="21.03" height="21.41" fill="#414487"/><rect x="458.30" y="827.74" width="21.03" height="21.41" fill="#482475"/><rect x="478.73" y="827.74" width="21.03" height="21.41" fill="#471365"/><rect x="499.15" y="827.74" width="21.03" height="21.41" fill="#482475"/><rect x="519.58" y="827.74" width="21.03" height="21.41" fill="#440154"/><rect x="540.00" y="827.74" width="21.03" height="21.41" fill="#460a5d"/><rect x="560.42" y="827.74" width="21.03" height="21.41" fill="#2a788e"/><rect x="580.85" y="827.74" width="21.03" height="21.41" fill="#472d7b"/><rect x="601.27" y="827.74" width="21.03" height="21.41" fill="#471365"/><rect x="621.70" y="827.74" width="21.03" height="21.41" fill="#481c6e"/><rect x="642.12" y="827.74" width="21.03" height="21.41" fill="#21918c"/><rect x="662.55" y="827.74" width="21.03" height="21.41" fill="#471365"/><rect x="682.98" y="827.74" width="21.03" height="21.41" fill="#463480"/><rect x="458.30" y="848.55" width="21.03" height="21.41" fill="#5ec962"/><rect x="478.73" y="848.55" width="21.03" height="21.41" fill="#460a5d"/><rect x="499.15" y="848.55" width="21.03" height="21.41" fill="#443b84"/><rect x="519.58" y="848.55" width="21.03" height="21.41" fill="#482475"/><rect x="540.00" y="848.55" width="21.03" height="21.41" fill="#481c6e"/><rect x="560.42" y="848.55" width="21.03" height="21.41" fill="#481c6e"/><rect x="580.85" y="848.55" width="21.03" height="21.41" fill="#471365"/><rect x="601.27" y="848.55" width="21.03" height="21.41" fill="#440154"/><rect x="621.70" y="848.55" width="21.03" height="21.41" fill="#481c6e"/><rect x="642.12" y="848.55" width="21.03" height="21.41" fill="#463480"/><rect x="662.55" y="848.55" width="21.03" height="21.41" fill="#481c6e"/><rect x="682.98" y="848.55" width="21.03" height="21.41" fill="#463480"/><rect x="458.30" y="869.36" width="21.03" height="21.41" fill="#22a884"/><rect x="478.73" y="869.36" width="21.03" height="21.41" fill="#472d7b"/><rect x="499.15" y="869.36" width="21.03" height="21.41" fill="#463480"/><rect x="519.58" y="869.36" width="21.03" height="21.41" fill="#463480"/><rect x="540.00" y="869.36" width="21.03" height="21.41" fill="#481c6e"/><rect x="560.42" y="869.36" width="21.03" height="21.41" fill="#481c6e"/><rect x="580.85" y="869.36" width="21.03" height="21.41" fill="#481c6e"/><rect x="601.27" y="869.36" width="21.03" height="21.41" fill="#471365"/><rect x="621.70" y="869.36" width="21.03" height="21.41" fill="#471365"/><rect x="642.12" y="869.36" width="21.03" height="21.41" fill="#481c6e"/><rect x="662.55" y="869.36" width="21.03" height="21.41" fill="#481c6e"/><rect x="682.98" y="869.36" width="21.03" height="21.41" fill="#443b84"/><rect x="458.30" y="890.17" width="21.03" height="21.41" fill="#3b528b"/><rect x="478.73" y="890.17" width="21.03" height="21.41" fill="#443b84"/><rect x="499.15" y="890.17" width="21.03" height="21.41" fill="#443b84"/><rect x="519.58" y="890.17" width="21.03" height="21.41" fill="#460a5d"/><rect x="540.00" y="890.17" width="21.03" height="21.41" fill="#482475"/><rect x="560.42" y="890.17" width="21.03" height="21.41" fill="#463480"/><rect x="580.85" y="890.17" width="21.03" height="21.41" fill="#440154"/><rect x="601.27" y="890.17" width="21.03" height="21.41" fill="#463480"/><rect x="621.70" y="890.17" width="21.03" height="21.41" fill="#355f8d"/><rect x="642.12" y="890.17" width="21.03" height="21.41" fill="#481c6e"/><rect x="662.55" y="890.17" width="21.03" height="21.41" fill="#481c6e"/><rect x="682.98" y="890.17" width="21.03" height="21.41" fill="#482475"/><rect x="458.30" y="910.98" width="21.03" height="21.41" fill="#2c728e"/><rect x="478.73" y="910.98" width="21.03" height="21.41" fill="#440154"/><rect x="499.15" y="910.98" width="21.03" height="21.41" fill="#472d7b"/><rect x="519.58" y="910.98" width="21.03" height="21.41" fill="#481c6e"/><rect x="540.00" y="910.98" width="21.03" height="21.41" fill="#463480"/><rect x="560.42" y="910.98" width="21.03" height="21.41" fill="#463480"/><rect x="580.85" y="910.98" width="21.03" height="21.41" fill="#471365"/><rect x="601.27" y="910.98" width="21.03" height="21.41" fill="#471365"/><rect x="621.70" y="910.98" width="21.03" height="21.41" fill="#482475"/><rect x="642.12" y="910.98" width="21.03" height="21.41" fill="#31668e"/><rect x="662.55" y="910.98" width="21.03" height="21.41" fill="#460a5d"/><rect x="682.98" y="910.98" width="21.03" height="21.41" fill="#3e4a89"/><rect x="458.30" y="931.78" width="21.03" height="21.41" fill="#fde725"/><rect x="478.73" y="931.78" width="21.03" height="21.41" fill="#440154"/><rect x="499.15" y="931.78" width="21.03" height="21.41" fill="#471365"/><rect x="519.58" y="931.78" width="21.03" height="21.41" fill="#460a5d"/><rect x="540.00" y="931.78" width="21.03" height="21.41" fill="#460a5d"/><rect x="560.42" y="931.78" width="21.03" height="21.41" fill="#440154"/><rect x="580.85" y="931.78" width="21.03" height="21.41" fill="#482475"/><rect x="601.27" y="931.78" width="21.03" height="21.41" fill="#460a5d"/><rect x="621.70" y="931.78" width="21.03" height="21.41" fill="#440154"/><rect x="642.12" y="931.78" width="21.03" height="21.41" fill="#482475"/><rect x="662.55" y="931.78" width="21.03" height="21.41" fill="#460a5d"/><rect x="682.98" y="931.78" width="21.03" height="21.41" fill="#443b84"/><rect x="458.30" y="952.59" width="21.03" height="21.41" fill="#cde11d"/><rect x="478.73" y="952.59" width="21.03" height="21.41" fill="#472d7b"/><rect x="499.15" y="952.59" width="21.03" height="21.41" fill="#472d7b"/><rect x="519.58" y="952.59" width="21.03" height="21.41" fill="#471365"/><rect x="540.00" y="952.59" width="21.03" height="21.41" fill="#463480"/><rect x="560.42" y="952.59" width="21.03" height="21.41" fill="#440154"/><rect x="580.85" y="952.59" width="21.03" height="21.41" fill="#440154"/><rect x="601.27" y="952.59" width="21.03" height="21.41" fill="#482475"/><rect x="621.70" y="952.59" width="21.03" height="21.41" fill="#471365"/><rect x="642.12" y="952.59" width="21.03" height="21.41" fill="#481c6e"/><rect x="662.55" y="952.59" width="21.03" height="21.41" fill="#481c6e"/><rect x="682.98" y="952.59" width="21.03" height="21.41" fill="#460a5d"/><text transform="translate(543.56 716.00) scale(1.0668 1)" font-size="18.42">Head 10</text><line x1="453.00" y1="735.00" x2="458.30" y2="735.00" stroke="#6a6a6a" stroke-width="1.60"/><text transform="translate(408.56 739.00) scale(1.0236 1)" font-size="15.11">[CLS]</text><line x1="453.00" y1="755.81" x2="458.30" y2="755.81" stroke="#6a6a6a" stroke-width="1.60"/><text transform="translate(423.57 759.81) scale(1.1336 1)" font-size="15.11">the</text><line x1="453.00" y1="776.62" x2="458.30" y2="776.62" stroke="#6a6a6a" stroke-width="1.60"/><text transform="translate(408.45 780.62) scale(1.1024 1)" font-size="15.11">quick</text><line x1="453.00" y1="797.43" x2="458.30" y2="797.43" stroke="#6a6a6a" stroke-width="1.60"/><text transform="translate(402.60 801.43) scale(1.0843 1)" font-size="15.11">brown</text><line x1="453.00" y1="818.24" x2="458.30" y2="818.24" stroke="#6a6a6a" stroke-width="1.60"/><text transform="translate(425.24 822.24) scale(1.0841 1)" font-size="15.11">fox</text><line x1="453.00" y1="839.05" x2="458.30" y2="839.05" stroke="#6a6a6a" stroke-width="1.60"/><text transform="translate(403.13 843.05) scale(1.0954 1)" font-size="15.11">jumps</text><line x1="453.00" y1="859.85" x2="458.30" y2="859.85" stroke="#6a6a6a" stroke-width="1.60"/><text transform="translate(414.94 863.85) scale(1.1137 1)" font-size="15.11">over</text><line x1="453.00" y1="880.66" x2="458.30" y2="880.66" stroke="#6a6a6a" stroke-width="1.60"/><text transform="translate(423.57 884.66) scale(1.1336 1)" font-size="15.11">the</text><line x1="453.00" y1="901.47" x2="458.30" y2="901.47" stroke="#6a6a6a" stroke-width="1.60"/><text transform="translate(418.38 905.47) scale(1.0647 1)" font-size="15.11">lazy</text><line x1="453.00" y1="922.28" x2="458.30" y2="922.28" stroke="#6a6a6a" stroke-width="1.60"/><text transform="translate(420.05 926.28) scale(1.0734 1)" font-size="15.11">dog</text><line x1="453.00" y1="943.09" x2="458.30" y2="943.09" stroke="#6a6a6a" stroke-width="1.60"/><text transform="translate(442.88 947.09) scale(1.0454 1)" font-size="15.11">.</text><line x1="453.00" y1="963.90" x2="458.30" y2="963.90" stroke="#6a6a6a" stroke-width="1.60"/><text transform="translate(408.90 967.90) scale(0.9918 1)" font-size="15.11">[SEP]</text><line x1="468.51" y1="973.40" x2="468.51" y2="978.70" stroke="#6a6a6a" stroke-width="1.60"/><text transform="translate(472.36 1025.74) rotate(-90) scale(1.0236 1)" font-size="15.11">[CLS]</text><line x1="488.94" y1="973.40" x2="488.94" y2="978.70" stroke="#6a6a6a" stroke-width="1.60"/><text transform="translate(492.79 1010.73) rotate(-90) scale(1.1336 1)" font-size="15.11">the</text><line x1="509.36" y1="973.40" x2="509.36" y2="978.70" stroke="#6a6a6a" stroke-width="1.60"/><text transform="translate(513.21 1025.85) rotate(-90) scale(1.1024 1)" font-size="15.11">quick</text><line x1="529.79" y1="973.40" x2="529.79" y2="978.70" stroke="#6a6a6a" stroke-width="1.60"/><text transform="translate(533.64 1031.70) rotate(-90) scale(1.0843 1)" font-size="15.11">brown</text><line x1="550.21" y1="973.40" x2="550.21" y2="978.70" stroke="#6a6a6a" stroke-width="1.60"/><text transform="translate(554.06 1009.06) rotate(-90) scale(1.0841 1)" font-size="15.11">fox</text><line x1="570.64" y1="973.40" x2="570.64" y2="978.70" stroke="#6a6a6a" stroke-width="1.60"/><text transform="translate(574.49 1031.17) rotate(-90) scale(1.0954 1)" font-size="15.11">jumps</text><line x1="591.06" y1="973.40" x2="591.06" y2="978.70" stroke="#6a6a6a" stroke-width="1.60"/><text transform="translate(594.91 1019.36) rotate(-90) scale(1.1137 1)" font-size="15.11">over</text><line x1="611.49" y1="973.40" x2="611.49" y2="978.70" stroke="#6a6a6a" stroke-width="1.60"/><text transform="translate(615.34 1010.73) rotate(-90) scale(1.1336 1)" font-size="15.11">the</text><line x1="631.91" y1="973.40" x2="631.91" y2="978.70" stroke="#6a6a6a" stroke-width="1.60"/><text transform="translate(635.76 1015.92) rotate(-90) scale(1.0647 1)" font-size="15.11">lazy</text><line x1="652.34" y1="973.40" x2="652.34" y2="978.70" stroke="#6a6a6a" stroke-width="1.60"/><text transform="translate(656.19 1014.25) rotate(-90) scale(1.0734 1)" font-size="15.11">dog</text><line x1="672.76" y1="973.40" x2="672.76" y2="978.70" stroke="#6a6a6a" stroke-width="1.60"/><text transform="translate(676.61 991.42) rotate(-90) scale(1.0454 1)" font-size="15.11">.</text><line x1="693.19" y1="973.40" x2="693.19" y2="978.70" stroke="#6a6a6a" stroke-width="1.60"/><text transform="translate(697.04 1025.40) rotate(-90) scale(0.9918 1)" font-size="15.11">[SEP]</text><rect x="718.90" y="723.70" width="13.00" height="249.70" fill="url(#vir)"/><line x1="731.90" y1="737.40" x2="737.20" y2="737.40" stroke="#6a6a6a" stroke-width="1.60"/><text transform="translate(741.93 744.30) scale(1.0548 1)" font-size="15.48">0.6</text><line x1="731.90" y1="777.40" x2="737.20" y2="777.40" stroke="#6a6a6a" stroke-width="1.60"/><text transform="translate(741.94 784.30) scale(1.0356 1)" font-size="15.48">0.5</text><line x1="731.90" y1="817.40" x2="737.20" y2="817.40" stroke="#6a6a6a" stroke-width="1.60"/><text transform="translate(741.93 824.30) scale(1.0480 1)" font-size="15.48">0.4</text><line x1="731.90" y1="857.90" x2="737.20" y2="857.90" stroke="#6a6a6a" stroke-width="1.60"/><text transform="translate(741.93 864.80) scale(1.0424 1)" font-size="15.48">0.3</text><line x1="731.90" y1="897.90" x2="737.20" y2="897.90" stroke="#6a6a6a" stroke-width="1.60"/><text transform="translate(741.94 904.80) scale(1.0329 1)" font-size="15.48">0.2</text><line x1="731.90" y1="937.90" x2="737.20" y2="937.90" stroke="#6a6a6a" stroke-width="1.60"/><text transform="translate(741.94 944.80) scale(1.0374 1)" font-size="15.48">0.1</text></g>
<g><rect x="851.20" y="723.70" width="21.03" height="21.41" fill="#addc30"/><rect x="871.62" y="723.70" width="21.03" height="21.41" fill="#460a5d"/><rect x="892.05" y="723.70" width="21.03" height="21.41" fill="#460a5d"/><rect x="912.48" y="723.70" width="21.03" height="21.41" fill="#440154"/><rect x="932.90" y="723.70" width="21.03" height="21.41" fill="#440154"/><rect x="953.33" y="723.70" width="21.03" height="21.41" fill="#460a5d"/><rect x="973.75" y="723.70" width="21.03" height="21.41" fill="#440154"/><rect x="994.18" y="723.70" width="21.03" height="21.41" fill="#460a5d"/><rect x="1014.60" y="723.70" width="21.03" height="21.41" fill="#440154"/><rect x="1035.03" y="723.70" width="21.03" height="21.41" fill="#440154"/><rect x="1055.45" y="723.70" width="21.03" height="21.41" fill="#460a5d"/><rect x="1075.88" y="723.70" width="21.03" height="21.41" fill="#460a5d"/><rect x="851.20" y="744.51" width="21.03" height="21.41" fill="#440154"/><rect x="871.62" y="744.51" width="21.03" height="21.41" fill="#471365"/><rect x="892.05" y="744.51" width="21.03" height="21.41" fill="#7ad151"/><rect x="912.48" y="744.51" width="21.03" height="21.41" fill="#463480"/><rect x="932.90" y="744.51" width="21.03" height="21.41" fill="#460a5d"/><rect x="953.33" y="744.51" width="21.03" height="21.41" fill="#460a5d"/><rect x="973.75" y="744.51" width="21.03" height="21.41" fill="#440154"/><rect x="994.18" y="744.51" width="21.03" height="21.41" fill="#440154"/><rect x="1014.60" y="744.51" width="21.03" height="21.41" fill="#440154"/><rect x="1035.03" y="744.51" width="21.03" height="21.41" fill="#440154"/><rect x="1055.45" y="744.51" width="21.03" height="21.41" fill="#440154"/><rect x="1075.88" y="744.51" width="21.03" height="21.41" fill="#440154"/><rect x="851.20" y="765.32" width="21.03" height="21.41" fill="#460a5d"/><rect x="871.62" y="765.32" width="21.03" height="21.41" fill="#463480"/><rect x="892.05" y="765.32" width="21.03" height="21.41" fill="#481c6e"/><rect x="912.48" y="765.32" width="21.03" height="21.41" fill="#5ec962"/><rect x="932.90" y="765.32" width="21.03" height="21.41" fill="#460a5d"/><rect x="953.33" y="765.32" width="21.03" height="21.41" fill="#471365"/><rect x="973.75" y="765.32" width="21.03" height="21.41" fill="#471365"/><rect x="994.18" y="765.32" width="21.03" height="21.41" fill="#440154"/><rect x="1014.60" y="765.32" width="21.03" height="21.41" fill="#440154"/><rect x="1035.03" y="765.32" width="21.03" height="21.41" fill="#440154"/><rect x="1055.45" y="765.32" width="21.03" height="21.41" fill="#440154"/><rect x="1075.88" y="765.32" width="21.03" height="21.41" fill="#440154"/><rect x="851.20" y="786.12" width="21.03" height="21.41" fill="#460a5d"/><rect x="871.62" y="786.12" width="21.03" height="21.41" fill="#471365"/><rect x="892.05" y="786.12" width="21.03" height="21.41" fill="#481c6e"/><rect x="912.48" y="786.12" width="21.03" height="21.41" fill="#440154"/><rect x="932.90" y="786.12" width="21.03" height="21.41" fill="#bddf26"/><rect x="953.33" y="786.12" width="21.03" height="21.41" fill="#460a5d"/><rect x="973.75" y="786.12" width="21.03" height="21.41" fill="#440154"/><rect x="994.18" y="786.12" width="21.03" height="21.41" fill="#440154"/><rect x="1014.60" y="786.12" width="21.03" height="21.41" fill="#440154"/><rect x="1035.03" y="786.12" width="21.03" height="21.41" fill="#440154"/><rect x="1055.45" y="786.12" width="21.03" height="21.41" fill="#440154"/><rect x="1075.88" y="786.12" width="21.03" height="21.41" fill="#440154"/><rect x="851.20" y="806.93" width="21.03" height="21.41" fill="#460a5d"/><rect x="871.62" y="806.93" width="21.03" height="21.41" fill="#440154"/><rect x="892.05" y="806.93" width="21.03" height="21.41" fill="#460a5d"/><rect x="912.48" y="806.93" width="21.03" height="21.41" fill="#463480"/><rect x="932.90" y="806.93" width="21.03" height="21.41" fill="#471365"/><rect x="953.33" y="806.93" width="21.03" height="21.41" fill="#2fb47c"/><rect x="973.75" y="806.93" width="21.03" height="21.41" fill="#463480"/><rect x="994.18" y="806.93" width="21.03" height="21.41" fill="#471365"/><rect x="1014.60" y="806.93" width="21.03" height="21.41" fill="#440154"/><rect x="1035.03" y="806.93" width="21.03" height="21.41" fill="#440154"/><rect x="1055.45" y="806.93" width="21.03" height="21.41" fill="#440154"/><rect x="1075.88" y="806.93" width="21.03" height="21.41" fill="#440154"/><rect x="851.20" y="827.74" width="21.03" height="21.41" fill="#460a5d"/><rect x="871.62" y="827.74" width="21.03" height="21.41" fill="#440154"/><rect x="892.05" y="827.74" width="21.03" height="21.41" fill="#440154"/><rect x="912.48" y="827.74" width="21.03" height="21.41" fill="#440154"/><rect x="932.90" y="827.74" width="21.03" height="21.41" fill="#482475"/><rect x="953.33" y="827.74" width="21.03" height="21.41" fill="#440154"/><rect x="973.75" y="827.74" width="21.03" height="21.41" fill="#6ccd5a"/><rect x="994.18" y="827.74" width="21.03" height="21.41" fill="#482475"/><rect x="1014.60" y="827.74" width="21.03" height="21.41" fill="#440154"/><rect x="1035.03" y="827.74" width="21.03" height="21.41" fill="#440154"/><rect x="1055.45" y="827.74" width="21.03" height="21.41" fill="#440154"/><rect x="1075.88" y="827.74" width="21.03" height="21.41" fill="#440154"/><rect x="851.20" y="848.55" width="21.03" height="21.41" fill="#440154"/><rect x="871.62" y="848.55" width="21.03" height="21.41" fill="#440154"/><rect x="892.05" y="848.55" width="21.03" height="21.41" fill="#440154"/><rect x="912.48" y="848.55" width="21.03" height="21.41" fill="#440154"/><rect x="932.90" y="848.55" width="21.03" height="21.41" fill="#482475"/><rect x="953.33" y="848.55" width="21.03" height="21.41" fill="#414487"/><rect x="973.75" y="848.55" width="21.03" height="21.41" fill="#471365"/><rect x="994.18" y="848.55" width="21.03" height="21.41" fill="#2a788e"/><rect x="1014.60" y="848.55" width="21.03" height="21.41" fill="#414487"/><rect x="1035.03" y="848.55" width="21.03" height="21.41" fill="#482475"/><rect x="1055.45" y="848.55" width="21.03" height="21.41" fill="#460a5d"/><rect x="1075.88" y="848.55" width="21.03" height="21.41" fill="#440154"/><rect x="851.20" y="869.36" width="21.03" height="21.41" fill="#440154"/><rect x="871.62" y="869.36" width="21.03" height="21.41" fill="#440154"/><rect x="892.05" y="869.36" width="21.03" height="21.41" fill="#440154"/><rect x="912.48" y="869.36" width="21.03" height="21.41" fill="#440154"/><rect x="932.90" y="869.36" width="21.03" height="21.41" fill="#440154"/><rect x="953.33" y="869.36" width="21.03" height="21.41" fill="#440154"/><rect x="973.75" y="869.36" width="21.03" height="21.41" fill="#460a5d"/><rect x="994.18" y="869.36" width="21.03" height="21.41" fill="#460a5d"/><rect x="1014.60" y="869.36" width="21.03" height="21.41" fill="#1e9c89"/><rect x="1035.03" y="869.36" width="21.03" height="21.41" fill="#31668e"/><rect x="1055.45" y="869.36" width="21.03" height="21.41" fill="#481c6e"/><rect x="1075.88" y="869.36" width="21.03" height="21.41" fill="#460a5d"/><rect x="851.20" y="890.17" width="21.03" height="21.41" fill="#460a5d"/><rect x="871.62" y="890.17" width="21.03" height="21.41" fill="#440154"/><rect x="892.05" y="890.17" width="21.03" height="21.41" fill="#440154"/><rect x="912.48" y="890.17" width="21.03" height="21.41" fill="#440154"/><rect x="932.90" y="890.17" width="21.03" height="21.41" fill="#440154"/><rect x="953.33" y="890.17" width="21.03" height="21.41" fill="#440154"/><rect x="973.75" y="890.17" width="21.03" height="21.41" fill="#440154"/><rect x="994.18" y="890.17" width="21.03" height="21.41" fill="#460a5d"/><rect x="1014.60" y="890.17" width="21.03" height="21.41" fill="#481c6e"/><rect x="1035.03" y="890.17" width="21.03" height="21.41" fill="#bddf26"/><rect x="1055.45" y="890.17" width="21.03" height="21.41" fill="#481c6e"/><rect x="1075.88" y="890.17" width="21.03" height="21.41" fill="#440154"/><rect x="851.20" y="910.98" width="21.03" height="21.41" fill="#463480"/><rect x="871.62" y="910.98" width="21.03" height="21.41" fill="#440154"/><rect x="892.05" y="910.98" width="21.03" height="21.41" fill="#440154"/><rect x="912.48" y="910.98" width="21.03" height="21.41" fill="#440154"/><rect x="932.90" y="910.98" width="21.03" height="21.41" fill="#440154"/><rect x="953.33" y="910.98" width="21.03" height="21.41" fill="#440154"/><rect x="973.75" y="910.98" width="21.03" height="21.41" fill="#440154"/><rect x="994.18" y="910.98" width="21.03" height="21.41" fill="#481c6e"/><rect x="1014.60" y="910.98" width="21.03" height="21.41" fill="#463480"/><rect x="1035.03" y="910.98" width="21.03" height="21.41" fill="#460a5d"/><rect x="1055.45" y="910.98" width="21.03" height="21.41" fill="#238a8d"/><rect x="1075.88" y="910.98" width="21.03" height="21.41" fill="#3e4a89"/><rect x="851.20" y="931.78" width="21.03" height="21.41" fill="#440154"/><rect x="871.62" y="931.78" width="21.03" height="21.41" fill="#440154"/><rect x="892.05" y="931.78" width="21.03" height="21.41" fill="#440154"/><rect x="912.48" y="931.78" width="21.03" height="21.41" fill="#440154"/><rect x="932.90" y="931.78" width="21.03" height="21.41" fill="#440154"/><rect x="953.33" y="931.78" width="21.03" height="21.41" fill="#440154"/><rect x="973.75" y="931.78" width="21.03" height="21.41" fill="#440154"/><rect x="994.18" y="931.78" width="21.03" height="21.41" fill="#440154"/><rect x="1014.60" y="931.78" width="21.03" height="21.41" fill="#440154"/><rect x="1035.03" y="931.78" width="21.03" height="21.41" fill="#440154"/><rect x="1055.45" y="931.78" width="21.03" height="21.41" fill="#471365"/><rect x="1075.88" y="931.78" width="21.03" height="21.41" fill="#fde725"/><rect x="851.20" y="952.59" width="21.03" height="21.41" fill="#414487"/><rect x="871.62" y="952.59" width="21.03" height="21.41" fill="#440154"/><rect x="892.05" y="952.59" width="21.03" height="21.41" fill="#440154"/><rect x="912.48" y="952.59" width="21.03" height="21.41" fill="#440154"/><rect x="932.90" y="952.59" width="21.03" height="21.41" fill="#440154"/><rect x="953.33" y="952.59" width="21.03" height="21.41" fill="#440154"/><rect x="973.75" y="952.59" width="21.03" height="21.41" fill="#440154"/><rect x="994.18" y="952.59" width="21.03" height="21.41" fill="#440154"/><rect x="1014.60" y="952.59" width="21.03" height="21.41" fill="#440154"/><rect x="1035.03" y="952.59" width="21.03" height="21.41" fill="#482475"/><rect x="1055.45" y="952.59" width="21.03" height="21.41" fill="#31668e"/><rect x="1075.88" y="952.59" width="21.03" height="21.41" fill="#2c728e"/><text transform="translate(936.43 716.00) scale(1.0846 1)" font-size="18.42">Head 11</text><line x1="845.90" y1="735.00" x2="851.20" y2="735.00" stroke="#6a6a6a" stroke-width="1.60"/><text transform="translate(801.46 739.00) scale(1.0236 1)" font-size="15.11">[CLS]</text><line x1="845.90" y1="755.81" x2="851.20" y2="755.81" stroke="#6a6a6a" stroke-width="1.60"/><text transform="translate(816.47 759.81) scale(1.1336 1)" font-size="15.11">the</text><line x1="845.90" y1="776.62" x2="851.20" y2="776.62" stroke="#6a6a6a" stroke-width="1.60"/><text transform="translate(801.35 780.62) scale(1.1024 1)" font-size="15.11">quick</text><line x1="845.90" y1="797.43" x2="851.20" y2="797.43" stroke="#6a6a6a" stroke-width="1.60"/><text transform="translate(795.50 801.43) scale(1.0843 1)" font-size="15.11">brown</text><line x1="845.90" y1="818.24" x2="851.20" y2="818.24" stroke="#6a6a6a" stroke-width="1.60"/><text transform="translate(818.14 822.24) scale(1.0841 1)" font-size="15.11">fox</text><line x1="845.90" y1="839.05" x2="851.20" y2="839.05" stroke="#6a6a6a" stroke-width="1.60"/><text transform="translate(796.03 843.05) scale(1.0954 1)" font-size="15.11">jumps</text><line x1="845.90" y1="859.85" x2="851.20" y2="859.85" stroke="#6a6a6a" stroke-width="1.60"/><text transform="translate(807.84 863.85) scale(1.1137 1)" font-size="15.11">over</text><line x1="845.90" y1="880.66" x2="851.20" y2="880.66" stroke="#6a6a6a" stroke-width="1.60"/><text transform="translate(816.47 884.66) scale(1.1336 1)" font-size="15.11">the</text><line x1="845.90" y1="901.47" x2="851.20" y2="901.47" stroke="#6a6a6a" stroke-width="1.60"/><text transform="translate(811.28 905.47) scale(1.0647 1)" font-size="15.11">lazy</text><line x1="845.90" y1="922.28" x2="851.20" y2="922.28" stroke="#6a6a6a" stroke-width="1.60"/><text transform="translate(812.95 926.28) scale(1.0734 1)" font-size="15.11">dog</text><line x1="845.90" y1="943.09" x2="851.20" y2="943.09" stroke="#6a6a6a" stroke-width="1.60"/><text transform="translate(835.78 947.09) scale(1.0454 1)" font-size="15.11">.</text><line x1="845.90" y1="963.90" x2="851.20" y2="963.90" stroke="#6a6a6a" stroke-width="1.60"/><text transform="translate(801.80 967.90) scale(0.9918 1)" font-size="15.11">[SEP]</text><line x1="861.41" y1="973.40" x2="861.41" y2="978.70" stroke="#6a6a6a" stroke-width="1.60"/><text transform="translate(865.26 1025.74) rotate(-90) scale(1.0236 1)" font-size="15.11">[CLS]</text><line x1="881.84" y1="973.40" x2="881.84" y2="978.70" stroke="#6a6a6a" stroke-width="1.60"/><text transform="translate(885.69 1010.73) rotate(-90) scale(1.1336 1)" font-size="15.11">the</text><line x1="902.26" y1="973.40" x2="902.26" y2="978.70" stroke="#6a6a6a" stroke-width="1.60"/><text transform="translate(906.11 1025.85) rotate(-90) scale(1.1024 1)" font-size="15.11">quick</text><line x1="922.69" y1="973.40" x2="922.69" y2="978.70" stroke="#6a6a6a" stroke-width="1.60"/><text transform="translate(926.54 1031.70) rotate(-90) scale(1.0843 1)" font-size="15.11">brown</text><line x1="943.11" y1="973.40" x2="943.11" y2="978.70" stroke="#6a6a6a" stroke-width="1.60"/><text transform="translate(946.96 1009.06) rotate(-90) scale(1.0841 1)" font-size="15.11">fox</text><line x1="963.54" y1="973.40" x2="963.54" y2="978.70" stroke="#6a6a6a" stroke-width="1.60"/><text transform="translate(967.39 1031.17) rotate(-90) scale(1.0954 1)" font-size="15.11">jumps</text><line x1="983.96" y1="973.40" x2="983.96" y2="978.70" stroke="#6a6a6a" stroke-width="1.60"/><text transform="translate(987.81 1019.36) rotate(-90) scale(1.1137 1)" font-size="15.11">over</text><line x1="1004.39" y1="973.40" x2="1004.39" y2="978.70" stroke="#6a6a6a" stroke-width="1.60"/><text transform="translate(1008.24 1010.73) rotate(-90) scale(1.1336 1)" font-size="15.11">the</text><line x1="1024.81" y1="973.40" x2="1024.81" y2="978.70" stroke="#6a6a6a" stroke-width="1.60"/><text transform="translate(1028.66 1015.92) rotate(-90) scale(1.0647 1)" font-size="15.11">lazy</text><line x1="1045.24" y1="973.40" x2="1045.24" y2="978.70" stroke="#6a6a6a" stroke-width="1.60"/><text transform="translate(1049.09 1014.25) rotate(-90) scale(1.0734 1)" font-size="15.11">dog</text><line x1="1065.66" y1="973.40" x2="1065.66" y2="978.70" stroke="#6a6a6a" stroke-width="1.60"/><text transform="translate(1069.51 991.42) rotate(-90) scale(1.0454 1)" font-size="15.11">.</text><line x1="1086.09" y1="973.40" x2="1086.09" y2="978.70" stroke="#6a6a6a" stroke-width="1.60"/><text transform="translate(1089.94 1025.40) rotate(-90) scale(0.9918 1)" font-size="15.11">[SEP]</text><rect x="1111.80" y="723.70" width="13.00" height="249.70" fill="url(#vir)"/><line x1="1124.80" y1="755.40" x2="1130.10" y2="755.40" stroke="#6a6a6a" stroke-width="1.60"/><text transform="translate(1134.83 762.30) scale(1.0505 1)" font-size="15.48">0.8</text><line x1="1124.80" y1="810.40" x2="1130.10" y2="810.40" stroke="#6a6a6a" stroke-width="1.60"/><text transform="translate(1134.83 817.30) scale(1.0548 1)" font-size="15.48">0.6</text><line x1="1124.80" y1="865.40" x2="1130.10" y2="865.40" stroke="#6a6a6a" stroke-width="1.60"/><text transform="translate(1134.83 872.30) scale(1.0480 1)" font-size="15.48">0.4</text><line x1="1124.80" y1="919.90" x2="1130.10" y2="919.90" stroke="#6a6a6a" stroke-width="1.60"/><text transform="translate(1134.84 926.80) scale(1.0329 1)" font-size="15.48">0.2</text></g>
<g><rect x="1243.10" y="723.70" width="21.03" height="21.41" fill="#fde725"/><rect x="1263.52" y="723.70" width="21.03" height="21.41" fill="#31668e"/><rect x="1283.95" y="723.70" width="21.03" height="21.41" fill="#460a5d"/><rect x="1304.38" y="723.70" width="21.03" height="21.41" fill="#440154"/><rect x="1324.80" y="723.70" width="21.03" height="21.41" fill="#440154"/><rect x="1345.22" y="723.70" width="21.03" height="21.41" fill="#440154"/><rect x="1365.65" y="723.70" width="21.03" height="21.41" fill="#440154"/><rect x="1386.07" y="723.70" width="21.03" height="21.41" fill="#3e4a89"/><rect x="1406.50" y="723.70" width="21.03" height="21.41" fill="#440154"/><rect x="1426.92" y="723.70" width="21.03" height="21.41" fill="#440154"/><rect x="1447.35" y="723.70" width="21.03" height="21.41" fill="#440154"/><rect x="1467.77" y="723.70" width="21.03" height="21.41" fill="#471365"/><rect x="1243.10" y="744.51" width="21.03" height="21.41" fill="#cde11d"/><rect x="1263.52" y="744.51" width="21.03" height="21.41" fill="#482475"/><rect x="1283.95" y="744.51" width="21.03" height="21.41" fill="#355f8d"/><rect x="1304.38" y="744.51" width="21.03" height="21.41" fill="#481c6e"/><rect x="1324.80" y="744.51" width="21.03" height="21.41" fill="#471365"/><rect x="1345.22" y="744.51" width="21.03" height="21.41" fill="#472d7b"/><rect x="1365.65" y="744.51" width="21.03" height="21.41" fill="#481c6e"/><rect x="1386.07" y="744.51" width="21.03" height="21.41" fill="#471365"/><rect x="1406.50" y="744.51" width="21.03" height="21.41" fill="#481c6e"/><rect x="1426.92" y="744.51" width="21.03" height="21.41" fill="#440154"/><rect x="1447.35" y="744.51" width="21.03" height="21.41" fill="#440154"/><rect x="1467.77" y="744.51" width="21.03" height="21.41" fill="#482475"/><rect x="1243.10" y="765.32" width="21.03" height="21.41" fill="#1fa287"/><rect x="1263.52" y="765.32" width="21.03" height="21.41" fill="#3b528b"/><rect x="1283.95" y="765.32" width="21.03" height="21.41" fill="#481c6e"/><rect x="1304.38" y="765.32" width="21.03" height="21.41" fill="#443b84"/><rect x="1324.80" y="765.32" width="21.03" height="21.41" fill="#440154"/><rect x="1345.22" y="765.32" width="21.03" height="21.41" fill="#414487"/><rect x="1365.65" y="765.32" width="21.03" height="21.41" fill="#414487"/><rect x="1386.07" y="765.32" width="21.03" height="21.41" fill="#481c6e"/><rect x="1406.50" y="765.32" width="21.03" height="21.41" fill="#440154"/><rect x="1426.92" y="765.32" width="21.03" height="21.41" fill="#460a5d"/><rect x="1447.35" y="765.32" width="21.03" height="21.41" fill="#440154"/><rect x="1467.77" y="765.32" width="21.03" height="21.41" fill="#463480"/><rect x="1243.10" y="786.12" width="21.03" height="21.41" fill="#472d7b"/><rect x="1263.52" y="786.12" width="21.03" height="21.41" fill="#443b84"/><rect x="1283.95" y="786.12" width="21.03" height="21.41" fill="#355f8d"/><rect x="1304.38" y="786.12" width="21.03" height="21.41" fill="#3b528b"/><rect x="1324.80" y="786.12" width="21.03" height="21.41" fill="#443b84"/><rect x="1345.22" y="786.12" width="21.03" height="21.41" fill="#482475"/><rect x="1365.65" y="786.12" width="21.03" height="21.41" fill="#482475"/><rect x="1386.07" y="786.12" width="21.03" height="21.41" fill="#482475"/><rect x="1406.50" y="786.12" width="21.03" height="21.41" fill="#2f6c8e"/><rect x="1426.92" y="786.12" width="21.03" height="21.41" fill="#460a5d"/><rect x="1447.35" y="786.12" width="21.03" height="21.41" fill="#460a5d"/><rect x="1467.77" y="786.12" width="21.03" height="21.41" fill="#481c6e"/><rect x="1243.10" y="806.93" width="21.03" height="21.41" fill="#460a5d"/><rect x="1263.52" y="806.93" width="21.03" height="21.41" fill="#472d7b"/><rect x="1283.95" y="806.93" width="21.03" height="21.41" fill="#3e4a89"/><rect x="1304.38" y="806.93" width="21.03" height="21.41" fill="#1e9c89"/><rect x="1324.80" y="806.93" width="21.03" height="21.41" fill="#471365"/><rect x="1345.22" y="806.93" width="21.03" height="21.41" fill="#38598c"/><rect x="1365.65" y="806.93" width="21.03" height="21.41" fill="#460a5d"/><rect x="1386.07" y="806.93" width="21.03" height="21.41" fill="#482475"/><rect x="1406.50" y="806.93" width="21.03" height="21.41" fill="#471365"/><rect x="1426.92" y="806.93" width="21.03" height="21.41" fill="#472d7b"/><rect x="1447.35" y="806.93" width="21.03" height="21.41" fill="#440154"/><rect x="1467.77" y="806.93" width="21.03" height="21.41" fill="#414487"/><rect x="1243.10" y="827.74" width="21.03" height="21.41" fill="#355f8d"/><rect x="1263.52" y="827.74" width="21.03" height="21.41" fill="#463480"/><rect x="1283.95" y="827.74" width="21.03" height="21.41" fill="#481c6e"/><rect x="1304.38" y="827.74" width="21.03" height="21.41" fill="#38598c"/><rect x="1324.80" y="827.74" width="21.03" height="21.41" fill="#482475"/><rect x="1345.22" y="827.74" width="21.03" height="21.41" fill="#481c6e"/><rect x="1365.65" y="827.74" width="21.03" height="21.41" fill="#443b84"/><rect x="1386.07" y="827.74" width="21.03" height="21.41" fill="#443b84"/><rect x="1406.50" y="827.74" width="21.03" height="21.41" fill="#482475"/><rect x="1426.92" y="827.74" width="21.03" height="21.41" fill="#463480"/><rect x="1447.35" y="827.74" width="21.03" height="21.41" fill="#440154"/><rect x="1467.77" y="827.74" width="21.03" height="21.41" fill="#414487"/><rect x="1243.10" y="848.55" width="21.03" height="21.41" fill="#31668e"/><rect x="1263.52" y="848.55" width="21.03" height="21.41" fill="#471365"/><rect x="1283.95" y="848.55" width="21.03" height="21.41" fill="#414487"/><rect x="1304.38" y="848.55" width="21.03" height="21.41" fill="#481c6e"/><rect x="1324.80" y="848.55" width="21.03" height="21.41" fill="#463480"/><rect x="1345.22" y="848.55" width="21.03" height="21.41" fill="#238a8d"/><rect x="1365.65" y="848.55" width="21.03" height="21.41" fill="#440154"/><rect x="1386.07" y="848.55" width="21.03" height="21.41" fill="#472d7b"/><rect x="1406.50" y="848.55" width="21.03" height="21.41" fill="#472d7b"/><rect x="1426.92" y="848.55" width="21.03" height="21.41" fill="#440154"/><rect x="1447.35" y="848.55" width="21.03" height="21.41" fill="#460a5d"/><rect x="1467.77" y="848.55" width="21.03" height="21.41" fill="#481c6e"/><rect x="1243.10" y="869.36" width="21.03" height="21.41" fill="#2fb47c"/><rect x="1263.52" y="869.36" width="21.03" height="21.41" fill="#471365"/><rect x="1283.95" y="869.36" width="21.03" height="21.41" fill="#472d7b"/><rect x="1304.38" y="869.36" width="21.03" height="21.41" fill="#460a5d"/><rect x="1324.80" y="869.36" width="21.03" height="21.41" fill="#471365"/><rect x="1345.22" y="869.36" width="21.03" height="21.41" fill="#414487"/><rect x="1365.65" y="869.36" width="21.03" height="21.41" fill="#463480"/><rect x="1386.07" y="869.36" width="21.03" height="21.41" fill="#481c6e"/><rect x="1406.50" y="869.36" width="21.03" height="21.41" fill="#414487"/><rect x="1426.92" y="869.36" width="21.03" height="21.41" fill="#471365"/><rect x="1447.35" y="869.36" width="21.03" height="21.41" fill="#440154"/><rect x="1467.77" y="869.36" width="21.03" height="21.41" fill="#482475"/><rect x="1243.10" y="890.17" width="21.03" height="21.41" fill="#6ccd5a"/><rect x="1263.52" y="890.17" width="21.03" height="21.41" fill="#481c6e"/><rect x="1283.95" y="890.17" width="21.03" height="21.41" fill="#471365"/><rect x="1304.38" y="890.17" width="21.03" height="21.41" fill="#471365"/><rect x="1324.80" y="890.17" width="21.03" height="21.41" fill="#481c6e"/><rect x="1345.22" y="890.17" width="21.03" height="21.41" fill="#472d7b"/><rect x="1365.65" y="890.17" width="21.03" height="21.41" fill="#471365"/><rect x="1386.07" y="890.17" width="21.03" height="21.41" fill="#414487"/><rect x="1406.50" y="890.17" width="21.03" height="21.41" fill="#440154"/><rect x="1426.92" y="890.17" width="21.03" height="21.41" fill="#481c6e"/><rect x="1447.35" y="890.17" width="21.03" height="21.41" fill="#440154"/><rect x="1467.77" y="890.17" width="21.03" height="21.41" fill="#3b528b"/><rect x="1243.10" y="910.98" width="21.03" height="21.41" fill="#463480"/><rect x="1263.52" y="910.98" width="21.03" height="21.41" fill="#460a5d"/><rect x="1283.95" y="910.98" width="21.03" height="21.41" fill="#471365"/><rect x="1304.38" y="910.98" width="21.03" height="21.41" fill="#3e4a89"/><rect x="1324.80" y="910.98" width="21.03" height="21.41" fill="#481c6e"/><rect x="1345.22" y="910.98" width="21.03" height="21.41" fill="#481c6e"/><rect x="1365.65" y="910.98" width="21.03" height="21.41" fill="#414487"/><rect x="1386.07" y="910.98" width="21.03" height="21.41" fill="#482475"/><rect x="1406.50" y="910.98" width="21.03" height="21.41" fill="#238a8d"/><rect x="1426.92" y="910.98" width="21.03" height="21.41" fill="#443b84"/><rect x="1447.35" y="910.98" width="21.03" height="21.41" fill="#481c6e"/><rect x="1467.77" y="910.98" width="21.03" height="21.41" fill="#25848e"/><rect x="1243.10" y="931.78" width="21.03" height="21.41" fill="#28ae80"/><rect x="1263.52" y="931.78" width="21.03" height="21.41" fill="#472d7b"/><rect x="1283.95" y="931.78" width="21.03" height="21.41" fill="#482475"/><rect x="1304.38" y="931.78" width="21.03" height="21.41" fill="#440154"/><rect x="1324.80" y="931.78" width="21.03" height="21.41" fill="#440154"/><rect x="1345.22" y="931.78" width="21.03" height="21.41" fill="#482475"/><rect x="1365.65" y="931.78" width="21.03" height="21.41" fill="#463480"/><rect x="1386.07" y="931.78" width="21.03" height="21.41" fill="#443b84"/><rect x="1406.50" y="931.78" width="21.03" height="21.41" fill="#472d7b"/><rect x="1426.92" y="931.78" width="21.03" height="21.41" fill="#481c6e"/><rect x="1447.35" y="931.78" width="21.03" height="21.41" fill="#440154"/><rect x="1467.77" y="931.78" width="21.03" height="21.41" fill="#277e8e"/><rect x="1243.10" y="952.59" width="21.03" height="21.41" fill="#efe51c"/><rect x="1263.52" y="952.59" width="21.03" height="21.41" fill="#472d7b"/><rect x="1283.95" y="952.59" width="21.03" height="21.41" fill="#482475"/><rect x="1304.38" y="952.59" width="21.03" height="21.41" fill="#440154"/><rect x="1324.80" y="952.59" width="21.03" height="21.41" fill="#440154"/><rect x="1345.22" y="952.59" width="21.03" height="21.41" fill="#460a5d"/><rect x="1365.65" y="952.59" width="21.03" height="21.41" fill="#460a5d"/><rect x="1386.07" y="952.59" width="21.03" height="21.41" fill="#443b84"/><rect x="1406.50" y="952.59" width="21.03" height="21.41" fill="#471365"/><rect x="1426.92" y="952.59" width="21.03" height="21.41" fill="#460a5d"/><rect x="1447.35" y="952.59" width="21.03" height="21.41" fill="#440154"/><rect x="1467.77" y="952.59" width="21.03" height="21.41" fill="#38598c"/><text transform="translate(1328.37 716.00) scale(1.0611 1)" font-size="18.42">Head 12</text><line x1="1237.80" y1="735.00" x2="1243.10" y2="735.00" stroke="#6a6a6a" stroke-width="1.60"/><text transform="translate(1193.36 739.00) scale(1.0236 1)" font-size="15.11">[CLS]</text><line x1="1237.80" y1="755.81" x2="1243.10" y2="755.81" stroke="#6a6a6a" stroke-width="1.60"/><text transform="translate(1208.37 759.81) scale(1.1336 1)" font-size="15.11">the</text><line x1="1237.80" y1="776.62" x2="1243.10" y2="776.62" stroke="#6a6a6a" stroke-width="1.60"/><text transform="translate(1193.25 780.62) scale(1.1024 1)" font-size="15.11">quick</text><line x1="1237.80" y1="797.43" x2="1243.10" y2="797.43" stroke="#6a6a6a" stroke-width="1.60"/><text transform="translate(1187.40 801.43) scale(1.0843 1)" font-size="15.11">brown</text><line x1="1237.80" y1="818.24" x2="1243.10" y2="818.24" stroke="#6a6a6a" stroke-width="1.60"/><text transform="translate(1210.04 822.24) scale(1.0841 1)" font-size="15.11">fox</text><line x1="1237.80" y1="839.05" x2="1243.10" y2="839.05" stroke="#6a6a6a" stroke-width="1.60"/><text transform="translate(1187.93 843.05) scale(1.0954 1)" font-size="15.11">jumps</text><line x1="1237.80" y1="859.85" x2="1243.10" y2="859.85" stroke="#6a6a6a" stroke-width="1.60"/><text transform="translate(1199.74 863.85) scale(1.1137 1)" font-size="15.11">over</text><line x1="1237.80" y1="880.66" x2="1243.10" y2="880.66" stroke="#6a6a6a" stroke-width="1.60"/><text transform="translate(1208.37 884.66) scale(1.1336 1)" font-size="15.11">the</text><line x1="1237.80" y1="901.47" x2="1243.10" y2="901.47" stroke="#6a6a6a" stroke-width="1.60"/><text transform="translate(1203.18 905.47) scale(1.0647 1)" font-size="15.11">lazy</text><line x1="1237.80" y1="922.28" x2="1243.10" y2="922.28" stroke="#6a6a6a" stroke-width="1.60"/><text transform="translate(1204.85 926.28) scale(1.0734 1)" font-size="15.11">dog</text><line x1="1237.80" y1="943.09" x2="1243.10" y2="943.09" stroke="#6a6a6a" stroke-width="1.60"/><text transform="translate(1227.68 947.09) scale(1.0454 1)" font-size="15.11">.</text><line x1="1237.80" y1="963.90" x2="1243.10" y2="963.90" stroke="#6a6a6a" stroke-width="1.60"/><text transform="translate(1193.70 967.90) scale(0.9918 1)" font-size="15.11">[SEP]</text><line x1="1253.31" y1="973.40" x2="1253.31" y2="978.70" stroke="#6a6a6a" stroke-width="1.60"/><text transform="translate(1257.16 1025.74) rotate(-90) scale(1.0236 1)" font-size="15.11">[CLS]</text><line x1="1273.74" y1="973.40" x2="1273.74" y2="978.70" stroke="#6a6a6a" stroke-width="1.60"/><text transform="translate(1277.59 1010.73) rotate(-90) scale(1.1336 1)" font-size="15.11">the</text><line x1="1294.16" y1="973.40" x2="1294.16" y2="978.70" stroke="#6a6a6a" stroke-width="1.60"/><text transform="translate(1298.01 1025.85) rotate(-90) scale(1.1024 1)" font-size="15.11">quick</text><line x1="1314.59" y1="973.40" x2="1314.59" y2="978.70" stroke="#6a6a6a" stroke-width="1.60"/><text transform="translate(1318.44 1031.70) rotate(-90) scale(1.0843 1)" font-size="15.11">brown</text><line x1="1335.01" y1="973.40" x2="1335.01" y2="978.70" stroke="#6a6a6a" stroke-width="1.60"/><text transform="translate(1338.86 1009.06) rotate(-90) scale(1.0841 1)" font-size="15.11">fox</text><line x1="1355.44" y1="973.40" x2="1355.44" y2="978.70" stroke="#6a6a6a" stroke-width="1.60"/><text transform="translate(1359.29 1031.17) rotate(-90) scale(1.0954 1)" font-size="15.11">jumps</text><line x1="1375.86" y1="973.40" x2="1375.86" y2="978.70" stroke="#6a6a6a" stroke-width="1.60"/><text transform="translate(1379.71 1019.36) rotate(-90) scale(1.1137 1)" font-size="15.11">over</text><line x1="1396.29" y1="973.40" x2="1396.29" y2="978.70" stroke="#6a6a6a" stroke-width="1.60"/><text transform="translate(1400.14 1010.73) rotate(-90) scale(1.1336 1)" font-size="15.11">the</text><line x1="1416.71" y1="973.40" x2="1416.71" y2="978.70" stroke="#6a6a6a" stroke-width="1.60"/><text transform="translate(1420.56 1015.92) rotate(-90) scale(1.0647 1)" font-size="15.11">lazy</text><line x1="1437.14" y1="973.40" x2="1437.14" y2="978.70" stroke="#6a6a6a" stroke-width="1.60"/><text transform="translate(1440.99 1014.25) rotate(-90) scale(1.0734 1)" font-size="15.11">dog</text><line x1="1457.56" y1="973.40" x2="1457.56" y2="978.70" stroke="#6a6a6a" stroke-width="1.60"/><text transform="translate(1461.41 991.42) rotate(-90) scale(1.0454 1)" font-size="15.11">.</text><line x1="1477.99" y1="973.40" x2="1477.99" y2="978.70" stroke="#6a6a6a" stroke-width="1.60"/><text transform="translate(1481.84 1025.40) rotate(-90) scale(0.9918 1)" font-size="15.11">[SEP]</text><rect x="1503.70" y="723.70" width="13.00" height="249.70" fill="url(#vir)"/><line x1="1516.70" y1="724.90" x2="1522.00" y2="724.90" stroke="#6a6a6a" stroke-width="1.60"/><text transform="translate(1526.73 731.80) scale(1.0548 1)" font-size="15.48">0.6</text><line x1="1516.70" y1="766.65" x2="1522.00" y2="766.65" stroke="#6a6a6a" stroke-width="1.60"/><text transform="translate(1526.74 773.55) scale(1.0356 1)" font-size="15.48">0.5</text><line x1="1516.70" y1="808.40" x2="1522.00" y2="808.40" stroke="#6a6a6a" stroke-width="1.60"/><text transform="translate(1526.73 815.30) scale(1.0480 1)" font-size="15.48">0.4</text><line x1="1516.70" y1="850.40" x2="1522.00" y2="850.40" stroke="#6a6a6a" stroke-width="1.60"/><text transform="translate(1526.73 857.30) scale(1.0424 1)" font-size="15.48">0.3</text><line x1="1516.70" y1="891.65" x2="1522.00" y2="891.65" stroke="#6a6a6a" stroke-width="1.60"/><text transform="translate(1526.74 898.55) scale(1.0329 1)" font-size="15.48">0.2</text><line x1="1516.70" y1="933.65" x2="1522.00" y2="933.65" stroke="#6a6a6a" stroke-width="1.60"/><text transform="translate(1526.74 940.55) scale(1.0374 1)" font-size="15.48">0.1</text></g>
</g></svg></body></html>
